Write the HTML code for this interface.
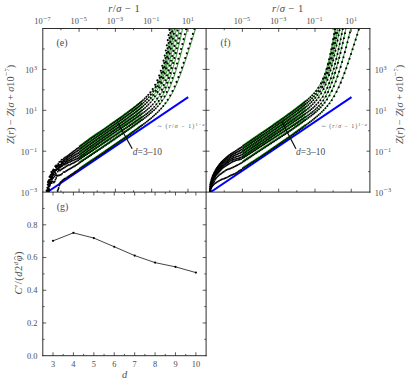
<!DOCTYPE html>
<html><head><meta charset="utf-8"><title>figure</title>
<style>html,body{margin:0;padding:0;background:#fff;}svg{display:block;}</style>
</head><body>
<svg width="407" height="384" viewBox="0 0 407 384">
<rect width="407" height="384" fill="#fff"/>
<clipPath id="clipe"><rect x="42.8" y="28.5" width="163.3" height="163.6"/></clipPath>
<g clip-path="url(#clipe)">
<line x1="47.1" y1="192.3" x2="188.2" y2="97.1" stroke="#0000ff" stroke-width="1.9"/>
<polyline fill="none" stroke="#008000" stroke-width="1.7" points="79.09,168.62 79.45,168.38 79.81,168.13 80.18,167.89 80.54,167.64 80.9,167.4 81.27,167.15 81.63,166.91 81.99,166.67 82.35,166.42 82.72,166.18 83.08,165.93 83.44,165.69 83.81,165.44 84.17,165.2 84.53,164.96 84.9,164.71 85.26,164.47 85.62,164.22 85.98,163.98 86.35,163.73 86.71,163.49 87.07,163.24 87.44,163 87.8,162.75 88.16,162.51 88.52,162.26 88.89,162.02 89.25,161.77 89.61,161.53 89.98,161.28 90.34,161.04 90.7,160.79 91.06,160.55 91.43,160.3 91.79,160.06 92.15,159.81 92.52,159.57 92.88,159.32 93.24,159.08 93.6,158.83 93.97,158.59 94.33,158.34 94.69,158.09 95.06,157.85 95.42,157.6 95.78,157.36 96.14,157.11 96.51,156.87 96.87,156.62 97.23,156.37 97.6,156.13 97.96,155.88 98.32,155.64 98.68,155.39 99.05,155.14 99.41,154.9 99.77,154.65 100.14,154.4 100.5,154.16 100.86,153.91 101.23,153.66 101.59,153.42 101.95,153.17 102.31,152.92 102.68,152.68 103.04,152.43 103.4,152.18 103.77,151.94 104.13,151.69 104.49,151.44 104.85,151.19 105.22,150.95 105.58,150.7 105.94,150.45 106.31,150.2 106.67,149.96 107.03,149.71 107.39,149.46 107.76,149.21 108.12,148.96 108.48,148.72 108.85,148.47 109.21,148.22 109.57,147.97 109.93,147.72 110.3,147.47 110.66,147.22 111.02,146.98 111.39,146.73 111.75,146.48 112.11,146.23 112.47,145.98 112.84,145.73 113.2,145.48 113.56,145.23 113.93,144.98 114.29,144.73 114.65,144.48 115.01,144.23 115.38,143.98 115.74,143.73 116.1,143.48 116.47,143.23 116.83,142.98 117.19,142.72 117.56,142.47 117.92,142.22 118.28,141.97 118.64,141.72 119.01,141.47 119.37,141.21 119.73,140.96 120.1,140.71 120.46,140.46 120.82,140.2 121.18,139.95 121.55,139.7 121.91,139.44 122.27,139.19 122.64,138.94 123,138.68 123.36,138.43 123.72,138.18 124.09,137.92 124.45,137.67 124.81,137.41 125.18,137.16 125.54,136.9 125.9,136.65 126.26,136.39 126.63,136.13 126.99,135.88 127.35,135.62 127.72,135.36 128.08,135.11 128.44,134.85 128.8,134.59 129.17,134.33 129.53,134.08 129.89,133.82 130.26,133.56 130.62,133.3 130.98,133.04 131.34,132.78 131.71,132.52 132.07,132.26 132.43,132 132.8,131.74 133.16,131.48 133.52,131.22 133.89,130.96 134.25,130.69 134.61,130.43 134.97,130.17 135.34,129.9 135.7,129.64 136.06,129.38 136.43,129.11 136.79,128.85 137.15,128.58 137.51,128.32 137.88,128.05 138.24,127.78 138.6,127.52 138.97,127.25 139.33,126.98 139.69,126.71 140.05,126.44 140.42,126.17 140.78,125.9 141.14,125.63 141.51,125.36 141.87,125.09 142.23,124.81 142.59,124.54"/>
<polyline fill="none" stroke="#008000" stroke-width="0.85" points="142.59,124.54 142.96,124.27 143.32,123.99 143.68,123.72 144.05,123.44 144.41,123.16 144.77,122.88 145.13,122.61 145.5,122.33 145.86,122.05 146.22,121.76 146.59,121.48 146.95,121.2 147.31,120.92 147.67,120.63 148.04,120.34 148.4,120.06 148.76,119.77 149.13,119.48 149.49,119.19 149.85,118.9 150.22,118.6 150.58,118.31 150.94,118.01 151.3,117.71 151.67,117.41 152.03,117.11 152.39,116.81 152.76,116.5 153.12,116.2 153.48,115.89 153.84,115.58 154.21,115.26 154.57,114.95 154.93,114.63 155.3,114.31 155.66,113.99 156.02,113.66 156.38,113.34 156.75,113.01 157.11,112.67 157.47,112.33 157.84,111.99 158.2,111.65 158.56,111.3 158.92,110.95 159.29,110.59 159.65,110.23 160.01,109.87 160.38,109.5 160.74,109.13 161.1,108.75 161.46,108.36 161.83,107.97 162.19,107.58 162.55,107.17 162.92,106.77 163.28,106.35 163.64,105.93 164,105.5 164.37,105.07 164.73,104.62 165.09,104.17 165.46,103.71 165.82,103.24 166.18,102.76 166.55,102.27 166.91,101.78 167.27,101.27 167.63,100.75 168,100.22 168.36,99.69 168.72,99.14 169.09,98.57 169.45,98 169.81,97.42 170.17,96.82 170.54,96.21 170.9,95.59 171.26,94.95 171.63,94.3 171.99,93.64 172.35,92.97 172.71,92.28 173.08,91.58 173.44,90.86 173.8,90.13 174.17,89.39 174.53,88.63 174.89,87.86 175.25,87.08 175.62,86.28 175.98,85.47 176.34,84.65 176.71,83.82 177.07,82.97 177.43,82.11 177.79,81.23 178.16,80.35 178.52,79.45 178.88,78.54 179.25,77.62 179.61,76.68 179.97,75.74 180.33,74.79 180.7,73.82 181.06,72.85 181.42,71.87 181.79,70.87 182.15,69.87 182.51,68.86 182.88,67.84 183.24,66.81 183.6,65.78 183.96,64.73 184.33,63.68 184.69,62.63 185.05,61.56 185.42,60.49 185.78,59.41 186.14,58.33 186.5,57.24 186.87,56.14 187.23,55.04 187.59,53.93 187.96,52.82 188.32,51.7 188.68,50.58 189.04,49.46 189.41,48.33 189.77,47.19 190.13,46.05 190.5,44.91 190.86,43.77 191.22,42.62 191.58,41.47 191.95,40.31 192.31,39.15 192.67,37.99 193.04,36.83 193.4,35.66 193.76,34.49 194.12,33.32 194.49,32.14 194.85,30.96 195.21,29.79 195.58,28.6 195.94,27.42 196.3,26.24 196.66,25.05 197.03,23.86 197.39,22.67 197.75,21.48"/>
<polyline fill="none" stroke="#008000" stroke-width="1.7" points="79.09,162.52 79.45,162.27 79.81,162.03 80.18,161.79 80.54,161.54 80.9,161.3 81.27,161.06 81.63,160.81 81.99,160.57 82.35,160.32 82.72,160.08 83.08,159.84 83.44,159.59 83.81,159.35 84.17,159.11 84.53,158.86 84.9,158.62 85.26,158.37 85.62,158.13 85.98,157.89 86.35,157.64 86.71,157.4 87.07,157.16 87.44,156.91 87.8,156.67 88.16,156.42 88.52,156.18 88.89,155.94 89.25,155.69 89.61,155.45 89.98,155.2 90.34,154.96 90.7,154.72 91.06,154.47 91.43,154.23 91.79,153.98 92.15,153.74 92.52,153.5 92.88,153.25 93.24,153.01 93.6,152.76 93.97,152.52 94.33,152.27 94.69,152.03 95.06,151.79 95.42,151.54 95.78,151.3 96.14,151.05 96.51,150.81 96.87,150.56 97.23,150.32 97.6,150.07 97.96,149.83 98.32,149.59 98.68,149.34 99.05,149.1 99.41,148.85 99.77,148.61 100.14,148.36 100.5,148.12 100.86,147.87 101.23,147.63 101.59,147.38 101.95,147.14 102.31,146.89 102.68,146.65 103.04,146.4 103.4,146.16 103.77,145.91 104.13,145.67 104.49,145.42 104.85,145.18 105.22,144.93 105.58,144.69 105.94,144.44 106.31,144.2 106.67,143.95 107.03,143.7 107.39,143.46 107.76,143.21 108.12,142.97 108.48,142.72 108.85,142.48 109.21,142.23 109.57,141.98 109.93,141.74 110.3,141.49 110.66,141.25 111.02,141 111.39,140.75 111.75,140.51 112.11,140.26 112.47,140.02 112.84,139.77 113.2,139.52 113.56,139.28 113.93,139.03 114.29,138.78 114.65,138.54 115.01,138.29 115.38,138.04 115.74,137.8 116.1,137.55 116.47,137.3 116.83,137.05 117.19,136.81 117.56,136.56 117.92,136.31 118.28,136.06 118.64,135.82 119.01,135.57 119.37,135.32 119.73,135.07 120.1,134.83 120.46,134.58 120.82,134.33 121.18,134.08 121.55,133.83 121.91,133.58 122.27,133.34 122.64,133.09 123,132.84 123.36,132.59 123.72,132.34 124.09,132.09 124.45,131.84 124.81,131.59 125.18,131.34 125.54,131.09 125.9,130.84 126.26,130.59 126.63,130.34 126.99,130.09 127.35,129.84 127.72,129.59 128.08,129.34 128.44,129.09 128.8,128.84 129.17,128.59 129.53,128.33 129.89,128.08 130.26,127.83 130.62,127.58 130.98,127.33 131.34,127.07 131.71,126.82 132.07,126.57 132.43,126.31 132.8,126.06 133.16,125.81 133.52,125.55 133.89,125.3 134.25,125.04 134.61,124.79 134.97,124.53 135.34,124.28 135.7,124.02 136.06,123.77 136.43,123.51 136.79,123.25 137.15,123 137.51,122.74 137.88,122.48 138.24,122.22 138.6,121.96 138.97,121.7 139.33,121.44 139.69,121.18 140.05,120.92 140.42,120.66 140.78,120.4 141.14,120.14 141.51,119.87 141.87,119.61 142.23,119.34 142.59,119.08"/>
<polyline fill="none" stroke="#008000" stroke-width="0.85" points="142.59,119.08 142.96,118.81 143.32,118.54 143.68,118.28 144.05,118.01 144.41,117.74 144.77,117.47 145.13,117.2 145.5,116.92 145.86,116.65 146.22,116.37 146.59,116.1 146.95,115.82 147.31,115.54 147.67,115.26 148.04,114.98 148.4,114.69 148.76,114.41 149.13,114.12 149.49,113.83 149.85,113.54 150.22,113.25 150.58,112.95 150.94,112.66 151.3,112.35 151.67,112.05 152.03,111.75 152.39,111.44 152.76,111.13 153.12,110.81 153.48,110.49 153.84,110.17 154.21,109.84 154.57,109.51 154.93,109.18 155.3,108.84 155.66,108.49 156.02,108.15 156.38,107.79 156.75,107.43 157.11,107.07 157.47,106.69 157.84,106.31 158.2,105.93 158.56,105.53 158.92,105.13 159.29,104.73 159.65,104.31 160.01,103.88 160.38,103.45 160.74,103 161.1,102.55 161.46,102.08 161.83,101.6 162.19,101.11 162.55,100.61 162.92,100.1 163.28,99.58 163.64,99.04 164,98.48 164.37,97.92 164.73,97.33 165.09,96.74 165.46,96.13 165.82,95.5 166.18,94.85 166.55,94.19 166.91,93.51 167.27,92.82 167.63,92.1 168,91.37 168.36,90.62 168.72,89.85 169.09,89.07 169.45,88.26 169.81,87.44 170.17,86.59 170.54,85.73 170.9,84.85 171.26,83.95 171.63,83.04 171.99,82.1 172.35,81.15 172.71,80.17 173.08,79.18 173.44,78.17 173.8,77.15 174.17,76.1 174.53,75.04 174.89,73.97 175.25,72.87 175.62,71.76 175.98,70.63 176.34,69.49 176.71,68.33 177.07,67.16 177.43,65.97 177.79,64.76 178.16,63.55 178.52,62.31 178.88,61.07 179.25,59.81 179.61,58.54 179.97,57.25 180.33,55.96 180.7,54.65 181.06,53.33 181.42,52 181.79,50.66 182.15,49.3 182.51,47.94 182.88,46.57 183.24,45.18 183.6,43.79 183.96,42.39 184.33,40.98 184.69,39.56 185.05,38.13 185.42,36.7 185.78,35.25 186.14,33.8 186.5,32.34 186.87,30.88 187.23,29.4 187.59,27.92 187.96,26.44 188.32,24.95 188.68,23.45 189.04,21.95"/>
<polyline fill="none" stroke="#008000" stroke-width="1.7" points="79.09,158.97 79.45,158.73 79.81,158.49 80.18,158.24 80.54,158 80.9,157.76 81.27,157.51 81.63,157.27 81.99,157.03 82.35,156.78 82.72,156.54 83.08,156.3 83.44,156.06 83.81,155.81 84.17,155.57 84.53,155.33 84.9,155.08 85.26,154.84 85.62,154.6 85.98,154.36 86.35,154.11 86.71,153.87 87.07,153.63 87.44,153.38 87.8,153.14 88.16,152.9 88.52,152.65 88.89,152.41 89.25,152.17 89.61,151.93 89.98,151.68 90.34,151.44 90.7,151.2 91.06,150.95 91.43,150.71 91.79,150.47 92.15,150.22 92.52,149.98 92.88,149.74 93.24,149.5 93.6,149.25 93.97,149.01 94.33,148.77 94.69,148.52 95.06,148.28 95.42,148.04 95.78,147.8 96.14,147.55 96.51,147.31 96.87,147.07 97.23,146.82 97.6,146.58 97.96,146.34 98.32,146.09 98.68,145.85 99.05,145.61 99.41,145.37 99.77,145.12 100.14,144.88 100.5,144.64 100.86,144.39 101.23,144.15 101.59,143.91 101.95,143.67 102.31,143.42 102.68,143.18 103.04,142.94 103.4,142.69 103.77,142.45 104.13,142.21 104.49,141.96 104.85,141.72 105.22,141.48 105.58,141.24 105.94,140.99 106.31,140.75 106.67,140.51 107.03,140.26 107.39,140.02 107.76,139.78 108.12,139.53 108.48,139.29 108.85,139.05 109.21,138.81 109.57,138.56 109.93,138.32 110.3,138.08 110.66,137.83 111.02,137.59 111.39,137.35 111.75,137.1 112.11,136.86 112.47,136.62 112.84,136.38 113.2,136.13 113.56,135.89 113.93,135.65 114.29,135.4 114.65,135.16 115.01,134.92 115.38,134.67 115.74,134.43 116.1,134.19 116.47,133.95 116.83,133.7 117.19,133.46 117.56,133.22 117.92,132.97 118.28,132.73 118.64,132.49 119.01,132.24 119.37,132 119.73,131.76 120.1,131.51 120.46,131.27 120.82,131.03 121.18,130.78 121.55,130.54 121.91,130.3 122.27,130.05 122.64,129.81 123,129.57 123.36,129.32 123.72,129.08 124.09,128.84 124.45,128.59 124.81,128.35 125.18,128.11 125.54,127.86 125.9,127.62 126.26,127.38 126.63,127.13 126.99,126.89 127.35,126.64 127.72,126.4 128.08,126.16 128.44,125.91 128.8,125.67 129.17,125.42 129.53,125.18 129.89,124.94 130.26,124.69 130.62,124.45 130.98,124.2 131.34,123.96 131.71,123.71 132.07,123.47 132.43,123.22 132.8,122.98 133.16,122.73 133.52,122.49 133.89,122.24 134.25,121.99 134.61,121.75 134.97,121.5 135.34,121.25 135.7,121.01 136.06,120.76 136.43,120.51 136.79,120.26 137.15,120.02 137.51,119.77 137.88,119.52 138.24,119.27 138.6,119.02 138.97,118.77 139.33,118.52 139.69,118.27 140.05,118.01 140.42,117.76 140.78,117.51 141.14,117.26 141.51,117 141.87,116.75 142.23,116.49 142.59,116.23"/>
<polyline fill="none" stroke="#008000" stroke-width="0.85" points="142.59,116.23 142.96,115.97 143.32,115.72 143.68,115.45 144.05,115.19 144.41,114.93 144.77,114.67 145.13,114.4 145.5,114.14 145.86,113.87 146.22,113.6 146.59,113.32 146.95,113.05 147.31,112.77 147.67,112.5 148.04,112.22 148.4,111.93 148.76,111.65 149.13,111.36 149.49,111.07 149.85,110.77 150.22,110.47 150.58,110.17 150.94,109.86 151.3,109.55 151.67,109.24 152.03,108.92 152.39,108.59 152.76,108.26 153.12,107.93 153.48,107.58 153.84,107.24 154.21,106.88 154.57,106.52 154.93,106.15 155.3,105.77 155.66,105.38 156.02,104.99 156.38,104.58 156.75,104.17 157.11,103.74 157.47,103.31 157.84,102.86 158.2,102.4 158.56,101.92 158.92,101.44 159.29,100.94 159.65,100.43 160.01,99.9 160.38,99.35 160.74,98.8 161.1,98.22 161.46,97.63 161.83,97.02 162.19,96.39 162.55,95.74 162.92,95.08 163.28,94.39 163.64,93.69 164,92.96 164.37,92.22 164.73,91.45 165.09,90.67 165.46,89.86 165.82,89.03 166.18,88.18 166.55,87.31 166.91,86.41 167.27,85.5 167.63,84.56 168,83.6 168.36,82.62 168.72,81.62 169.09,80.6 169.45,79.55 169.81,78.48 170.17,77.39 170.54,76.28 170.9,75.15 171.26,74 171.63,72.82 171.99,71.63 172.35,70.41 172.71,69.17 173.08,67.92 173.44,66.64 173.8,65.34 174.17,64.02 174.53,62.69 174.89,61.33 175.25,59.95 175.62,58.56 175.98,57.14 176.34,55.71 176.71,54.26 177.07,52.79 177.43,51.3 177.79,49.8 178.16,48.28 178.52,46.74 178.88,45.19 179.25,43.61 179.61,42.03 179.97,40.42 180.33,38.81 180.7,37.17 181.06,35.53 181.42,33.87 181.79,32.19 182.15,30.5 182.51,28.8 182.88,27.09 183.24,25.36 183.6,23.62 183.96,21.87"/>
<polyline fill="none" stroke="#008000" stroke-width="1.7" points="79.09,156.97 79.45,156.76 79.81,156.53 80.18,156.29 80.54,156.04 80.9,155.79 81.27,155.53 81.63,155.28 81.99,155.02 82.35,154.76 82.72,154.49 83.08,154.22 83.44,153.96 83.81,153.69 84.17,153.42 84.53,153.14 84.9,152.87 85.26,152.6 85.62,152.32 85.98,152.05 86.35,151.78 86.71,151.5 87.07,151.23 87.44,150.96 87.8,150.69 88.16,150.42 88.52,150.15 88.89,149.89 89.25,149.62 89.61,149.36 89.98,149.1 90.34,148.85 90.7,148.59 91.06,148.33 91.43,148.08 91.79,147.82 92.15,147.56 92.52,147.31 92.88,147.05 93.24,146.79 93.6,146.54 93.97,146.28 94.33,146.03 94.69,145.77 95.06,145.52 95.42,145.26 95.78,145 96.14,144.75 96.51,144.49 96.87,144.24 97.23,143.99 97.6,143.73 97.96,143.48 98.32,143.22 98.68,142.97 99.05,142.72 99.41,142.46 99.77,142.21 100.14,141.96 100.5,141.71 100.86,141.46 101.23,141.2 101.59,140.95 101.95,140.7 102.31,140.45 102.68,140.2 103.04,139.95 103.4,139.71 103.77,139.46 104.13,139.21 104.49,138.96 104.85,138.71 105.22,138.47 105.58,138.22 105.94,137.98 106.31,137.73 106.67,137.49 107.03,137.24 107.39,137 107.76,136.76 108.12,136.51 108.48,136.27 108.85,136.02 109.21,135.78 109.57,135.53 109.93,135.29 110.3,135.05 110.66,134.8 111.02,134.56 111.39,134.31 111.75,134.07 112.11,133.83 112.47,133.58 112.84,133.34 113.2,133.09 113.56,132.85 113.93,132.6 114.29,132.36 114.65,132.11 115.01,131.87 115.38,131.62 115.74,131.38 116.1,131.14 116.47,130.89 116.83,130.65 117.19,130.4 117.56,130.16 117.92,129.91 118.28,129.67 118.64,129.42 119.01,129.18 119.37,128.93 119.73,128.69 120.1,128.44 120.46,128.2 120.82,127.95 121.18,127.7 121.55,127.46 121.91,127.21 122.27,126.97 122.64,126.72 123,126.48 123.36,126.23 123.72,125.98 124.09,125.74 124.45,125.49 124.81,125.25 125.18,125 125.54,124.75 125.9,124.51 126.26,124.26 126.63,124.01 126.99,123.77 127.35,123.52 127.72,123.27 128.08,123.03 128.44,122.78 128.8,122.53 129.17,122.28 129.53,122.04 129.89,121.79 130.26,121.54 130.62,121.29 130.98,121.04 131.34,120.79 131.71,120.55 132.07,120.3 132.43,120.05 132.8,119.8 133.16,119.55 133.52,119.3 133.89,119.05 134.25,118.8 134.61,118.55 134.97,118.29 135.34,118.04 135.7,117.79 136.06,117.54 136.43,117.28 136.79,117.03 137.15,116.78 137.51,116.52 137.88,116.27 138.24,116.01 138.6,115.75 138.97,115.5 139.33,115.24 139.69,114.98 140.05,114.72 140.42,114.46 140.78,114.2 141.14,113.94 141.51,113.68 141.87,113.41 142.23,113.15 142.59,112.88"/>
<polyline fill="none" stroke="#008000" stroke-width="0.85" points="142.59,112.88 142.96,112.62 143.32,112.35 143.68,112.08 144.05,111.81 144.41,111.53 144.77,111.26 145.13,110.98 145.5,110.7 145.86,110.42 146.22,110.14 146.59,109.85 146.95,109.57 147.31,109.28 147.67,108.98 148.04,108.69 148.4,108.39 148.76,108.08 149.13,107.78 149.49,107.47 149.85,107.15 150.22,106.84 150.58,106.51 150.94,106.19 151.3,105.85 151.67,105.51 152.03,105.17 152.39,104.82 152.76,104.46 153.12,104.1 153.48,103.73 153.84,103.35 154.21,102.96 154.57,102.57 154.93,102.16 155.3,101.75 155.66,101.32 156.02,100.88 156.38,100.44 156.75,99.98 157.11,99.51 157.47,99.02 157.84,98.52 158.2,98.01 158.56,97.48 158.92,96.94 159.29,96.38 159.65,95.8 160.01,95.2 160.38,94.59 160.74,93.96 161.1,93.3 161.46,92.63 161.83,91.94 162.19,91.22 162.55,90.49 162.92,89.73 163.28,88.95 163.64,88.14 164,87.31 164.37,86.46 164.73,85.58 165.09,84.68 165.46,83.75 165.82,82.8 166.18,81.82 166.55,80.81 166.91,79.78 167.27,78.72 167.63,77.64 168,76.53 168.36,75.39 168.72,74.23 169.09,73.04 169.45,71.82 169.81,70.57 170.17,69.3 170.54,68 170.9,66.68 171.26,65.33 171.63,63.95 171.99,62.55 172.35,61.12 172.71,59.66 173.08,58.18 173.44,56.67 173.8,55.14 174.17,53.58 174.53,52 174.89,50.39 175.25,48.76 175.62,47.1 175.98,45.42 176.34,43.72 176.71,41.99 177.07,40.24 177.43,38.47 177.79,36.68 178.16,34.86 178.52,33.03 178.88,31.17 179.25,29.29 179.61,27.39 179.97,25.48 180.33,23.54 180.7,21.59"/>
<polyline fill="none" stroke="#008000" stroke-width="1.7" points="79.09,154.42 79.45,154.19 79.81,153.95 80.18,153.7 80.54,153.45 80.9,153.19 81.27,152.93 81.63,152.67 81.99,152.41 82.35,152.15 82.72,151.88 83.08,151.62 83.44,151.35 83.81,151.08 84.17,150.81 84.53,150.54 84.9,150.26 85.26,149.99 85.62,149.72 85.98,149.45 86.35,149.17 86.71,148.9 87.07,148.63 87.44,148.36 87.8,148.09 88.16,147.82 88.52,147.56 88.89,147.29 89.25,147.03 89.61,146.76 89.98,146.5 90.34,146.25 90.7,146 91.06,145.74 91.43,145.49 91.79,145.23 92.15,144.98 92.52,144.73 92.88,144.47 93.24,144.22 93.6,143.96 93.97,143.71 94.33,143.46 94.69,143.2 95.06,142.95 95.42,142.69 95.78,142.44 96.14,142.19 96.51,141.93 96.87,141.68 97.23,141.43 97.6,141.18 97.96,140.92 98.32,140.67 98.68,140.42 99.05,140.17 99.41,139.92 99.77,139.66 100.14,139.41 100.5,139.16 100.86,138.91 101.23,138.66 101.59,138.41 101.95,138.16 102.31,137.91 102.68,137.66 103.04,137.41 103.4,137.16 103.77,136.91 104.13,136.66 104.49,136.41 104.85,136.17 105.22,135.92 105.58,135.67 105.94,135.42 106.31,135.18 106.67,134.93 107.03,134.69 107.39,134.44 107.76,134.19 108.12,133.95 108.48,133.7 108.85,133.46 109.21,133.21 109.57,132.96 109.93,132.72 110.3,132.47 110.66,132.22 111.02,131.98 111.39,131.73 111.75,131.48 112.11,131.24 112.47,130.99 112.84,130.74 113.2,130.5 113.56,130.25 113.93,130 114.29,129.76 114.65,129.51 115.01,129.26 115.38,129.01 115.74,128.76 116.1,128.52 116.47,128.27 116.83,128.02 117.19,127.77 117.56,127.53 117.92,127.28 118.28,127.03 118.64,126.78 119.01,126.53 119.37,126.28 119.73,126.03 120.1,125.78 120.46,125.54 120.82,125.29 121.18,125.04 121.55,124.79 121.91,124.54 122.27,124.29 122.64,124.04 123,123.79 123.36,123.54 123.72,123.29 124.09,123.04 124.45,122.78 124.81,122.53 125.18,122.28 125.54,122.03 125.9,121.78 126.26,121.53 126.63,121.27 126.99,121.02 127.35,120.77 127.72,120.52 128.08,120.26 128.44,120.01 128.8,119.75 129.17,119.5 129.53,119.25 129.89,118.99 130.26,118.74 130.62,118.48 130.98,118.22 131.34,117.97 131.71,117.71 132.07,117.45 132.43,117.2 132.8,116.94 133.16,116.68 133.52,116.42 133.89,116.16 134.25,115.9 134.61,115.64 134.97,115.38 135.34,115.12 135.7,114.85 136.06,114.59 136.43,114.32 136.79,114.06 137.15,113.79 137.51,113.53 137.88,113.26 138.24,112.99 138.6,112.72 138.97,112.45 139.33,112.18 139.69,111.9 140.05,111.63 140.42,111.35 140.78,111.07 141.14,110.79 141.51,110.51 141.87,110.23 142.23,109.95 142.59,109.66"/>
<polyline fill="none" stroke="#008000" stroke-width="0.85" points="142.59,109.66 142.96,109.37 143.32,109.08 143.68,108.79 144.05,108.49 144.41,108.19 144.77,107.89 145.13,107.59 145.5,107.28 145.86,106.97 146.22,106.66 146.59,106.34 146.95,106.02 147.31,105.7 147.67,105.37 148.04,105.04 148.4,104.7 148.76,104.36 149.13,104.01 149.49,103.65 149.85,103.29 150.22,102.93 150.58,102.55 150.94,102.17 151.3,101.78 151.67,101.39 152.03,100.99 152.39,100.57 152.76,100.15 153.12,99.72 153.48,99.28 153.84,98.83 154.21,98.36 154.57,97.89 154.93,97.4 155.3,96.9 155.66,96.39 156.02,95.86 156.38,95.32 156.75,94.76 157.11,94.19 157.47,93.6 157.84,93 158.2,92.37 158.56,91.73 158.92,91.07 159.29,90.39 159.65,89.69 160.01,88.97 160.38,88.23 160.74,87.47 161.1,86.68 161.46,85.87 161.83,85.04 162.19,84.18 162.55,83.3 162.92,82.39 163.28,81.46 163.64,80.51 164,79.52 164.37,78.51 164.73,77.48 165.09,76.41 165.46,75.32 165.82,74.2 166.18,73.06 166.55,71.88 166.91,70.67 167.27,69.44 167.63,68.18 168,66.88 168.36,65.56 168.72,64.21 169.09,62.82 169.45,61.41 169.81,59.97 170.17,58.49 170.54,56.99 170.9,55.45 171.26,53.88 171.63,52.28 171.99,50.66 172.35,49 172.71,47.31 173.08,45.59 173.44,43.84 173.8,42.06 174.17,40.25 174.53,38.41 174.89,36.54 175.25,34.64 175.62,32.71 175.98,30.76 176.34,28.78 176.71,26.77 177.07,24.73 177.43,22.67 177.79,20.58"/>
<polyline fill="none" stroke="#008000" stroke-width="1.7" points="79.09,151.76 79.45,151.51 79.81,151.26 80.18,151.01 80.54,150.75 80.9,150.49 81.27,150.23 81.63,149.96 81.99,149.7 82.35,149.43 82.72,149.17 83.08,148.9 83.44,148.63 83.81,148.36 84.17,148.09 84.53,147.82 84.9,147.55 85.26,147.28 85.62,147.01 85.98,146.74 86.35,146.47 86.71,146.2 87.07,145.93 87.44,145.66 87.8,145.39 88.16,145.12 88.52,144.85 88.89,144.59 89.25,144.32 89.61,144.06 89.98,143.8 90.34,143.54 90.7,143.29 91.06,143.04 91.43,142.79 91.79,142.54 92.15,142.29 92.52,142.03 92.88,141.78 93.24,141.53 93.6,141.28 93.97,141.03 94.33,140.77 94.69,140.52 95.06,140.27 95.42,140.02 95.78,139.77 96.14,139.52 96.51,139.26 96.87,139.01 97.23,138.76 97.6,138.51 97.96,138.26 98.32,138.01 98.68,137.76 99.05,137.51 99.41,137.25 99.77,137 100.14,136.75 100.5,136.5 100.86,136.25 101.23,136 101.59,135.75 101.95,135.5 102.31,135.25 102.68,135 103.04,134.75 103.4,134.5 103.77,134.25 104.13,134 104.49,133.75 104.85,133.5 105.22,133.25 105.58,133.01 105.94,132.76 106.31,132.51 106.67,132.26 107.03,132.01 107.39,131.77 107.76,131.52 108.12,131.27 108.48,131.02 108.85,130.77 109.21,130.52 109.57,130.27 109.93,130.03 110.3,129.78 110.66,129.53 111.02,129.28 111.39,129.03 111.75,128.78 112.11,128.53 112.47,128.28 112.84,128.03 113.2,127.78 113.56,127.53 113.93,127.28 114.29,127.03 114.65,126.78 115.01,126.53 115.38,126.28 115.74,126.03 116.1,125.78 116.47,125.52 116.83,125.27 117.19,125.02 117.56,124.77 117.92,124.52 118.28,124.27 118.64,124.01 119.01,123.76 119.37,123.51 119.73,123.26 120.1,123 120.46,122.75 120.82,122.5 121.18,122.24 121.55,121.99 121.91,121.73 122.27,121.48 122.64,121.23 123,120.97 123.36,120.72 123.72,120.46 124.09,120.2 124.45,119.95 124.81,119.69 125.18,119.44 125.54,119.18 125.9,118.92 126.26,118.66 126.63,118.41 126.99,118.15 127.35,117.89 127.72,117.63 128.08,117.37 128.44,117.11 128.8,116.85 129.17,116.59 129.53,116.33 129.89,116.07 130.26,115.81 130.62,115.54 130.98,115.28 131.34,115.02 131.71,114.75 132.07,114.49 132.43,114.22 132.8,113.96 133.16,113.69 133.52,113.43 133.89,113.16 134.25,112.89 134.61,112.62 134.97,112.35 135.34,112.08 135.7,111.81 136.06,111.53 136.43,111.26 136.79,110.99 137.15,110.71 137.51,110.43 137.88,110.16 138.24,109.88 138.6,109.6 138.97,109.32 139.33,109.03 139.69,108.75 140.05,108.46 140.42,108.18 140.78,107.89 141.14,107.59 141.51,107.3 141.87,107.01 142.23,106.71 142.59,106.41"/>
<polyline fill="none" stroke="#008000" stroke-width="0.85" points="142.59,106.41 142.96,106.11 143.32,105.81 143.68,105.5 144.05,105.19 144.41,104.88 144.77,104.56 145.13,104.24 145.5,103.92 145.86,103.6 146.22,103.27 146.59,102.94 146.95,102.6 147.31,102.26 147.67,101.91 148.04,101.56 148.4,101.2 148.76,100.84 149.13,100.47 149.49,100.1 149.85,99.72 150.22,99.33 150.58,98.94 150.94,98.54 151.3,98.13 151.67,97.71 152.03,97.28 152.39,96.84 152.76,96.4 153.12,95.94 153.48,95.47 153.84,94.99 154.21,94.5 154.57,93.99 154.93,93.47 155.3,92.94 155.66,92.39 156.02,91.83 156.38,91.25 156.75,90.66 157.11,90.05 157.47,89.42 157.84,88.77 158.2,88.1 158.56,87.41 158.92,86.69 159.29,85.96 159.65,85.21 160.01,84.43 160.38,83.62 160.74,82.8 161.1,81.94 161.46,81.06 161.83,80.16 162.19,79.22 162.55,78.26 162.92,77.27 163.28,76.25 163.64,75.2 164,74.11 164.37,73 164.73,71.86 165.09,70.68 165.46,69.47 165.82,68.23 166.18,66.95 166.55,65.64 166.91,64.29 167.27,62.91 167.63,61.5 168,60.05 168.36,58.56 168.72,57.04 169.09,55.48 169.45,53.89 169.81,52.26 170.17,50.59 170.54,48.89 170.9,47.15 171.26,45.37 171.63,43.56 171.99,41.71 172.35,39.83 172.71,37.91 173.08,35.95 173.44,33.96 173.8,31.93 174.17,29.87 174.53,27.77 174.89,25.64 175.25,23.48 175.62,21.28"/>
<polyline fill="none" stroke="#008000" stroke-width="1.7" points="79.09,149.1 79.45,148.84 79.81,148.58 80.18,148.32 80.54,148.06 80.9,147.79 81.27,147.53 81.63,147.26 81.99,146.99 82.35,146.72 82.72,146.46 83.08,146.19 83.44,145.92 83.81,145.65 84.17,145.38 84.53,145.11 84.9,144.84 85.26,144.57 85.62,144.3 85.98,144.03 86.35,143.76 86.71,143.5 87.07,143.23 87.44,142.96 87.8,142.69 88.16,142.42 88.52,142.16 88.89,141.89 89.25,141.62 89.61,141.36 89.98,141.1 90.34,140.85 90.7,140.6 91.06,140.35 91.43,140.1 91.79,139.85 92.15,139.6 92.52,139.35 92.88,139.1 93.24,138.85 93.6,138.6 93.97,138.35 94.33,138.1 94.69,137.85 95.06,137.6 95.42,137.35 95.78,137.1 96.14,136.85 96.51,136.6 96.87,136.35 97.23,136.1 97.6,135.85 97.96,135.6 98.32,135.35 98.68,135.1 99.05,134.85 99.41,134.6 99.77,134.35 100.14,134.1 100.5,133.85 100.86,133.6 101.23,133.35 101.59,133.11 101.95,132.86 102.31,132.61 102.68,132.36 103.04,132.11 103.4,131.86 103.77,131.61 104.13,131.36 104.49,131.11 104.85,130.86 105.22,130.61 105.58,130.36 105.94,130.11 106.31,129.86 106.67,129.61 107.03,129.36 107.39,129.11 107.76,128.86 108.12,128.61 108.48,128.36 108.85,128.11 109.21,127.86 109.57,127.6 109.93,127.35 110.3,127.1 110.66,126.85 111.02,126.6 111.39,126.35 111.75,126.1 112.11,125.85 112.47,125.59 112.84,125.34 113.2,125.09 113.56,124.84 113.93,124.58 114.29,124.33 114.65,124.08 115.01,123.82 115.38,123.57 115.74,123.32 116.1,123.06 116.47,122.81 116.83,122.56 117.19,122.3 117.56,122.05 117.92,121.79 118.28,121.54 118.64,121.28 119.01,121.03 119.37,120.77 119.73,120.51 120.1,120.26 120.46,120 120.82,119.74 121.18,119.49 121.55,119.23 121.91,118.97 122.27,118.71 122.64,118.46 123,118.2 123.36,117.94 123.72,117.68 124.09,117.42 124.45,117.16 124.81,116.9 125.18,116.64 125.54,116.38 125.9,116.12 126.26,115.85 126.63,115.59 126.99,115.33 127.35,115.07 127.72,114.8 128.08,114.54 128.44,114.28 128.8,114.01 129.17,113.75 129.53,113.48 129.89,113.21 130.26,112.95 130.62,112.68 130.98,112.41 131.34,112.14 131.71,111.87 132.07,111.6 132.43,111.33 132.8,111.06 133.16,110.79 133.52,110.52 133.89,110.24 134.25,109.97 134.61,109.7 134.97,109.42 135.34,109.14 135.7,108.87 136.06,108.59 136.43,108.31 136.79,108.03 137.15,107.75 137.51,107.46 137.88,107.18 138.24,106.89 138.6,106.61 138.97,106.32 139.33,106.03 139.69,105.74 140.05,105.45 140.42,105.15 140.78,104.86 141.14,104.56 141.51,104.26 141.87,103.96 142.23,103.66 142.59,103.35"/>
<polyline fill="none" stroke="#008000" stroke-width="0.85" points="142.59,103.35 142.96,103.04 143.32,102.73 143.68,102.42 144.05,102.11 144.41,101.79 144.77,101.47 145.13,101.14 145.5,100.81 145.86,100.48 146.22,100.15 146.59,99.81 146.95,99.46 147.31,99.12 147.67,98.77 148.04,98.41 148.4,98.05 148.76,97.68 149.13,97.3 149.49,96.93 149.85,96.54 150.22,96.15 150.58,95.75 150.94,95.34 151.3,94.92 151.67,94.5 152.03,94.06 152.39,93.62 152.76,93.17 153.12,92.7 153.48,92.23 153.84,91.74 154.21,91.24 154.57,90.73 154.93,90.2 155.3,89.66 155.66,89.1 156.02,88.52 156.38,87.93 156.75,87.32 157.11,86.69 157.47,86.04 157.84,85.37 158.2,84.68 158.56,83.97 158.92,83.23 159.29,82.46 159.65,81.68 160.01,80.86 160.38,80.02 160.74,79.14 161.1,78.24 161.46,77.31 161.83,76.35 162.19,75.35 162.55,74.32 162.92,73.26 163.28,72.16 163.64,71.02 164,69.85 164.37,68.64 164.73,67.4 165.09,66.11 165.46,64.79 165.82,63.42 166.18,62.02 166.55,60.58 166.91,59.09 167.27,57.57 167.63,56 168,54.39 168.36,52.74 168.72,51.05 169.09,49.31 169.45,47.53 169.81,45.71 170.17,43.85 170.54,41.95 170.9,40 171.26,38.01 171.63,35.98 171.99,33.91 172.35,31.79 172.71,29.64 173.08,27.44 173.44,25.2 173.8,22.92 174.17,20.61"/>
<polyline fill="none" stroke="#008000" stroke-width="1.7" points="79.09,146.55 79.45,146.28 79.81,146.01 80.18,145.74 80.54,145.47 80.9,145.2 81.27,144.93 81.63,144.66 81.99,144.39 82.35,144.13 82.72,143.86 83.08,143.59 83.44,143.32 83.81,143.05 84.17,142.78 84.53,142.51 84.9,142.25 85.26,141.98 85.62,141.71 85.98,141.44 86.35,141.18 86.71,140.91 87.07,140.64 87.44,140.37 87.8,140.11 88.16,139.84 88.52,139.57 88.89,139.31 89.25,139.04 89.61,138.78 89.98,138.51 90.34,138.26 90.7,138.02 91.06,137.77 91.43,137.52 91.79,137.28 92.15,137.03 92.52,136.78 92.88,136.54 93.24,136.29 93.6,136.04 93.97,135.8 94.33,135.55 94.69,135.3 95.06,135.05 95.42,134.81 95.78,134.56 96.14,134.31 96.51,134.06 96.87,133.82 97.23,133.57 97.6,133.32 97.96,133.07 98.32,132.82 98.68,132.58 99.05,132.33 99.41,132.08 99.77,131.83 100.14,131.58 100.5,131.33 100.86,131.08 101.23,130.84 101.59,130.59 101.95,130.34 102.31,130.09 102.68,129.84 103.04,129.59 103.4,129.34 103.77,129.09 104.13,128.84 104.49,128.59 104.85,128.34 105.22,128.09 105.58,127.84 105.94,127.59 106.31,127.34 106.67,127.09 107.03,126.84 107.39,126.58 107.76,126.33 108.12,126.08 108.48,125.83 108.85,125.58 109.21,125.33 109.57,125.07 109.93,124.82 110.3,124.57 110.66,124.32 111.02,124.06 111.39,123.81 111.75,123.56 112.11,123.3 112.47,123.05 112.84,122.8 113.2,122.54 113.56,122.29 113.93,122.03 114.29,121.78 114.65,121.53 115.01,121.27 115.38,121.02 115.74,120.76 116.1,120.5 116.47,120.25 116.83,119.99 117.19,119.74 117.56,119.48 117.92,119.22 118.28,118.97 118.64,118.71 119.01,118.45 119.37,118.19 119.73,117.93 120.1,117.68 120.46,117.42 120.82,117.16 121.18,116.9 121.55,116.64 121.91,116.38 122.27,116.12 122.64,115.86 123,115.6 123.36,115.34 123.72,115.07 124.09,114.81 124.45,114.55 124.81,114.29 125.18,114.02 125.54,113.76 125.9,113.5 126.26,113.23 126.63,112.97 126.99,112.7 127.35,112.44 127.72,112.17 128.08,111.9 128.44,111.64 128.8,111.37 129.17,111.1 129.53,110.83 129.89,110.56 130.26,110.29 130.62,110.02 130.98,109.75 131.34,109.48 131.71,109.21 132.07,108.93 132.43,108.66 132.8,108.38 133.16,108.11 133.52,107.83 133.89,107.56 134.25,107.28 134.61,107 134.97,106.72 135.34,106.44 135.7,106.16 136.06,105.88 136.43,105.6 136.79,105.31 137.15,105.03 137.51,104.74 137.88,104.45 138.24,104.16 138.6,103.87 138.97,103.58 139.33,103.29 139.69,102.99 140.05,102.7 140.42,102.4 140.78,102.1 141.14,101.8 141.51,101.5 141.87,101.19 142.23,100.89 142.59,100.58"/>
<polyline fill="none" stroke="#008000" stroke-width="0.85" points="142.59,100.58 142.96,100.26 143.32,99.95 143.68,99.63 144.05,99.32 144.41,98.99 144.77,98.67 145.13,98.34 145.5,98.01 145.86,97.68 146.22,97.34 146.59,96.99 146.95,96.65 147.31,96.3 147.67,95.94 148.04,95.58 148.4,95.22 148.76,94.85 149.13,94.47 149.49,94.09 149.85,93.7 150.22,93.3 150.58,92.9 150.94,92.49 151.3,92.07 151.67,91.64 152.03,91.2 152.39,90.75 152.76,90.29 153.12,89.82 153.48,89.34 153.84,88.85 154.21,88.34 154.57,87.82 154.93,87.28 155.3,86.73 155.66,86.16 156.02,85.57 156.38,84.97 156.75,84.34 157.11,83.69 157.47,83.02 157.84,82.33 158.2,81.62 158.56,80.87 158.92,80.1 159.29,79.31 159.65,78.48 160.01,77.62 160.38,76.73 160.74,75.81 161.1,74.85 161.46,73.86 161.83,72.83 162.19,71.77 162.55,70.66 162.92,69.51 163.28,68.33 163.64,67.1 164,65.83 164.37,64.51 164.73,63.16 165.09,61.75 165.46,60.3 165.82,58.81 166.18,57.27 166.55,55.68 166.91,54.05 167.27,52.36 167.63,50.63 168,48.86 168.36,47.03 168.72,45.16 169.09,43.24 169.45,41.27 169.81,39.25 170.17,37.19 170.54,35.08 170.9,32.92 171.26,30.71 171.63,28.45 171.99,26.15 172.35,23.8 172.71,21.41"/>
<g fill="#000"><circle cx="56.44" cy="195.74" r="0.95"/><circle cx="57.03" cy="193.13" r="0.95"/><circle cx="57.61" cy="190.97" r="0.95"/><circle cx="58.11" cy="189.54" r="0.95"/><circle cx="58.69" cy="188.02" r="0.95"/><circle cx="59.28" cy="185.43" r="0.95"/><circle cx="59.78" cy="184.34" r="0.95"/><circle cx="60.29" cy="182.7" r="0.95"/><circle cx="61.09" cy="181.65" r="0.95"/><circle cx="62.32" cy="180.51" r="0.95"/><circle cx="63.56" cy="179.45" r="0.95"/><circle cx="64.79" cy="178.82" r="0.95"/><circle cx="66.02" cy="178.1" r="0.95"/><circle cx="67.26" cy="177.28" r="0.95"/><circle cx="68.49" cy="176.45" r="0.95"/><circle cx="69.73" cy="175.62" r="0.95"/><circle cx="70.96" cy="174.79" r="0.95"/><circle cx="72.19" cy="173.96" r="0.95"/><circle cx="73.43" cy="173.13" r="0.95"/><circle cx="74.66" cy="172.3" r="0.95"/><circle cx="75.9" cy="171.47" r="0.95"/><circle cx="77.13" cy="170.64" r="0.95"/><circle cx="78.36" cy="169.81" r="0.95"/><circle cx="79.89" cy="168.79" r="0.88"/><circle cx="81.41" cy="167.76" r="0.88"/><circle cx="82.94" cy="166.73" r="0.88"/><circle cx="84.46" cy="165.7" r="0.88"/><circle cx="85.98" cy="164.68" r="0.88"/><circle cx="87.51" cy="163.65" r="0.88"/><circle cx="89.03" cy="162.62" r="0.88"/><circle cx="90.56" cy="161.59" r="0.88"/><circle cx="92.08" cy="160.56" r="0.88"/><circle cx="93.6" cy="159.52" r="0.88"/><circle cx="95.13" cy="158.49" r="0.88"/><circle cx="96.65" cy="157.46" r="0.88"/><circle cx="98.18" cy="156.42" r="0.88"/><circle cx="99.7" cy="155.38" r="0.88"/><circle cx="101.23" cy="154.35" r="0.88"/><circle cx="102.75" cy="153.31" r="0.88"/><circle cx="104.27" cy="152.27" r="0.88"/><circle cx="105.8" cy="151.22" r="0.88"/><circle cx="107.32" cy="150.18" r="0.88"/><circle cx="108.85" cy="149.13" r="0.88"/><circle cx="110.37" cy="148.08" r="0.88"/><circle cx="111.89" cy="147.03" r="0.88"/><circle cx="113.42" cy="145.98" r="0.88"/><circle cx="114.94" cy="144.93" r="0.88"/><circle cx="116.47" cy="143.87" r="0.88"/><circle cx="117.99" cy="142.81" r="0.88"/><circle cx="119.51" cy="141.74" r="0.88"/><circle cx="121.04" cy="140.68" r="0.88"/><circle cx="122.56" cy="139.6" r="0.88"/><circle cx="124.09" cy="138.53" r="0.88"/><circle cx="125.61" cy="137.45" r="0.88"/><circle cx="127.14" cy="136.37" r="0.88"/><circle cx="128.66" cy="135.28" r="0.88"/><circle cx="130.18" cy="134.18" r="0.88"/><circle cx="131.71" cy="133.08" r="0.88"/><circle cx="133.23" cy="131.97" r="0.88"/><circle cx="134.76" cy="130.86" r="0.88"/><circle cx="136.28" cy="129.74" r="0.88"/><circle cx="137.8" cy="128.61" r="0.88"/><circle cx="139.33" cy="127.47" r="0.88"/><circle cx="140.85" cy="126.32" r="0.88"/><circle cx="142.38" cy="125.15" r="0.88"/><circle cx="143.9" cy="123.98" r="0.88"/><circle cx="145.42" cy="122.78" r="0.88"/><circle cx="146.88" cy="121.63" r="0.88"/><circle cx="148.33" cy="120.46" r="0.88"/><circle cx="149.78" cy="119.26" r="0.88"/><circle cx="151.23" cy="118.04" r="0.88"/><circle cx="152.76" cy="116.73" r="0.89"/><circle cx="154.28" cy="115.37" r="0.89"/><circle cx="155.88" cy="113.9" r="0.9"/><circle cx="157.55" cy="112.29" r="0.91"/><circle cx="159.29" cy="110.51" r="0.92"/><circle cx="161.17" cy="108.46" r="0.93"/><circle cx="163.21" cy="106.04" r="0.95"/><circle cx="165.38" cy="103.18" r="0.98"/><circle cx="167.71" cy="99.73" r="1.01"/><circle cx="170.17" cy="95.55" r="1.05"/><circle cx="172.5" cy="91.07" r="1.06"/><circle cx="174.6" cy="86.54" r="1.06"/><circle cx="176.56" cy="81.93" r="1.06"/><circle cx="178.45" cy="77.17" r="1.06"/><circle cx="180.19" cy="72.52" r="1.06"/><circle cx="181.93" cy="67.65" r="1.06"/><circle cx="183.6" cy="62.82" r="1.06"/><circle cx="185.2" cy="58.07" r="1.06"/><circle cx="186.79" cy="53.21" r="1.06"/><circle cx="188.32" cy="48.48" r="1.06"/><circle cx="189.84" cy="43.68" r="1.06"/><circle cx="191.37" cy="38.82" r="1.06"/><circle cx="192.89" cy="33.92" r="1.06"/><circle cx="194.41" cy="28.97" r="1.06"/><circle cx="195.87" cy="24.22" r="1.06"/><circle cx="197.32" cy="19.45" r="1.06"/><circle cx="46.5" cy="190.5" r="0.95"/><circle cx="47.08" cy="190.46" r="0.95"/><circle cx="47.74" cy="187.96" r="0.95"/><circle cx="48.46" cy="186.55" r="0.95"/><circle cx="49.4" cy="186.6" r="0.95"/><circle cx="50.49" cy="182.87" r="0.95"/><circle cx="51.65" cy="183.16" r="0.95"/><circle cx="52.74" cy="181.48" r="0.95"/><circle cx="53.83" cy="182.45" r="0.95"/><circle cx="54.7" cy="181.4" r="0.95"/><circle cx="55.43" cy="179.62" r="0.95"/><circle cx="56.15" cy="177.98" r="0.95"/><circle cx="57.03" cy="175.88" r="0.95"/><circle cx="58.26" cy="175.47" r="0.95"/><circle cx="59.57" cy="175.3" r="0.95"/><circle cx="60.87" cy="174.8" r="0.95"/><circle cx="62.18" cy="173.63" r="0.95"/><circle cx="63.48" cy="172.12" r="0.95"/><circle cx="64.79" cy="171.93" r="0.95"/><circle cx="66.1" cy="170.96" r="0.95"/><circle cx="67.4" cy="170.19" r="0.95"/><circle cx="68.71" cy="169.42" r="0.95"/><circle cx="70.02" cy="168.7" r="0.95"/><circle cx="71.32" cy="168" r="0.95"/><circle cx="72.63" cy="167.28" r="0.95"/><circle cx="73.94" cy="166.5" r="0.95"/><circle cx="75.24" cy="165.69" r="0.95"/><circle cx="76.48" cy="164.92" r="0.95"/><circle cx="77.71" cy="164.13" r="0.95"/><circle cx="78.94" cy="163.32" r="0.95"/><circle cx="80.47" cy="162.3" r="0.88"/><circle cx="81.99" cy="161.28" r="0.88"/><circle cx="83.52" cy="160.25" r="0.88"/><circle cx="85.04" cy="159.23" r="0.88"/><circle cx="86.56" cy="158.2" r="0.88"/><circle cx="88.09" cy="157.18" r="0.88"/><circle cx="89.61" cy="156.15" r="0.88"/><circle cx="91.14" cy="155.13" r="0.88"/><circle cx="92.66" cy="154.1" r="0.88"/><circle cx="94.19" cy="153.07" r="0.88"/><circle cx="95.71" cy="152.05" r="0.88"/><circle cx="97.23" cy="151.02" r="0.88"/><circle cx="98.76" cy="149.99" r="0.88"/><circle cx="100.28" cy="148.96" r="0.88"/><circle cx="101.81" cy="147.93" r="0.88"/><circle cx="103.33" cy="146.9" r="0.88"/><circle cx="104.85" cy="145.87" r="0.88"/><circle cx="106.38" cy="144.84" r="0.88"/><circle cx="107.9" cy="143.8" r="0.88"/><circle cx="109.43" cy="142.77" r="0.88"/><circle cx="110.95" cy="141.73" r="0.88"/><circle cx="112.47" cy="140.7" r="0.88"/><circle cx="114" cy="139.66" r="0.88"/><circle cx="115.6" cy="138.57" r="0.88"/><circle cx="117.19" cy="137.48" r="0.88"/><circle cx="118.79" cy="136.39" r="0.88"/><circle cx="120.39" cy="135.29" r="0.88"/><circle cx="121.98" cy="134.19" r="0.88"/><circle cx="123.51" cy="133.14" r="0.88"/><circle cx="125.03" cy="132.09" r="0.88"/><circle cx="126.55" cy="131.04" r="0.88"/><circle cx="128.08" cy="129.98" r="0.88"/><circle cx="129.6" cy="128.91" r="0.88"/><circle cx="131.13" cy="127.85" r="0.88"/><circle cx="132.65" cy="126.78" r="0.88"/><circle cx="134.18" cy="125.7" r="0.88"/><circle cx="135.7" cy="124.62" r="0.88"/><circle cx="137.22" cy="123.52" r="0.88"/><circle cx="138.75" cy="122.42" r="0.88"/><circle cx="140.27" cy="121.31" r="0.88"/><circle cx="141.8" cy="120.19" r="0.88"/><circle cx="143.32" cy="119.05" r="0.88"/><circle cx="144.84" cy="117.89" r="0.88"/><circle cx="146.37" cy="116.71" r="0.88"/><circle cx="147.82" cy="115.55" r="0.88"/><circle cx="149.27" cy="114.36" r="0.88"/><circle cx="150.8" cy="113.07" r="0.88"/><circle cx="152.32" cy="111.72" r="0.89"/><circle cx="153.99" cy="110.16" r="0.9"/><circle cx="155.73" cy="108.41" r="0.91"/><circle cx="157.62" cy="106.35" r="0.93"/><circle cx="159.72" cy="103.77" r="0.96"/><circle cx="161.97" cy="100.61" r="1"/><circle cx="164.44" cy="96.54" r="1.05"/><circle cx="166.76" cy="92.03" r="1.06"/><circle cx="168.8" cy="87.49" r="1.06"/><circle cx="170.68" cy="82.75" r="1.06"/><circle cx="172.42" cy="77.95" r="1.06"/><circle cx="174.02" cy="73.21" r="1.06"/><circle cx="175.54" cy="68.39" r="1.06"/><circle cx="177" cy="63.56" r="1.06"/><circle cx="178.38" cy="58.77" r="1.06"/><circle cx="179.75" cy="53.81" r="1.06"/><circle cx="181.06" cy="48.95" r="1.06"/><circle cx="182.37" cy="43.97" r="1.06"/><circle cx="183.6" cy="39.16" r="1.06"/><circle cx="184.83" cy="34.25" r="1.06"/><circle cx="186.07" cy="29.25" r="1.06"/><circle cx="187.3" cy="24.19" r="1.06"/><circle cx="188.46" cy="19.36" r="1.06"/><circle cx="47.08" cy="200.82" r="0.95"/><circle cx="47.44" cy="196.74" r="0.95"/><circle cx="47.81" cy="194.53" r="0.95"/><circle cx="48.17" cy="193.03" r="0.95"/><circle cx="48.53" cy="191.37" r="0.95"/><circle cx="48.9" cy="188.69" r="0.95"/><circle cx="49.33" cy="186.06" r="0.95"/><circle cx="49.84" cy="184.83" r="0.95"/><circle cx="50.42" cy="183.34" r="0.95"/><circle cx="50.93" cy="182.2" r="0.95"/><circle cx="51.65" cy="179.78" r="0.95"/><circle cx="52.53" cy="178.21" r="0.95"/><circle cx="53.47" cy="174.81" r="0.95"/><circle cx="54.49" cy="176.58" r="0.95"/><circle cx="55.57" cy="175.08" r="0.95"/><circle cx="56.66" cy="175.26" r="0.95"/><circle cx="57.75" cy="171.6" r="0.95"/><circle cx="58.84" cy="170.2" r="0.95"/><circle cx="60" cy="170.57" r="0.95"/><circle cx="61.23" cy="169.51" r="0.95"/><circle cx="62.47" cy="168.73" r="0.95"/><circle cx="63.7" cy="167.94" r="0.95"/><circle cx="64.94" cy="167.28" r="0.95"/><circle cx="66.24" cy="166.2" r="0.95"/><circle cx="67.55" cy="165.55" r="0.95"/><circle cx="68.93" cy="165.01" r="0.95"/><circle cx="70.31" cy="164.46" r="0.95"/><circle cx="71.61" cy="163.82" r="0.95"/><circle cx="72.92" cy="163.16" r="0.95"/><circle cx="74.23" cy="162.5" r="0.95"/><circle cx="75.53" cy="161.81" r="0.95"/><circle cx="76.84" cy="161.08" r="0.95"/><circle cx="78.15" cy="160.3" r="0.95"/><circle cx="79.67" cy="159.3" r="0.88"/><circle cx="81.19" cy="158.28" r="0.88"/><circle cx="82.72" cy="157.26" r="0.88"/><circle cx="84.24" cy="156.24" r="0.88"/><circle cx="85.77" cy="155.22" r="0.88"/><circle cx="87.29" cy="154.2" r="0.88"/><circle cx="88.81" cy="153.18" r="0.88"/><circle cx="90.34" cy="152.16" r="0.88"/><circle cx="91.86" cy="151.14" r="0.88"/><circle cx="93.39" cy="150.11" r="0.88"/><circle cx="94.91" cy="149.09" r="0.88"/><circle cx="96.43" cy="148.07" r="0.88"/><circle cx="97.96" cy="147.05" r="0.88"/><circle cx="99.48" cy="146.03" r="0.88"/><circle cx="101.01" cy="145.01" r="0.88"/><circle cx="102.53" cy="143.99" r="0.88"/><circle cx="104.06" cy="142.97" r="0.88"/><circle cx="105.58" cy="141.95" r="0.88"/><circle cx="107.1" cy="140.93" r="0.88"/><circle cx="108.63" cy="139.91" r="0.88"/><circle cx="110.15" cy="138.89" r="0.88"/><circle cx="111.68" cy="137.87" r="0.88"/><circle cx="113.2" cy="136.85" r="0.88"/><circle cx="114.72" cy="135.83" r="0.88"/><circle cx="116.32" cy="134.76" r="0.88"/><circle cx="117.92" cy="133.69" r="0.88"/><circle cx="119.51" cy="132.62" r="0.88"/><circle cx="121.11" cy="131.55" r="0.88"/><circle cx="122.71" cy="130.48" r="0.88"/><circle cx="124.3" cy="129.4" r="0.88"/><circle cx="125.9" cy="128.33" r="0.88"/><circle cx="127.5" cy="127.26" r="0.88"/><circle cx="129.09" cy="126.18" r="0.88"/><circle cx="130.69" cy="125.1" r="0.88"/><circle cx="132.29" cy="124.02" r="0.88"/><circle cx="133.89" cy="122.93" r="0.88"/><circle cx="135.48" cy="121.84" r="0.88"/><circle cx="137.01" cy="120.79" r="0.88"/><circle cx="138.53" cy="119.74" r="0.88"/><circle cx="140.05" cy="118.67" r="0.88"/><circle cx="141.58" cy="117.58" r="0.88"/><circle cx="143.1" cy="116.47" r="0.88"/><circle cx="144.63" cy="115.34" r="0.88"/><circle cx="146.15" cy="114.17" r="0.88"/><circle cx="147.6" cy="113.02" r="0.88"/><circle cx="149.05" cy="111.81" r="0.88"/><circle cx="150.65" cy="110.4" r="0.89"/><circle cx="152.32" cy="108.81" r="0.91"/><circle cx="154.21" cy="106.82" r="0.93"/><circle cx="156.31" cy="104.3" r="0.96"/><circle cx="158.63" cy="101.02" r="1"/><circle cx="161.17" cy="96.69" r="1.06"/><circle cx="163.42" cy="92.09" r="1.06"/><circle cx="165.38" cy="87.45" r="1.06"/><circle cx="167.13" cy="82.81" r="1.06"/><circle cx="168.8" cy="77.9" r="1.06"/><circle cx="170.32" cy="73.04" r="1.06"/><circle cx="171.77" cy="68.07" r="1.06"/><circle cx="173.15" cy="63.06" r="1.06"/><circle cx="174.46" cy="58.06" r="1.06"/><circle cx="175.69" cy="53.11" r="1.06"/><circle cx="176.85" cy="48.28" r="1.06"/><circle cx="178.01" cy="43.27" r="1.06"/><circle cx="179.1" cy="38.43" r="1.06"/><circle cx="180.19" cy="33.46" r="1.06"/><circle cx="181.28" cy="28.37" r="1.06"/><circle cx="182.29" cy="23.52" r="1.06"/><circle cx="183.31" cy="18.57" r="1.06"/><circle cx="47.44" cy="199.53" r="0.95"/><circle cx="47.74" cy="195.54" r="0.95"/><circle cx="48.03" cy="194.49" r="0.95"/><circle cx="48.39" cy="192.23" r="0.95"/><circle cx="48.75" cy="190.01" r="0.95"/><circle cx="49.19" cy="190" r="0.95"/><circle cx="49.62" cy="184.69" r="0.95"/><circle cx="50.13" cy="182.99" r="0.95"/><circle cx="50.71" cy="181.37" r="0.95"/><circle cx="51.36" cy="182.03" r="0.95"/><circle cx="51.87" cy="179.07" r="0.95"/><circle cx="52.45" cy="176.04" r="0.95"/><circle cx="53.18" cy="177.76" r="0.95"/><circle cx="53.98" cy="174.71" r="0.95"/><circle cx="54.85" cy="172.14" r="0.95"/><circle cx="55.79" cy="173.55" r="0.95"/><circle cx="56.81" cy="169.1" r="0.95"/><circle cx="57.82" cy="169.27" r="0.95"/><circle cx="58.91" cy="168.97" r="0.95"/><circle cx="60" cy="167.6" r="0.95"/><circle cx="61.16" cy="166.44" r="0.95"/><circle cx="62.32" cy="165.89" r="0.95"/><circle cx="63.56" cy="164.72" r="0.95"/><circle cx="64.86" cy="164.47" r="0.95"/><circle cx="66.17" cy="163.65" r="0.95"/><circle cx="67.48" cy="163" r="0.95"/><circle cx="68.86" cy="162.35" r="0.95"/><circle cx="70.23" cy="161.72" r="0.95"/><circle cx="71.61" cy="161.06" r="0.95"/><circle cx="72.99" cy="160.42" r="0.95"/><circle cx="74.37" cy="159.84" r="0.95"/><circle cx="75.75" cy="159.29" r="0.95"/><circle cx="77.13" cy="158.69" r="0.95"/><circle cx="78.44" cy="158.05" r="0.95"/><circle cx="80.03" cy="157.1" r="0.88"/><circle cx="81.56" cy="156.04" r="0.88"/><circle cx="83.08" cy="154.94" r="0.88"/><circle cx="84.53" cy="153.86" r="0.88"/><circle cx="85.98" cy="152.76" r="0.88"/><circle cx="87.44" cy="151.67" r="0.88"/><circle cx="88.89" cy="150.6" r="0.88"/><circle cx="90.41" cy="149.51" r="0.88"/><circle cx="91.94" cy="148.43" r="0.88"/><circle cx="93.46" cy="147.35" r="0.88"/><circle cx="94.98" cy="146.28" r="0.88"/><circle cx="96.51" cy="145.2" r="0.88"/><circle cx="98.03" cy="144.13" r="0.88"/><circle cx="99.56" cy="143.07" r="0.88"/><circle cx="101.08" cy="142.01" r="0.88"/><circle cx="102.6" cy="140.96" r="0.88"/><circle cx="104.13" cy="139.91" r="0.88"/><circle cx="105.65" cy="138.88" r="0.88"/><circle cx="107.18" cy="137.85" r="0.88"/><circle cx="108.7" cy="136.82" r="0.88"/><circle cx="110.22" cy="135.8" r="0.88"/><circle cx="111.75" cy="134.77" r="0.88"/><circle cx="113.27" cy="133.74" r="0.88"/><circle cx="114.8" cy="132.71" r="0.88"/><circle cx="116.39" cy="131.63" r="0.88"/><circle cx="117.99" cy="130.56" r="0.88"/><circle cx="119.59" cy="129.47" r="0.88"/><circle cx="121.18" cy="128.39" r="0.88"/><circle cx="122.78" cy="127.31" r="0.88"/><circle cx="124.38" cy="126.22" r="0.88"/><circle cx="125.97" cy="125.14" r="0.88"/><circle cx="127.57" cy="124.04" r="0.88"/><circle cx="129.17" cy="122.95" r="0.88"/><circle cx="130.76" cy="121.85" r="0.88"/><circle cx="132.29" cy="120.8" r="0.88"/><circle cx="133.81" cy="119.74" r="0.88"/><circle cx="135.34" cy="118.67" r="0.88"/><circle cx="136.86" cy="117.59" r="0.88"/><circle cx="138.38" cy="116.5" r="0.88"/><circle cx="139.91" cy="115.4" r="0.88"/><circle cx="141.43" cy="114.27" r="0.88"/><circle cx="142.96" cy="113.12" r="0.88"/><circle cx="144.48" cy="111.93" r="0.88"/><circle cx="145.93" cy="110.76" r="0.88"/><circle cx="147.46" cy="109.47" r="0.88"/><circle cx="149.05" cy="108.05" r="0.89"/><circle cx="150.8" cy="106.38" r="0.91"/><circle cx="152.68" cy="104.38" r="0.93"/><circle cx="154.79" cy="101.85" r="0.96"/><circle cx="157.11" cy="98.56" r="1"/><circle cx="159.65" cy="94.2" r="1.06"/><circle cx="161.83" cy="89.68" r="1.06"/><circle cx="163.71" cy="85.09" r="1.06"/><circle cx="165.46" cy="80.26" r="1.06"/><circle cx="167.05" cy="75.32" r="1.06"/><circle cx="168.5" cy="70.39" r="1.06"/><circle cx="169.81" cy="65.59" r="1.06"/><circle cx="171.04" cy="60.76" r="1.06"/><circle cx="172.21" cy="55.94" r="1.06"/><circle cx="173.37" cy="50.86" r="1.06"/><circle cx="174.46" cy="45.88" r="1.06"/><circle cx="175.54" cy="40.68" r="1.06"/><circle cx="176.56" cy="35.66" r="1.06"/><circle cx="177.58" cy="30.47" r="1.06"/><circle cx="178.52" cy="25.51" r="1.06"/><circle cx="179.46" cy="20.42" r="1.06"/><circle cx="47.08" cy="201.41" r="0.95"/><circle cx="47.37" cy="198.66" r="0.95"/><circle cx="47.66" cy="192.76" r="0.95"/><circle cx="47.95" cy="191.98" r="0.95"/><circle cx="48.32" cy="190" r="0.95"/><circle cx="48.75" cy="190.28" r="0.95"/><circle cx="49.19" cy="185.56" r="0.95"/><circle cx="49.69" cy="184.8" r="0.95"/><circle cx="50.28" cy="182.09" r="0.95"/><circle cx="50.93" cy="179.24" r="0.95"/><circle cx="51.51" cy="178.12" r="0.95"/><circle cx="52.09" cy="176.67" r="0.95"/><circle cx="52.74" cy="174.34" r="0.95"/><circle cx="53.54" cy="173.45" r="0.95"/><circle cx="54.41" cy="171.96" r="0.95"/><circle cx="55.28" cy="170.45" r="0.95"/><circle cx="56.23" cy="170.15" r="0.95"/><circle cx="57.24" cy="169.05" r="0.95"/><circle cx="58.33" cy="167.71" r="0.95"/><circle cx="59.42" cy="166.64" r="0.95"/><circle cx="60.51" cy="166.11" r="0.95"/><circle cx="61.67" cy="164.93" r="0.95"/><circle cx="62.83" cy="163.72" r="0.95"/><circle cx="64.07" cy="163.59" r="0.95"/><circle cx="65.3" cy="162.47" r="0.95"/><circle cx="66.61" cy="161.77" r="0.95"/><circle cx="67.91" cy="161.05" r="0.95"/><circle cx="69.22" cy="160.34" r="0.95"/><circle cx="70.52" cy="159.64" r="0.95"/><circle cx="71.83" cy="158.93" r="0.95"/><circle cx="73.14" cy="158.23" r="0.95"/><circle cx="74.44" cy="157.58" r="0.95"/><circle cx="75.75" cy="156.94" r="0.95"/><circle cx="77.06" cy="156.28" r="0.95"/><circle cx="78.36" cy="155.56" r="0.95"/><circle cx="79.89" cy="154.61" r="0.88"/><circle cx="81.41" cy="153.54" r="0.88"/><circle cx="82.94" cy="152.43" r="0.88"/><circle cx="84.39" cy="151.35" r="0.88"/><circle cx="85.84" cy="150.26" r="0.88"/><circle cx="87.29" cy="149.17" r="0.88"/><circle cx="88.74" cy="148.1" r="0.88"/><circle cx="90.27" cy="147" r="0.88"/><circle cx="91.79" cy="145.93" r="0.88"/><circle cx="93.31" cy="144.86" r="0.88"/><circle cx="94.84" cy="143.8" r="0.88"/><circle cx="96.36" cy="142.73" r="0.88"/><circle cx="97.89" cy="141.67" r="0.88"/><circle cx="99.41" cy="140.61" r="0.88"/><circle cx="100.93" cy="139.55" r="0.88"/><circle cx="102.46" cy="138.5" r="0.88"/><circle cx="103.98" cy="137.45" r="0.88"/><circle cx="105.51" cy="136.4" r="0.88"/><circle cx="107.03" cy="135.36" r="0.88"/><circle cx="108.56" cy="134.33" r="0.88"/><circle cx="110.08" cy="133.29" r="0.88"/><circle cx="111.6" cy="132.25" r="0.88"/><circle cx="113.13" cy="131.21" r="0.88"/><circle cx="114.65" cy="130.17" r="0.88"/><circle cx="116.25" cy="129.07" r="0.88"/><circle cx="117.85" cy="127.98" r="0.88"/><circle cx="119.37" cy="126.93" r="0.88"/><circle cx="120.89" cy="125.87" r="0.88"/><circle cx="122.42" cy="124.82" r="0.88"/><circle cx="123.94" cy="123.76" r="0.88"/><circle cx="125.47" cy="122.69" r="0.88"/><circle cx="126.99" cy="121.62" r="0.88"/><circle cx="128.51" cy="120.55" r="0.88"/><circle cx="130.04" cy="119.46" r="0.88"/><circle cx="131.56" cy="118.37" r="0.88"/><circle cx="133.09" cy="117.27" r="0.88"/><circle cx="134.61" cy="116.16" r="0.88"/><circle cx="136.14" cy="115.02" r="0.88"/><circle cx="137.66" cy="113.87" r="0.88"/><circle cx="139.18" cy="112.7" r="0.88"/><circle cx="140.63" cy="111.55" r="0.88"/><circle cx="142.09" cy="110.37" r="0.88"/><circle cx="143.54" cy="109.15" r="0.88"/><circle cx="145.06" cy="107.8" r="0.89"/><circle cx="146.73" cy="106.24" r="0.9"/><circle cx="148.47" cy="104.49" r="0.92"/><circle cx="150.43" cy="102.32" r="0.94"/><circle cx="152.54" cy="99.69" r="0.97"/><circle cx="154.86" cy="96.31" r="1.01"/><circle cx="157.33" cy="92.01" r="1.06"/><circle cx="159.51" cy="87.48" r="1.06"/><circle cx="161.39" cy="82.89" r="1.06"/><circle cx="163.13" cy="78.06" r="1.06"/><circle cx="164.66" cy="73.34" r="1.06"/><circle cx="166.11" cy="68.38" r="1.06"/><circle cx="167.42" cy="63.51" r="1.06"/><circle cx="168.65" cy="58.56" r="1.06"/><circle cx="169.81" cy="53.59" r="1.06"/><circle cx="170.9" cy="48.64" r="1.06"/><circle cx="171.92" cy="43.77" r="1.06"/><circle cx="172.93" cy="38.67" r="1.06"/><circle cx="173.88" cy="33.74" r="1.06"/><circle cx="174.82" cy="28.61" r="1.06"/><circle cx="175.69" cy="23.71" r="1.06"/><circle cx="176.56" cy="18.66" r="1.06"/><circle cx="46.79" cy="199.81" r="0.95"/><circle cx="47.01" cy="197.77" r="0.95"/><circle cx="47.3" cy="195.77" r="0.95"/><circle cx="47.59" cy="191.94" r="0.95"/><circle cx="47.88" cy="189.97" r="0.95"/><circle cx="48.24" cy="188.47" r="0.95"/><circle cx="48.68" cy="182.94" r="0.95"/><circle cx="49.19" cy="183.04" r="0.95"/><circle cx="49.77" cy="181.93" r="0.95"/><circle cx="50.42" cy="179.38" r="0.95"/><circle cx="51" cy="177.83" r="0.95"/><circle cx="51.51" cy="176.29" r="0.95"/><circle cx="52.09" cy="177.9" r="0.95"/><circle cx="52.82" cy="173.97" r="0.95"/><circle cx="53.61" cy="171.02" r="0.95"/><circle cx="54.49" cy="172.22" r="0.95"/><circle cx="55.43" cy="169.73" r="0.95"/><circle cx="56.37" cy="167.44" r="0.95"/><circle cx="57.39" cy="166.46" r="0.95"/><circle cx="58.48" cy="164.88" r="0.95"/><circle cx="59.57" cy="166.77" r="0.95"/><circle cx="60.65" cy="164.61" r="0.95"/><circle cx="61.82" cy="163.57" r="0.95"/><circle cx="62.98" cy="162.22" r="0.95"/><circle cx="64.21" cy="161.3" r="0.95"/><circle cx="65.44" cy="161.08" r="0.95"/><circle cx="66.68" cy="159.96" r="0.95"/><circle cx="67.91" cy="159.19" r="0.95"/><circle cx="69.22" cy="158.39" r="0.95"/><circle cx="70.52" cy="157.59" r="0.95"/><circle cx="71.83" cy="156.79" r="0.95"/><circle cx="73.14" cy="156" r="0.95"/><circle cx="74.44" cy="155.24" r="0.95"/><circle cx="75.75" cy="154.5" r="0.95"/><circle cx="77.06" cy="153.73" r="0.95"/><circle cx="78.36" cy="152.93" r="0.95"/><circle cx="79.89" cy="151.91" r="0.88"/><circle cx="81.41" cy="150.82" r="0.88"/><circle cx="82.94" cy="149.7" r="0.88"/><circle cx="84.39" cy="148.62" r="0.88"/><circle cx="85.84" cy="147.54" r="0.88"/><circle cx="87.29" cy="146.45" r="0.88"/><circle cx="88.74" cy="145.38" r="0.88"/><circle cx="90.27" cy="144.28" r="0.88"/><circle cx="91.79" cy="143.22" r="0.88"/><circle cx="93.31" cy="142.16" r="0.88"/><circle cx="94.84" cy="141.1" r="0.88"/><circle cx="96.36" cy="140.04" r="0.88"/><circle cx="97.89" cy="138.98" r="0.88"/><circle cx="99.41" cy="137.92" r="0.88"/><circle cx="100.93" cy="136.87" r="0.88"/><circle cx="102.46" cy="135.81" r="0.88"/><circle cx="103.98" cy="134.76" r="0.88"/><circle cx="105.51" cy="133.71" r="0.88"/><circle cx="107.03" cy="132.66" r="0.88"/><circle cx="108.56" cy="131.61" r="0.88"/><circle cx="110.08" cy="130.56" r="0.88"/><circle cx="111.6" cy="129.51" r="0.88"/><circle cx="113.13" cy="128.45" r="0.88"/><circle cx="114.65" cy="127.39" r="0.88"/><circle cx="116.18" cy="126.33" r="0.88"/><circle cx="117.7" cy="125.27" r="0.88"/><circle cx="119.22" cy="124.2" r="0.88"/><circle cx="120.75" cy="123.12" r="0.88"/><circle cx="122.27" cy="122.04" r="0.88"/><circle cx="123.8" cy="120.96" r="0.88"/><circle cx="125.32" cy="119.87" r="0.88"/><circle cx="126.85" cy="118.77" r="0.88"/><circle cx="128.37" cy="117.66" r="0.88"/><circle cx="129.89" cy="116.55" r="0.88"/><circle cx="131.42" cy="115.42" r="0.88"/><circle cx="132.94" cy="114.28" r="0.88"/><circle cx="134.47" cy="113.13" r="0.88"/><circle cx="135.99" cy="111.95" r="0.88"/><circle cx="137.51" cy="110.75" r="0.88"/><circle cx="138.97" cy="109.59" r="0.88"/><circle cx="140.42" cy="108.39" r="0.88"/><circle cx="141.94" cy="107.09" r="0.88"/><circle cx="143.47" cy="105.74" r="0.89"/><circle cx="145.13" cy="104.18" r="0.9"/><circle cx="146.88" cy="102.45" r="0.91"/><circle cx="148.76" cy="100.41" r="0.93"/><circle cx="150.8" cy="97.97" r="0.96"/><circle cx="153.05" cy="94.88" r="0.99"/><circle cx="155.59" cy="90.72" r="1.05"/><circle cx="157.84" cy="86.28" r="1.06"/><circle cx="159.8" cy="81.69" r="1.06"/><circle cx="161.54" cy="76.97" r="1.06"/><circle cx="163.13" cy="72.04" r="1.06"/><circle cx="164.59" cy="67.03" r="1.06"/><circle cx="165.89" cy="62.07" r="1.06"/><circle cx="167.13" cy="56.96" r="1.06"/><circle cx="168.21" cy="52.11" r="1.06"/><circle cx="169.3" cy="46.94" r="1.06"/><circle cx="170.32" cy="41.82" r="1.06"/><circle cx="171.26" cy="36.81" r="1.06"/><circle cx="172.21" cy="31.56" r="1.06"/><circle cx="173.08" cy="26.51" r="1.06"/><circle cx="173.95" cy="21.27" r="1.06"/><circle cx="46.57" cy="199.76" r="0.95"/><circle cx="46.79" cy="197.68" r="0.95"/><circle cx="47.01" cy="194.36" r="0.95"/><circle cx="47.23" cy="194.09" r="0.95"/><circle cx="47.52" cy="193.02" r="0.95"/><circle cx="47.81" cy="190.34" r="0.95"/><circle cx="48.1" cy="184.87" r="0.95"/><circle cx="48.53" cy="180.76" r="0.95"/><circle cx="49.04" cy="181.72" r="0.95"/><circle cx="49.69" cy="179.89" r="0.95"/><circle cx="50.2" cy="177.35" r="0.95"/><circle cx="50.71" cy="176.47" r="0.95"/><circle cx="51.29" cy="174.37" r="0.95"/><circle cx="51.87" cy="173.32" r="0.95"/><circle cx="52.53" cy="170.93" r="0.95"/><circle cx="53.32" cy="169.35" r="0.95"/><circle cx="54.19" cy="171.08" r="0.95"/><circle cx="55.07" cy="170.25" r="0.95"/><circle cx="56.01" cy="167.24" r="0.95"/><circle cx="57.03" cy="166.16" r="0.95"/><circle cx="58.04" cy="165.68" r="0.95"/><circle cx="59.13" cy="165.27" r="0.95"/><circle cx="60.22" cy="164.65" r="0.95"/><circle cx="61.38" cy="162.01" r="0.95"/><circle cx="62.54" cy="162.04" r="0.95"/><circle cx="63.7" cy="160.57" r="0.95"/><circle cx="64.94" cy="159.44" r="0.95"/><circle cx="66.17" cy="158.56" r="0.95"/><circle cx="67.4" cy="157.69" r="0.95"/><circle cx="68.64" cy="156.84" r="0.95"/><circle cx="69.87" cy="155.99" r="0.95"/><circle cx="71.11" cy="155.15" r="0.95"/><circle cx="72.34" cy="154.31" r="0.95"/><circle cx="73.57" cy="153.49" r="0.95"/><circle cx="74.81" cy="152.67" r="0.95"/><circle cx="76.04" cy="151.86" r="0.95"/><circle cx="77.27" cy="151.04" r="0.95"/><circle cx="78.51" cy="150.2" r="0.95"/><circle cx="80.03" cy="149.12" r="0.88"/><circle cx="81.56" cy="148" r="0.88"/><circle cx="83.01" cy="146.93" r="0.88"/><circle cx="84.46" cy="145.85" r="0.88"/><circle cx="85.91" cy="144.77" r="0.88"/><circle cx="87.36" cy="143.69" r="0.88"/><circle cx="88.81" cy="142.62" r="0.88"/><circle cx="90.34" cy="141.52" r="0.88"/><circle cx="91.86" cy="140.47" r="0.88"/><circle cx="93.39" cy="139.42" r="0.88"/><circle cx="94.91" cy="138.36" r="0.88"/><circle cx="96.43" cy="137.31" r="0.88"/><circle cx="97.96" cy="136.26" r="0.88"/><circle cx="99.48" cy="135.2" r="0.88"/><circle cx="101.01" cy="134.15" r="0.88"/><circle cx="102.53" cy="133.09" r="0.88"/><circle cx="104.06" cy="132.04" r="0.88"/><circle cx="105.58" cy="130.98" r="0.88"/><circle cx="107.1" cy="129.92" r="0.88"/><circle cx="108.63" cy="128.86" r="0.88"/><circle cx="110.15" cy="127.8" r="0.88"/><circle cx="111.68" cy="126.74" r="0.88"/><circle cx="113.2" cy="125.67" r="0.88"/><circle cx="114.72" cy="124.6" r="0.88"/><circle cx="116.25" cy="123.52" r="0.88"/><circle cx="117.77" cy="122.44" r="0.88"/><circle cx="119.3" cy="121.35" r="0.88"/><circle cx="120.82" cy="120.26" r="0.88"/><circle cx="122.35" cy="119.16" r="0.88"/><circle cx="123.87" cy="118.06" r="0.88"/><circle cx="125.39" cy="116.95" r="0.88"/><circle cx="126.92" cy="115.83" r="0.88"/><circle cx="128.44" cy="114.7" r="0.88"/><circle cx="129.97" cy="113.55" r="0.88"/><circle cx="131.49" cy="112.4" r="0.88"/><circle cx="133.01" cy="111.23" r="0.88"/><circle cx="134.54" cy="110.05" r="0.88"/><circle cx="135.99" cy="108.9" r="0.88"/><circle cx="137.44" cy="107.73" r="0.88"/><circle cx="138.89" cy="106.53" r="0.88"/><circle cx="140.34" cy="105.31" r="0.88"/><circle cx="141.87" cy="103.98" r="0.89"/><circle cx="143.47" cy="102.53" r="0.89"/><circle cx="145.13" cy="100.93" r="0.9"/><circle cx="146.88" cy="99.16" r="0.92"/><circle cx="148.76" cy="97.09" r="0.93"/><circle cx="150.87" cy="94.5" r="0.96"/><circle cx="153.19" cy="91.21" r="1"/><circle cx="155.73" cy="86.87" r="1.06"/><circle cx="157.91" cy="82.33" r="1.06"/><circle cx="159.8" cy="77.63" r="1.06"/><circle cx="161.46" cy="72.76" r="1.06"/><circle cx="162.92" cy="67.92" r="1.06"/><circle cx="164.22" cy="63.05" r="1.06"/><circle cx="165.46" cy="57.98" r="1.06"/><circle cx="166.55" cy="53.12" r="1.06"/><circle cx="167.56" cy="48.24" r="1.06"/><circle cx="168.58" cy="43.03" r="1.06"/><circle cx="169.52" cy="37.89" r="1.06"/><circle cx="170.39" cy="32.91" r="1.06"/><circle cx="171.26" cy="27.68" r="1.06"/><circle cx="172.06" cy="22.69" r="1.06"/><circle cx="46.5" cy="197.87" r="0.95"/><circle cx="46.72" cy="195.26" r="0.95"/><circle cx="46.94" cy="191.59" r="0.95"/><circle cx="47.15" cy="192.18" r="0.95"/><circle cx="47.37" cy="187.67" r="0.95"/><circle cx="47.66" cy="184.53" r="0.95"/><circle cx="47.95" cy="182.16" r="0.95"/><circle cx="48.39" cy="181.62" r="0.95"/><circle cx="48.97" cy="180.15" r="0.95"/><circle cx="49.48" cy="176.71" r="0.95"/><circle cx="50.06" cy="176.28" r="0.95"/><circle cx="50.64" cy="174.88" r="0.95"/><circle cx="51.29" cy="171.94" r="0.95"/><circle cx="51.94" cy="172.46" r="0.95"/><circle cx="52.67" cy="173.37" r="0.95"/><circle cx="53.47" cy="169.92" r="0.95"/><circle cx="54.34" cy="170.31" r="0.95"/><circle cx="55.21" cy="166.14" r="0.95"/><circle cx="56.15" cy="165.54" r="0.95"/><circle cx="57.17" cy="165.45" r="0.95"/><circle cx="58.26" cy="163.67" r="0.95"/><circle cx="59.35" cy="161.89" r="0.95"/><circle cx="60.44" cy="161.56" r="0.95"/><circle cx="61.6" cy="159.82" r="0.95"/><circle cx="62.76" cy="159.67" r="0.95"/><circle cx="63.92" cy="158.39" r="0.95"/><circle cx="65.08" cy="157.55" r="0.95"/><circle cx="66.24" cy="156.85" r="0.95"/><circle cx="67.4" cy="155.99" r="0.95"/><circle cx="68.57" cy="155.1" r="0.95"/><circle cx="69.73" cy="154.21" r="0.95"/><circle cx="70.89" cy="153.34" r="0.95"/><circle cx="72.05" cy="152.47" r="0.95"/><circle cx="73.28" cy="151.55" r="0.95"/><circle cx="74.52" cy="150.63" r="0.95"/><circle cx="75.75" cy="149.72" r="0.95"/><circle cx="76.98" cy="148.8" r="0.95"/><circle cx="78.22" cy="147.89" r="0.95"/><circle cx="79.67" cy="146.81" r="0.88"/><circle cx="81.12" cy="145.72" r="0.88"/><circle cx="82.57" cy="144.64" r="0.88"/><circle cx="84.02" cy="143.57" r="0.88"/><circle cx="85.48" cy="142.49" r="0.88"/><circle cx="86.93" cy="141.42" r="0.88"/><circle cx="88.38" cy="140.35" r="0.88"/><circle cx="89.83" cy="139.28" r="0.88"/><circle cx="91.35" cy="138.23" r="0.88"/><circle cx="92.88" cy="137.19" r="0.88"/><circle cx="94.4" cy="136.15" r="0.88"/><circle cx="95.93" cy="135.1" r="0.88"/><circle cx="97.45" cy="134.06" r="0.88"/><circle cx="98.98" cy="133.01" r="0.88"/><circle cx="100.5" cy="131.96" r="0.88"/><circle cx="102.02" cy="130.91" r="0.88"/><circle cx="103.55" cy="129.85" r="0.88"/><circle cx="105.07" cy="128.79" r="0.88"/><circle cx="106.6" cy="127.73" r="0.88"/><circle cx="108.12" cy="126.67" r="0.88"/><circle cx="109.64" cy="125.6" r="0.88"/><circle cx="111.17" cy="124.53" r="0.88"/><circle cx="112.69" cy="123.45" r="0.88"/><circle cx="114.22" cy="122.37" r="0.88"/><circle cx="115.74" cy="121.29" r="0.88"/><circle cx="117.26" cy="120.2" r="0.88"/><circle cx="118.79" cy="119.1" r="0.88"/><circle cx="120.31" cy="118" r="0.88"/><circle cx="121.84" cy="116.89" r="0.88"/><circle cx="123.36" cy="115.77" r="0.88"/><circle cx="124.89" cy="114.65" r="0.88"/><circle cx="126.41" cy="113.52" r="0.88"/><circle cx="127.93" cy="112.38" r="0.88"/><circle cx="129.46" cy="111.22" r="0.88"/><circle cx="130.98" cy="110.06" r="0.88"/><circle cx="132.51" cy="108.88" r="0.88"/><circle cx="134.03" cy="107.68" r="0.88"/><circle cx="135.48" cy="106.52" r="0.88"/><circle cx="136.93" cy="105.34" r="0.88"/><circle cx="138.38" cy="104.13" r="0.88"/><circle cx="139.84" cy="102.9" r="0.88"/><circle cx="141.36" cy="101.56" r="0.89"/><circle cx="142.96" cy="100.11" r="0.89"/><circle cx="144.63" cy="98.52" r="0.9"/><circle cx="146.37" cy="96.76" r="0.92"/><circle cx="148.26" cy="94.71" r="0.93"/><circle cx="150.29" cy="92.25" r="0.96"/><circle cx="152.61" cy="89.02" r="1"/><circle cx="155.15" cy="84.75" r="1.06"/><circle cx="157.33" cy="80.23" r="1.06"/><circle cx="159.21" cy="75.47" r="1.06"/><circle cx="160.81" cy="70.71" r="1.06"/><circle cx="162.26" cy="65.71" r="1.06"/><circle cx="163.57" cy="60.63" r="1.06"/><circle cx="164.73" cy="55.62" r="1.06"/><circle cx="165.82" cy="50.49" r="1.06"/><circle cx="166.84" cy="45.32" r="1.06"/><circle cx="167.78" cy="40.18" r="1.06"/><circle cx="168.65" cy="35.15" r="1.06"/><circle cx="169.52" cy="29.85" r="1.06"/><circle cx="170.32" cy="24.76" r="1.06"/><circle cx="171.12" cy="19.44" r="1.06"/></g>
</g>
<clipPath id="clipf"><rect x="206.1" y="28.5" width="163.8" height="163.6"/></clipPath>
<g clip-path="url(#clipf)">
<line x1="210.4" y1="192.3" x2="351.5" y2="97.1" stroke="#0000ff" stroke-width="1.9"/>
<polyline fill="none" stroke="#008000" stroke-width="1.7" points="242.39,168.21 242.75,167.98 243.11,167.74 243.48,167.51 243.84,167.27 244.2,167.04 244.57,166.8 244.93,166.56 245.29,166.33 245.65,166.09 246.02,165.86 246.38,165.62 246.74,165.39 247.11,165.15 247.47,164.92 247.83,164.68 248.2,164.44 248.56,164.21 248.92,163.97 249.28,163.74 249.65,163.5 250.01,163.26 250.37,163.03 250.74,162.79 251.1,162.55 251.46,162.32 251.82,162.08 252.19,161.84 252.55,161.61 252.91,161.37 253.28,161.13 253.64,160.9 254,160.66 254.36,160.42 254.73,160.19 255.09,159.95 255.45,159.71 255.82,159.47 256.18,159.23 256.54,159 256.9,158.76 257.27,158.52 257.63,158.28 257.99,158.04 258.36,157.81 258.72,157.57 259.08,157.33 259.44,157.09 259.81,156.85 260.17,156.61 260.53,156.37 260.9,156.13 261.26,155.88 261.62,155.64 261.98,155.39 262.35,155.14 262.71,154.9 263.07,154.65 263.44,154.4 263.8,154.16 264.16,153.91 264.53,153.66 264.89,153.42 265.25,153.17 265.61,152.92 265.98,152.68 266.34,152.43 266.7,152.18 267.07,151.94 267.43,151.69 267.79,151.44 268.15,151.19 268.52,150.95 268.88,150.7 269.24,150.45 269.61,150.2 269.97,149.96 270.33,149.71 270.69,149.46 271.06,149.21 271.42,148.96 271.78,148.72 272.15,148.47 272.51,148.22 272.87,147.97 273.23,147.72 273.6,147.47 273.96,147.22 274.32,146.98 274.69,146.73 275.05,146.48 275.41,146.23 275.77,145.98 276.14,145.73 276.5,145.48 276.86,145.23 277.23,144.98 277.59,144.73 277.95,144.48 278.31,144.23 278.68,143.98 279.04,143.73 279.4,143.48 279.77,143.23 280.13,142.98 280.49,142.72 280.86,142.47 281.22,142.22 281.58,141.97 281.94,141.72 282.31,141.47 282.67,141.21 283.03,140.96 283.4,140.71 283.76,140.46 284.12,140.2 284.48,139.95 284.85,139.7 285.21,139.44 285.57,139.19 285.94,138.94 286.3,138.68 286.66,138.43 287.02,138.18 287.39,137.92 287.75,137.67 288.11,137.41 288.48,137.16 288.84,136.9 289.2,136.65 289.56,136.39 289.93,136.13 290.29,135.88 290.65,135.62 291.02,135.36 291.38,135.11 291.74,134.85 292.1,134.59 292.47,134.33 292.83,134.08 293.19,133.82 293.56,133.56 293.92,133.3 294.28,133.04 294.64,132.78 295.01,132.52 295.37,132.26 295.73,132 296.1,131.74 296.46,131.48 296.82,131.22 297.19,130.96 297.55,130.69 297.91,130.43 298.27,130.17 298.64,129.9 299,129.64 299.36,129.38 299.73,129.11 300.09,128.85 300.45,128.58 300.81,128.32 301.18,128.05 301.54,127.78 301.9,127.52 302.27,127.25 302.63,126.98 302.99,126.71 303.35,126.44 303.72,126.17 304.08,125.9 304.44,125.63 304.81,125.36 305.17,125.09 305.53,124.81 305.89,124.54"/>
<polyline fill="none" stroke="#008000" stroke-width="0.85" points="305.89,124.54 306.26,124.27 306.62,123.99 306.98,123.72 307.35,123.44 307.71,123.16 308.07,122.88 308.43,122.61 308.8,122.33 309.16,122.05 309.52,121.76 309.89,121.48 310.25,121.2 310.61,120.92 310.97,120.63 311.34,120.34 311.7,120.06 312.06,119.77 312.43,119.48 312.79,119.19 313.15,118.9 313.52,118.6 313.88,118.31 314.24,118.01 314.6,117.71 314.97,117.41 315.33,117.11 315.69,116.81 316.06,116.5 316.42,116.2 316.78,115.89 317.14,115.58 317.51,115.26 317.87,114.95 318.23,114.63 318.6,114.31 318.96,113.99 319.32,113.66 319.68,113.34 320.05,113.01 320.41,112.67 320.77,112.33 321.14,111.99 321.5,111.65 321.86,111.3 322.22,110.95 322.59,110.59 322.95,110.23 323.31,109.87 323.68,109.5 324.04,109.13 324.4,108.75 324.76,108.36 325.13,107.97 325.49,107.58 325.85,107.17 326.22,106.77 326.58,106.35 326.94,105.93 327.3,105.5 327.67,105.07 328.03,104.62 328.39,104.17 328.76,103.71 329.12,103.24 329.48,102.76 329.85,102.27 330.21,101.78 330.57,101.27 330.93,100.75 331.3,100.22 331.66,99.69 332.02,99.14 332.39,98.57 332.75,98 333.11,97.42 333.47,96.82 333.84,96.21 334.2,95.59 334.56,94.95 334.93,94.3 335.29,93.64 335.65,92.97 336.01,92.28 336.38,91.58 336.74,90.86 337.1,90.13 337.47,89.39 337.83,88.63 338.19,87.86 338.55,87.08 338.92,86.28 339.28,85.47 339.64,84.65 340.01,83.82 340.37,82.97 340.73,82.11 341.09,81.23 341.46,80.35 341.82,79.45 342.18,78.54 342.55,77.62 342.91,76.68 343.27,75.74 343.63,74.79 344,73.82 344.36,72.85 344.72,71.87 345.09,70.87 345.45,69.87 345.81,68.86 346.18,67.84 346.54,66.81 346.9,65.78 347.26,64.73 347.63,63.68 347.99,62.63 348.35,61.56 348.72,60.49 349.08,59.41 349.44,58.33 349.8,57.24 350.17,56.14 350.53,55.04 350.89,53.93 351.26,52.82 351.62,51.7 351.98,50.58 352.34,49.46 352.71,48.33 353.07,47.19 353.43,46.05 353.8,44.91 354.16,43.77 354.52,42.62 354.88,41.47 355.25,40.31 355.61,39.15 355.97,37.99 356.34,36.83 356.7,35.66 357.06,34.49 357.42,33.32 357.79,32.14 358.15,30.96 358.51,29.79 358.88,28.6 359.24,27.42 359.6,26.24 359.96,25.05 360.33,23.86 360.69,22.67 361.05,21.48"/>
<polyline fill="none" stroke="#008000" stroke-width="1.7" points="242.39,161.6 242.75,161.36 243.11,161.13 243.48,160.89 243.84,160.66 244.2,160.43 244.57,160.19 244.93,159.95 245.29,159.72 245.65,159.48 246.02,159.24 246.38,159.01 246.74,158.77 247.11,158.53 247.47,158.3 247.83,158.06 248.2,157.82 248.56,157.58 248.92,157.34 249.28,157.1 249.65,156.86 250.01,156.62 250.37,156.38 250.74,156.14 251.1,155.9 251.46,155.66 251.82,155.42 252.19,155.18 252.55,154.94 252.91,154.7 253.28,154.46 253.64,154.22 254,153.98 254.36,153.74 254.73,153.5 255.09,153.26 255.45,153.02 255.82,152.77 256.18,152.53 256.54,152.29 256.9,152.05 257.27,151.81 257.63,151.57 257.99,151.33 258.36,151.09 258.72,150.84 259.08,150.6 259.44,150.36 259.81,150.12 260.17,149.88 260.53,149.64 260.9,149.4 261.26,149.16 261.62,148.92 261.98,148.68 262.35,148.44 262.71,148.2 263.07,147.96 263.44,147.72 263.8,147.48 264.16,147.24 264.53,147 264.89,146.77 265.25,146.53 265.61,146.29 265.98,146.05 266.34,145.81 266.7,145.58 267.07,145.34 267.43,145.1 267.79,144.87 268.15,144.63 268.52,144.39 268.88,144.16 269.24,143.92 269.61,143.68 269.97,143.45 270.33,143.21 270.69,142.98 271.06,142.74 271.42,142.5 271.78,142.27 272.15,142.03 272.51,141.8 272.87,141.56 273.23,141.33 273.6,141.09 273.96,140.85 274.32,140.62 274.69,140.38 275.05,140.15 275.41,139.91 275.77,139.67 276.14,139.44 276.5,139.2 276.86,138.96 277.23,138.73 277.59,138.49 277.95,138.25 278.31,138.02 278.68,137.78 279.04,137.54 279.4,137.31 279.77,137.07 280.13,136.83 280.49,136.6 280.86,136.36 281.22,136.12 281.58,135.88 281.94,135.65 282.31,135.41 282.67,135.17 283.03,134.93 283.4,134.7 283.76,134.46 284.12,134.22 284.48,133.98 284.85,133.75 285.21,133.51 285.57,133.27 285.94,133.03 286.3,132.79 286.66,132.56 287.02,132.32 287.39,132.08 287.75,131.84 288.11,131.59 288.48,131.34 288.84,131.09 289.2,130.84 289.56,130.59 289.93,130.34 290.29,130.09 290.65,129.84 291.02,129.59 291.38,129.34 291.74,129.09 292.1,128.84 292.47,128.59 292.83,128.33 293.19,128.08 293.56,127.83 293.92,127.58 294.28,127.33 294.64,127.07 295.01,126.82 295.37,126.57 295.73,126.31 296.1,126.06 296.46,125.81 296.82,125.55 297.19,125.3 297.55,125.04 297.91,124.79 298.27,124.53 298.64,124.28 299,124.02 299.36,123.77 299.73,123.51 300.09,123.25 300.45,123 300.81,122.74 301.18,122.48 301.54,122.22 301.9,121.96 302.27,121.7 302.63,121.44 302.99,121.18 303.35,120.92 303.72,120.66 304.08,120.4 304.44,120.14 304.81,119.87 305.17,119.61 305.53,119.34 305.89,119.08"/>
<polyline fill="none" stroke="#008000" stroke-width="0.85" points="305.89,119.08 306.26,118.81 306.62,118.54 306.98,118.28 307.35,118.01 307.71,117.74 308.07,117.47 308.43,117.2 308.8,116.92 309.16,116.65 309.52,116.37 309.89,116.1 310.25,115.82 310.61,115.54 310.97,115.26 311.34,114.98 311.7,114.69 312.06,114.41 312.43,114.12 312.79,113.83 313.15,113.54 313.52,113.25 313.88,112.95 314.24,112.66 314.6,112.35 314.97,112.05 315.33,111.75 315.69,111.44 316.06,111.13 316.42,110.81 316.78,110.49 317.14,110.17 317.51,109.84 317.87,109.51 318.23,109.18 318.6,108.84 318.96,108.49 319.32,108.15 319.68,107.79 320.05,107.43 320.41,107.07 320.77,106.69 321.14,106.31 321.5,105.93 321.86,105.53 322.22,105.13 322.59,104.73 322.95,104.31 323.31,103.88 323.68,103.45 324.04,103 324.4,102.55 324.76,102.08 325.13,101.6 325.49,101.11 325.85,100.61 326.22,100.1 326.58,99.58 326.94,99.04 327.3,98.48 327.67,97.92 328.03,97.33 328.39,96.74 328.76,96.13 329.12,95.5 329.48,94.85 329.85,94.19 330.21,93.51 330.57,92.82 330.93,92.1 331.3,91.37 331.66,90.62 332.02,89.85 332.39,89.07 332.75,88.26 333.11,87.44 333.47,86.59 333.84,85.73 334.2,84.85 334.56,83.95 334.93,83.04 335.29,82.1 335.65,81.15 336.01,80.17 336.38,79.18 336.74,78.17 337.1,77.15 337.47,76.1 337.83,75.04 338.19,73.97 338.55,72.87 338.92,71.76 339.28,70.63 339.64,69.49 340.01,68.33 340.37,67.16 340.73,65.97 341.09,64.76 341.46,63.55 341.82,62.31 342.18,61.07 342.55,59.81 342.91,58.54 343.27,57.25 343.63,55.96 344,54.65 344.36,53.33 344.72,52 345.09,50.66 345.45,49.3 345.81,47.94 346.18,46.57 346.54,45.18 346.9,43.79 347.26,42.39 347.63,40.98 347.99,39.56 348.35,38.13 348.72,36.7 349.08,35.25 349.44,33.8 349.8,32.34 350.17,30.88 350.53,29.4 350.89,27.92 351.26,26.44 351.62,24.95 351.98,23.45 352.34,21.95"/>
<polyline fill="none" stroke="#008000" stroke-width="1.7" points="242.39,157.74 242.75,157.52 243.11,157.3 243.48,157.08 243.84,156.85 244.2,156.63 244.57,156.4 244.93,156.18 245.29,155.95 245.65,155.72 246.02,155.49 246.38,155.27 246.74,155.04 247.11,154.81 247.47,154.58 247.83,154.35 248.2,154.12 248.56,153.89 248.92,153.65 249.28,153.42 249.65,153.19 250.01,152.96 250.37,152.72 250.74,152.49 251.1,152.26 251.46,152.02 251.82,151.79 252.19,151.55 252.55,151.32 252.91,151.08 253.28,150.85 253.64,150.61 254,150.37 254.36,150.14 254.73,149.9 255.09,149.67 255.45,149.43 255.82,149.19 256.18,148.96 256.54,148.72 256.9,148.48 257.27,148.24 257.63,148.01 257.99,147.77 258.36,147.53 258.72,147.3 259.08,147.06 259.44,146.82 259.81,146.59 260.17,146.35 260.53,146.11 260.9,145.88 261.26,145.64 261.62,145.4 261.98,145.17 262.35,144.93 262.71,144.7 263.07,144.46 263.44,144.23 263.8,143.99 264.16,143.76 264.53,143.52 264.89,143.29 265.25,143.06 265.61,142.82 265.98,142.59 266.34,142.36 266.7,142.12 267.07,141.89 267.43,141.65 267.79,141.42 268.15,141.19 268.52,140.95 268.88,140.72 269.24,140.49 269.61,140.25 269.97,140.02 270.33,139.78 270.69,139.55 271.06,139.32 271.42,139.08 271.78,138.85 272.15,138.61 272.51,138.38 272.87,138.15 273.23,137.91 273.6,137.68 273.96,137.45 274.32,137.21 274.69,136.98 275.05,136.75 275.41,136.51 275.77,136.28 276.14,136.04 276.5,135.81 276.86,135.58 277.23,135.35 277.59,135.11 277.95,134.88 278.31,134.65 278.68,134.41 279.04,134.18 279.4,133.95 279.77,133.71 280.13,133.48 280.49,133.25 280.86,133.01 281.22,132.78 281.58,132.55 281.94,132.32 282.31,132.08 282.67,131.85 283.03,131.62 283.4,131.39 283.76,131.15 284.12,130.92 284.48,130.69 284.85,130.45 285.21,130.22 285.57,129.99 285.94,129.76 286.3,129.52 286.66,129.29 287.02,129.06 287.39,128.83 287.75,128.59 288.11,128.35 288.48,128.11 288.84,127.86 289.2,127.62 289.56,127.38 289.93,127.13 290.29,126.89 290.65,126.64 291.02,126.4 291.38,126.16 291.74,125.91 292.1,125.67 292.47,125.42 292.83,125.18 293.19,124.94 293.56,124.69 293.92,124.45 294.28,124.2 294.64,123.96 295.01,123.71 295.37,123.47 295.73,123.22 296.1,122.98 296.46,122.73 296.82,122.49 297.19,122.24 297.55,121.99 297.91,121.75 298.27,121.5 298.64,121.25 299,121.01 299.36,120.76 299.73,120.51 300.09,120.26 300.45,120.02 300.81,119.77 301.18,119.52 301.54,119.27 301.9,119.02 302.27,118.77 302.63,118.52 302.99,118.27 303.35,118.01 303.72,117.76 304.08,117.51 304.44,117.26 304.81,117 305.17,116.75 305.53,116.49 305.89,116.23"/>
<polyline fill="none" stroke="#008000" stroke-width="0.85" points="305.89,116.23 306.26,115.97 306.62,115.72 306.98,115.45 307.35,115.19 307.71,114.93 308.07,114.67 308.43,114.4 308.8,114.14 309.16,113.87 309.52,113.6 309.89,113.32 310.25,113.05 310.61,112.77 310.97,112.5 311.34,112.22 311.7,111.93 312.06,111.65 312.43,111.36 312.79,111.07 313.15,110.77 313.52,110.47 313.88,110.17 314.24,109.86 314.6,109.55 314.97,109.24 315.33,108.92 315.69,108.59 316.06,108.26 316.42,107.93 316.78,107.58 317.14,107.24 317.51,106.88 317.87,106.52 318.23,106.15 318.6,105.77 318.96,105.38 319.32,104.99 319.68,104.58 320.05,104.17 320.41,103.74 320.77,103.31 321.14,102.86 321.5,102.4 321.86,101.92 322.22,101.44 322.59,100.94 322.95,100.43 323.31,99.9 323.68,99.35 324.04,98.8 324.4,98.22 324.76,97.63 325.13,97.02 325.49,96.39 325.85,95.74 326.22,95.08 326.58,94.39 326.94,93.69 327.3,92.96 327.67,92.22 328.03,91.45 328.39,90.67 328.76,89.86 329.12,89.03 329.48,88.18 329.85,87.31 330.21,86.41 330.57,85.5 330.93,84.56 331.3,83.6 331.66,82.62 332.02,81.62 332.39,80.6 332.75,79.55 333.11,78.48 333.47,77.39 333.84,76.28 334.2,75.15 334.56,74 334.93,72.82 335.29,71.63 335.65,70.41 336.01,69.17 336.38,67.92 336.74,66.64 337.1,65.34 337.47,64.02 337.83,62.69 338.19,61.33 338.55,59.95 338.92,58.56 339.28,57.14 339.64,55.71 340.01,54.26 340.37,52.79 340.73,51.3 341.09,49.8 341.46,48.28 341.82,46.74 342.18,45.19 342.55,43.61 342.91,42.03 343.27,40.42 343.63,38.81 344,37.17 344.36,35.53 344.72,33.87 345.09,32.19 345.45,30.5 345.81,28.8 346.18,27.09 346.54,25.36 346.9,23.62 347.26,21.87"/>
<polyline fill="none" stroke="#008000" stroke-width="1.7" points="242.39,155.99 242.75,155.75 243.11,155.51 243.48,155.26 243.84,155.02 244.2,154.78 244.57,154.53 244.93,154.29 245.29,154.05 245.65,153.8 246.02,153.56 246.38,153.32 246.74,153.07 247.11,152.83 247.47,152.59 247.83,152.34 248.2,152.1 248.56,151.86 248.92,151.61 249.28,151.37 249.65,151.13 250.01,150.88 250.37,150.64 250.74,150.4 251.1,150.15 251.46,149.91 251.82,149.67 252.19,149.42 252.55,149.18 252.91,148.94 253.28,148.69 253.64,148.45 254,148.21 254.36,147.96 254.73,147.72 255.09,147.48 255.45,147.23 255.82,146.99 256.18,146.75 256.54,146.5 256.9,146.26 257.27,146.02 257.63,145.77 257.99,145.53 258.36,145.29 258.72,145.04 259.08,144.8 259.44,144.56 259.81,144.31 260.17,144.07 260.53,143.83 260.9,143.58 261.26,143.34 261.62,143.09 261.98,142.85 262.35,142.61 262.71,142.36 263.07,142.12 263.44,141.88 263.8,141.63 264.16,141.39 264.53,141.15 264.89,140.9 265.25,140.66 265.61,140.41 265.98,140.17 266.34,139.93 266.7,139.68 267.07,139.44 267.43,139.19 267.79,138.95 268.15,138.71 268.52,138.46 268.88,138.22 269.24,137.98 269.61,137.73 269.97,137.49 270.33,137.24 270.69,137 271.06,136.76 271.42,136.51 271.78,136.27 272.15,136.02 272.51,135.78 272.87,135.53 273.23,135.29 273.6,135.05 273.96,134.8 274.32,134.56 274.69,134.31 275.05,134.07 275.41,133.83 275.77,133.58 276.14,133.34 276.5,133.09 276.86,132.85 277.23,132.6 277.59,132.36 277.95,132.11 278.31,131.87 278.68,131.62 279.04,131.38 279.4,131.14 279.77,130.89 280.13,130.65 280.49,130.4 280.86,130.16 281.22,129.91 281.58,129.67 281.94,129.42 282.31,129.18 282.67,128.93 283.03,128.69 283.4,128.44 283.76,128.2 284.12,127.95 284.48,127.7 284.85,127.46 285.21,127.21 285.57,126.97 285.94,126.72 286.3,126.48 286.66,126.23 287.02,125.98 287.39,125.74 287.75,125.49 288.11,125.25 288.48,125 288.84,124.75 289.2,124.51 289.56,124.26 289.93,124.01 290.29,123.77 290.65,123.52 291.02,123.27 291.38,123.03 291.74,122.78 292.1,122.53 292.47,122.28 292.83,122.04 293.19,121.79 293.56,121.54 293.92,121.29 294.28,121.04 294.64,120.79 295.01,120.55 295.37,120.3 295.73,120.05 296.1,119.8 296.46,119.55 296.82,119.3 297.19,119.05 297.55,118.8 297.91,118.55 298.27,118.29 298.64,118.04 299,117.79 299.36,117.54 299.73,117.28 300.09,117.03 300.45,116.78 300.81,116.52 301.18,116.27 301.54,116.01 301.9,115.75 302.27,115.5 302.63,115.24 302.99,114.98 303.35,114.72 303.72,114.46 304.08,114.2 304.44,113.94 304.81,113.68 305.17,113.41 305.53,113.15 305.89,112.88"/>
<polyline fill="none" stroke="#008000" stroke-width="0.85" points="305.89,112.88 306.26,112.62 306.62,112.35 306.98,112.08 307.35,111.81 307.71,111.53 308.07,111.26 308.43,110.98 308.8,110.7 309.16,110.42 309.52,110.14 309.89,109.85 310.25,109.57 310.61,109.28 310.97,108.98 311.34,108.69 311.7,108.39 312.06,108.08 312.43,107.78 312.79,107.47 313.15,107.15 313.52,106.84 313.88,106.51 314.24,106.19 314.6,105.85 314.97,105.51 315.33,105.17 315.69,104.82 316.06,104.46 316.42,104.1 316.78,103.73 317.14,103.35 317.51,102.96 317.87,102.57 318.23,102.16 318.6,101.75 318.96,101.32 319.32,100.88 319.68,100.44 320.05,99.98 320.41,99.51 320.77,99.02 321.14,98.52 321.5,98.01 321.86,97.48 322.22,96.94 322.59,96.38 322.95,95.8 323.31,95.2 323.68,94.59 324.04,93.96 324.4,93.3 324.76,92.63 325.13,91.94 325.49,91.22 325.85,90.49 326.22,89.73 326.58,88.95 326.94,88.14 327.3,87.31 327.67,86.46 328.03,85.58 328.39,84.68 328.76,83.75 329.12,82.8 329.48,81.82 329.85,80.81 330.21,79.78 330.57,78.72 330.93,77.64 331.3,76.53 331.66,75.39 332.02,74.23 332.39,73.04 332.75,71.82 333.11,70.57 333.47,69.3 333.84,68 334.2,66.68 334.56,65.33 334.93,63.95 335.29,62.55 335.65,61.12 336.01,59.66 336.38,58.18 336.74,56.67 337.1,55.14 337.47,53.58 337.83,52 338.19,50.39 338.55,48.76 338.92,47.1 339.28,45.42 339.64,43.72 340.01,41.99 340.37,40.24 340.73,38.47 341.09,36.68 341.46,34.86 341.82,33.03 342.18,31.17 342.55,29.29 342.91,27.39 343.27,25.48 343.63,23.54 344,21.59"/>
<polyline fill="none" stroke="#008000" stroke-width="1.7" points="242.39,153.51 242.75,153.27 243.11,153.03 243.48,152.78 243.84,152.54 244.2,152.3 244.57,152.05 244.93,151.81 245.29,151.56 245.65,151.32 246.02,151.08 246.38,150.83 246.74,150.59 247.11,150.35 247.47,150.1 247.83,149.86 248.2,149.61 248.56,149.37 248.92,149.13 249.28,148.88 249.65,148.64 250.01,148.39 250.37,148.15 250.74,147.91 251.1,147.66 251.46,147.42 251.82,147.17 252.19,146.93 252.55,146.69 252.91,146.44 253.28,146.2 253.64,145.95 254,145.71 254.36,145.46 254.73,145.22 255.09,144.98 255.45,144.73 255.82,144.49 256.18,144.24 256.54,144 256.9,143.75 257.27,143.51 257.63,143.27 257.99,143.02 258.36,142.78 258.72,142.53 259.08,142.29 259.44,142.04 259.81,141.8 260.17,141.55 260.53,141.31 260.9,141.06 261.26,140.82 261.62,140.57 261.98,140.33 262.35,140.08 262.71,139.84 263.07,139.59 263.44,139.35 263.8,139.1 264.16,138.86 264.53,138.61 264.89,138.37 265.25,138.12 265.61,137.88 265.98,137.63 266.34,137.39 266.7,137.14 267.07,136.9 267.43,136.65 267.79,136.41 268.15,136.16 268.52,135.92 268.88,135.67 269.24,135.42 269.61,135.18 269.97,134.93 270.33,134.69 270.69,134.44 271.06,134.19 271.42,133.95 271.78,133.7 272.15,133.46 272.51,133.21 272.87,132.96 273.23,132.72 273.6,132.47 273.96,132.22 274.32,131.98 274.69,131.73 275.05,131.48 275.41,131.24 275.77,130.99 276.14,130.74 276.5,130.5 276.86,130.25 277.23,130 277.59,129.76 277.95,129.51 278.31,129.26 278.68,129.01 279.04,128.76 279.4,128.52 279.77,128.27 280.13,128.02 280.49,127.77 280.86,127.53 281.22,127.28 281.58,127.03 281.94,126.78 282.31,126.53 282.67,126.28 283.03,126.03 283.4,125.78 283.76,125.54 284.12,125.29 284.48,125.04 284.85,124.79 285.21,124.54 285.57,124.29 285.94,124.04 286.3,123.79 286.66,123.54 287.02,123.29 287.39,123.04 287.75,122.78 288.11,122.53 288.48,122.28 288.84,122.03 289.2,121.78 289.56,121.53 289.93,121.27 290.29,121.02 290.65,120.77 291.02,120.52 291.38,120.26 291.74,120.01 292.1,119.75 292.47,119.5 292.83,119.25 293.19,118.99 293.56,118.74 293.92,118.48 294.28,118.22 294.64,117.97 295.01,117.71 295.37,117.45 295.73,117.2 296.1,116.94 296.46,116.68 296.82,116.42 297.19,116.16 297.55,115.9 297.91,115.64 298.27,115.38 298.64,115.12 299,114.85 299.36,114.59 299.73,114.32 300.09,114.06 300.45,113.79 300.81,113.53 301.18,113.26 301.54,112.99 301.9,112.72 302.27,112.45 302.63,112.18 302.99,111.9 303.35,111.63 303.72,111.35 304.08,111.07 304.44,110.79 304.81,110.51 305.17,110.23 305.53,109.95 305.89,109.66"/>
<polyline fill="none" stroke="#008000" stroke-width="0.85" points="305.89,109.66 306.26,109.37 306.62,109.08 306.98,108.79 307.35,108.49 307.71,108.19 308.07,107.89 308.43,107.59 308.8,107.28 309.16,106.97 309.52,106.66 309.89,106.34 310.25,106.02 310.61,105.7 310.97,105.37 311.34,105.04 311.7,104.7 312.06,104.36 312.43,104.01 312.79,103.65 313.15,103.29 313.52,102.93 313.88,102.55 314.24,102.17 314.6,101.78 314.97,101.39 315.33,100.99 315.69,100.57 316.06,100.15 316.42,99.72 316.78,99.28 317.14,98.83 317.51,98.36 317.87,97.89 318.23,97.4 318.6,96.9 318.96,96.39 319.32,95.86 319.68,95.32 320.05,94.76 320.41,94.19 320.77,93.6 321.14,93 321.5,92.37 321.86,91.73 322.22,91.07 322.59,90.39 322.95,89.69 323.31,88.97 323.68,88.23 324.04,87.47 324.4,86.68 324.76,85.87 325.13,85.04 325.49,84.18 325.85,83.3 326.22,82.39 326.58,81.46 326.94,80.51 327.3,79.52 327.67,78.51 328.03,77.48 328.39,76.41 328.76,75.32 329.12,74.2 329.48,73.06 329.85,71.88 330.21,70.67 330.57,69.44 330.93,68.18 331.3,66.88 331.66,65.56 332.02,64.21 332.39,62.82 332.75,61.41 333.11,59.97 333.47,58.49 333.84,56.99 334.2,55.45 334.56,53.88 334.93,52.28 335.29,50.66 335.65,49 336.01,47.31 336.38,45.59 336.74,43.84 337.1,42.06 337.47,40.25 337.83,38.41 338.19,36.54 338.55,34.64 338.92,32.71 339.28,30.76 339.64,28.78 340.01,26.77 340.37,24.73 340.73,22.67 341.09,20.58"/>
<polyline fill="none" stroke="#008000" stroke-width="1.7" points="242.39,150.93 242.75,150.69 243.11,150.44 243.48,150.2 243.84,149.95 244.2,149.71 244.57,149.46 244.93,149.22 245.29,148.98 245.65,148.73 246.02,148.49 246.38,148.24 246.74,148 247.11,147.75 247.47,147.51 247.83,147.26 248.2,147.02 248.56,146.78 248.92,146.53 249.28,146.29 249.65,146.04 250.01,145.8 250.37,145.55 250.74,145.31 251.1,145.06 251.46,144.82 251.82,144.57 252.19,144.33 252.55,144.08 252.91,143.84 253.28,143.59 253.64,143.35 254,143.1 254.36,142.86 254.73,142.61 255.09,142.37 255.45,142.12 255.82,141.88 256.18,141.63 256.54,141.38 256.9,141.14 257.27,140.89 257.63,140.65 257.99,140.4 258.36,140.16 258.72,139.91 259.08,139.67 259.44,139.42 259.81,139.17 260.17,138.93 260.53,138.68 260.9,138.44 261.26,138.19 261.62,137.94 261.98,137.7 262.35,137.45 262.71,137.2 263.07,136.96 263.44,136.71 263.8,136.46 264.16,136.22 264.53,135.97 264.89,135.72 265.25,135.48 265.61,135.23 265.98,134.98 266.34,134.74 266.7,134.49 267.07,134.24 267.43,133.99 267.79,133.75 268.15,133.5 268.52,133.25 268.88,133 269.24,132.76 269.61,132.51 269.97,132.26 270.33,132.01 270.69,131.77 271.06,131.52 271.42,131.27 271.78,131.02 272.15,130.77 272.51,130.52 272.87,130.27 273.23,130.03 273.6,129.78 273.96,129.53 274.32,129.28 274.69,129.03 275.05,128.78 275.41,128.53 275.77,128.28 276.14,128.03 276.5,127.78 276.86,127.53 277.23,127.28 277.59,127.03 277.95,126.78 278.31,126.53 278.68,126.28 279.04,126.03 279.4,125.78 279.77,125.52 280.13,125.27 280.49,125.02 280.86,124.77 281.22,124.52 281.58,124.27 281.94,124.01 282.31,123.76 282.67,123.51 283.03,123.26 283.4,123 283.76,122.75 284.12,122.5 284.48,122.24 284.85,121.99 285.21,121.73 285.57,121.48 285.94,121.23 286.3,120.97 286.66,120.72 287.02,120.46 287.39,120.2 287.75,119.95 288.11,119.69 288.48,119.44 288.84,119.18 289.2,118.92 289.56,118.66 289.93,118.41 290.29,118.15 290.65,117.89 291.02,117.63 291.38,117.37 291.74,117.11 292.1,116.85 292.47,116.59 292.83,116.33 293.19,116.07 293.56,115.81 293.92,115.54 294.28,115.28 294.64,115.02 295.01,114.75 295.37,114.49 295.73,114.22 296.1,113.96 296.46,113.69 296.82,113.43 297.19,113.16 297.55,112.89 297.91,112.62 298.27,112.35 298.64,112.08 299,111.81 299.36,111.53 299.73,111.26 300.09,110.99 300.45,110.71 300.81,110.43 301.18,110.16 301.54,109.88 301.9,109.6 302.27,109.32 302.63,109.03 302.99,108.75 303.35,108.46 303.72,108.18 304.08,107.89 304.44,107.59 304.81,107.3 305.17,107.01 305.53,106.71 305.89,106.41"/>
<polyline fill="none" stroke="#008000" stroke-width="0.85" points="305.89,106.41 306.26,106.11 306.62,105.81 306.98,105.5 307.35,105.19 307.71,104.88 308.07,104.56 308.43,104.24 308.8,103.92 309.16,103.6 309.52,103.27 309.89,102.94 310.25,102.6 310.61,102.26 310.97,101.91 311.34,101.56 311.7,101.2 312.06,100.84 312.43,100.47 312.79,100.1 313.15,99.72 313.52,99.33 313.88,98.94 314.24,98.54 314.6,98.13 314.97,97.71 315.33,97.28 315.69,96.84 316.06,96.4 316.42,95.94 316.78,95.47 317.14,94.99 317.51,94.5 317.87,93.99 318.23,93.47 318.6,92.94 318.96,92.39 319.32,91.83 319.68,91.25 320.05,90.66 320.41,90.05 320.77,89.42 321.14,88.77 321.5,88.1 321.86,87.41 322.22,86.69 322.59,85.96 322.95,85.21 323.31,84.43 323.68,83.62 324.04,82.8 324.4,81.94 324.76,81.06 325.13,80.16 325.49,79.22 325.85,78.26 326.22,77.27 326.58,76.25 326.94,75.2 327.3,74.11 327.67,73 328.03,71.86 328.39,70.68 328.76,69.47 329.12,68.23 329.48,66.95 329.85,65.64 330.21,64.29 330.57,62.91 330.93,61.5 331.3,60.05 331.66,58.56 332.02,57.04 332.39,55.48 332.75,53.89 333.11,52.26 333.47,50.59 333.84,48.89 334.2,47.15 334.56,45.37 334.93,43.56 335.29,41.71 335.65,39.83 336.01,37.91 336.38,35.95 336.74,33.96 337.1,31.93 337.47,29.87 337.83,27.77 338.19,25.64 338.55,23.48 338.92,21.28"/>
<polyline fill="none" stroke="#008000" stroke-width="1.7" points="242.39,148.35 242.75,148.1 243.11,147.86 243.48,147.62 243.84,147.37 244.2,147.13 244.57,146.88 244.93,146.64 245.29,146.39 245.65,146.15 246.02,145.9 246.38,145.66 246.74,145.41 247.11,145.17 247.47,144.92 247.83,144.68 248.2,144.43 248.56,144.19 248.92,143.94 249.28,143.69 249.65,143.45 250.01,143.2 250.37,142.96 250.74,142.71 251.1,142.47 251.46,142.22 251.82,141.98 252.19,141.73 252.55,141.48 252.91,141.24 253.28,140.99 253.64,140.75 254,140.5 254.36,140.26 254.73,140.01 255.09,139.76 255.45,139.52 255.82,139.27 256.18,139.02 256.54,138.78 256.9,138.53 257.27,138.29 257.63,138.04 257.99,137.79 258.36,137.55 258.72,137.3 259.08,137.05 259.44,136.8 259.81,136.56 260.17,136.31 260.53,136.06 260.9,135.82 261.26,135.57 261.62,135.32 261.98,135.07 262.35,134.83 262.71,134.58 263.07,134.33 263.44,134.08 263.8,133.84 264.16,133.59 264.53,133.34 264.89,133.09 265.25,132.84 265.61,132.6 265.98,132.35 266.34,132.1 266.7,131.85 267.07,131.6 267.43,131.35 267.79,131.1 268.15,130.85 268.52,130.6 268.88,130.36 269.24,130.11 269.61,129.86 269.97,129.61 270.33,129.36 270.69,129.11 271.06,128.86 271.42,128.61 271.78,128.36 272.15,128.11 272.51,127.86 272.87,127.6 273.23,127.35 273.6,127.1 273.96,126.85 274.32,126.6 274.69,126.35 275.05,126.1 275.41,125.85 275.77,125.59 276.14,125.34 276.5,125.09 276.86,124.84 277.23,124.58 277.59,124.33 277.95,124.08 278.31,123.82 278.68,123.57 279.04,123.32 279.4,123.06 279.77,122.81 280.13,122.56 280.49,122.3 280.86,122.05 281.22,121.79 281.58,121.54 281.94,121.28 282.31,121.03 282.67,120.77 283.03,120.51 283.4,120.26 283.76,120 284.12,119.74 284.48,119.49 284.85,119.23 285.21,118.97 285.57,118.71 285.94,118.46 286.3,118.2 286.66,117.94 287.02,117.68 287.39,117.42 287.75,117.16 288.11,116.9 288.48,116.64 288.84,116.38 289.2,116.12 289.56,115.85 289.93,115.59 290.29,115.33 290.65,115.07 291.02,114.8 291.38,114.54 291.74,114.28 292.1,114.01 292.47,113.75 292.83,113.48 293.19,113.21 293.56,112.95 293.92,112.68 294.28,112.41 294.64,112.14 295.01,111.87 295.37,111.6 295.73,111.33 296.1,111.06 296.46,110.79 296.82,110.52 297.19,110.24 297.55,109.97 297.91,109.7 298.27,109.42 298.64,109.14 299,108.87 299.36,108.59 299.73,108.31 300.09,108.03 300.45,107.75 300.81,107.46 301.18,107.18 301.54,106.89 301.9,106.61 302.27,106.32 302.63,106.03 302.99,105.74 303.35,105.45 303.72,105.15 304.08,104.86 304.44,104.56 304.81,104.26 305.17,103.96 305.53,103.66 305.89,103.35"/>
<polyline fill="none" stroke="#008000" stroke-width="0.85" points="305.89,103.35 306.26,103.04 306.62,102.73 306.98,102.42 307.35,102.11 307.71,101.79 308.07,101.47 308.43,101.14 308.8,100.81 309.16,100.48 309.52,100.15 309.89,99.81 310.25,99.46 310.61,99.12 310.97,98.77 311.34,98.41 311.7,98.05 312.06,97.68 312.43,97.3 312.79,96.93 313.15,96.54 313.52,96.15 313.88,95.75 314.24,95.34 314.6,94.92 314.97,94.5 315.33,94.06 315.69,93.62 316.06,93.17 316.42,92.7 316.78,92.23 317.14,91.74 317.51,91.24 317.87,90.73 318.23,90.2 318.6,89.66 318.96,89.1 319.32,88.52 319.68,87.93 320.05,87.32 320.41,86.69 320.77,86.04 321.14,85.37 321.5,84.68 321.86,83.97 322.22,83.23 322.59,82.46 322.95,81.68 323.31,80.86 323.68,80.02 324.04,79.14 324.4,78.24 324.76,77.31 325.13,76.35 325.49,75.35 325.85,74.32 326.22,73.26 326.58,72.16 326.94,71.02 327.3,69.85 327.67,68.64 328.03,67.4 328.39,66.11 328.76,64.79 329.12,63.42 329.48,62.02 329.85,60.58 330.21,59.09 330.57,57.57 330.93,56 331.3,54.39 331.66,52.74 332.02,51.05 332.39,49.31 332.75,47.53 333.11,45.71 333.47,43.85 333.84,41.95 334.2,40 334.56,38.01 334.93,35.98 335.29,33.91 335.65,31.79 336.01,29.64 336.38,27.44 336.74,25.2 337.1,22.92 337.47,20.61"/>
<polyline fill="none" stroke="#008000" stroke-width="1.7" points="242.39,145.88 242.75,145.63 243.11,145.39 243.48,145.14 243.84,144.9 244.2,144.65 244.57,144.41 244.93,144.16 245.29,143.92 245.65,143.67 246.02,143.43 246.38,143.18 246.74,142.94 247.11,142.69 247.47,142.45 247.83,142.2 248.2,141.95 248.56,141.71 248.92,141.46 249.28,141.22 249.65,140.97 250.01,140.73 250.37,140.48 250.74,140.23 251.1,139.99 251.46,139.74 251.82,139.5 252.19,139.25 252.55,139 252.91,138.76 253.28,138.51 253.64,138.26 254,138.02 254.36,137.77 254.73,137.52 255.09,137.28 255.45,137.03 255.82,136.78 256.18,136.54 256.54,136.29 256.9,136.04 257.27,135.8 257.63,135.55 257.99,135.3 258.36,135.05 258.72,134.81 259.08,134.56 259.44,134.31 259.81,134.06 260.17,133.82 260.53,133.57 260.9,133.32 261.26,133.07 261.62,132.82 261.98,132.58 262.35,132.33 262.71,132.08 263.07,131.83 263.44,131.58 263.8,131.33 264.16,131.08 264.53,130.84 264.89,130.59 265.25,130.34 265.61,130.09 265.98,129.84 266.34,129.59 266.7,129.34 267.07,129.09 267.43,128.84 267.79,128.59 268.15,128.34 268.52,128.09 268.88,127.84 269.24,127.59 269.61,127.34 269.97,127.09 270.33,126.84 270.69,126.58 271.06,126.33 271.42,126.08 271.78,125.83 272.15,125.58 272.51,125.33 272.87,125.07 273.23,124.82 273.6,124.57 273.96,124.32 274.32,124.06 274.69,123.81 275.05,123.56 275.41,123.3 275.77,123.05 276.14,122.8 276.5,122.54 276.86,122.29 277.23,122.03 277.59,121.78 277.95,121.53 278.31,121.27 278.68,121.02 279.04,120.76 279.4,120.5 279.77,120.25 280.13,119.99 280.49,119.74 280.86,119.48 281.22,119.22 281.58,118.97 281.94,118.71 282.31,118.45 282.67,118.19 283.03,117.93 283.4,117.68 283.76,117.42 284.12,117.16 284.48,116.9 284.85,116.64 285.21,116.38 285.57,116.12 285.94,115.86 286.3,115.6 286.66,115.34 287.02,115.07 287.39,114.81 287.75,114.55 288.11,114.29 288.48,114.02 288.84,113.76 289.2,113.5 289.56,113.23 289.93,112.97 290.29,112.7 290.65,112.44 291.02,112.17 291.38,111.9 291.74,111.64 292.1,111.37 292.47,111.1 292.83,110.83 293.19,110.56 293.56,110.29 293.92,110.02 294.28,109.75 294.64,109.48 295.01,109.21 295.37,108.93 295.73,108.66 296.1,108.38 296.46,108.11 296.82,107.83 297.19,107.56 297.55,107.28 297.91,107 298.27,106.72 298.64,106.44 299,106.16 299.36,105.88 299.73,105.6 300.09,105.31 300.45,105.03 300.81,104.74 301.18,104.45 301.54,104.16 301.9,103.87 302.27,103.58 302.63,103.29 302.99,102.99 303.35,102.7 303.72,102.4 304.08,102.1 304.44,101.8 304.81,101.5 305.17,101.19 305.53,100.89 305.89,100.58"/>
<polyline fill="none" stroke="#008000" stroke-width="0.85" points="305.89,100.58 306.26,100.26 306.62,99.95 306.98,99.63 307.35,99.32 307.71,98.99 308.07,98.67 308.43,98.34 308.8,98.01 309.16,97.68 309.52,97.34 309.89,96.99 310.25,96.65 310.61,96.3 310.97,95.94 311.34,95.58 311.7,95.22 312.06,94.85 312.43,94.47 312.79,94.09 313.15,93.7 313.52,93.3 313.88,92.9 314.24,92.49 314.6,92.07 314.97,91.64 315.33,91.2 315.69,90.75 316.06,90.29 316.42,89.82 316.78,89.34 317.14,88.85 317.51,88.34 317.87,87.82 318.23,87.28 318.6,86.73 318.96,86.16 319.32,85.57 319.68,84.97 320.05,84.34 320.41,83.69 320.77,83.02 321.14,82.33 321.5,81.62 321.86,80.87 322.22,80.1 322.59,79.31 322.95,78.48 323.31,77.62 323.68,76.73 324.04,75.81 324.4,74.85 324.76,73.86 325.13,72.83 325.49,71.77 325.85,70.66 326.22,69.51 326.58,68.33 326.94,67.1 327.3,65.83 327.67,64.51 328.03,63.16 328.39,61.75 328.76,60.3 329.12,58.81 329.48,57.27 329.85,55.68 330.21,54.05 330.57,52.36 330.93,50.63 331.3,48.86 331.66,47.03 332.02,45.16 332.39,43.24 332.75,41.27 333.11,39.25 333.47,37.19 333.84,35.08 334.2,32.92 334.56,30.71 334.93,28.45 335.29,26.15 335.65,23.8 336.01,21.41"/>
<g fill="#000"><circle cx="208.86" cy="199.63" r="0.95"/><circle cx="209.08" cy="197.15" r="0.95"/><circle cx="209.29" cy="194.76" r="0.95"/><circle cx="209.51" cy="192.67" r="0.95"/><circle cx="209.87" cy="190.42" r="0.95"/><circle cx="210.45" cy="189.02" r="0.95"/><circle cx="211.18" cy="187.73" r="0.95"/><circle cx="212.05" cy="186.56" r="0.95"/><circle cx="212.99" cy="185.42" r="0.95"/><circle cx="214.01" cy="184.28" r="0.95"/><circle cx="215.1" cy="183.27" r="0.95"/><circle cx="216.33" cy="182.45" r="0.95"/><circle cx="217.64" cy="181.64" r="0.95"/><circle cx="218.95" cy="180.88" r="0.95"/><circle cx="220.25" cy="180.15" r="0.95"/><circle cx="221.56" cy="179.49" r="0.95"/><circle cx="222.94" cy="178.98" r="0.95"/><circle cx="224.39" cy="178.51" r="0.95"/><circle cx="225.77" cy="177.98" r="0.95"/><circle cx="227.07" cy="177.35" r="0.95"/><circle cx="228.38" cy="176.65" r="0.95"/><circle cx="229.69" cy="175.95" r="0.95"/><circle cx="230.99" cy="175.29" r="0.95"/><circle cx="232.37" cy="174.76" r="0.95"/><circle cx="233.75" cy="174.3" r="0.95"/><circle cx="235.06" cy="173.65" r="0.95"/><circle cx="236.29" cy="172.88" r="0.95"/><circle cx="237.53" cy="172.09" r="0.95"/><circle cx="238.76" cy="171.29" r="0.95"/><circle cx="239.99" cy="170.49" r="0.95"/><circle cx="241.23" cy="169.68" r="0.95"/><circle cx="242.75" cy="168.69" r="0.88"/><circle cx="244.28" cy="167.7" r="0.88"/><circle cx="245.8" cy="166.72" r="0.88"/><circle cx="247.32" cy="165.73" r="0.88"/><circle cx="248.85" cy="164.74" r="0.88"/><circle cx="250.37" cy="163.74" r="0.88"/><circle cx="251.9" cy="162.75" r="0.88"/><circle cx="253.42" cy="161.75" r="0.88"/><circle cx="254.94" cy="160.76" r="0.88"/><circle cx="256.47" cy="159.76" r="0.88"/><circle cx="257.99" cy="158.76" r="0.88"/><circle cx="259.52" cy="157.76" r="0.88"/><circle cx="261.04" cy="156.75" r="0.88"/><circle cx="262.57" cy="155.71" r="0.88"/><circle cx="264.09" cy="154.68" r="0.88"/><circle cx="265.61" cy="153.64" r="0.88"/><circle cx="267.14" cy="152.6" r="0.88"/><circle cx="268.66" cy="151.56" r="0.88"/><circle cx="270.19" cy="150.52" r="0.88"/><circle cx="271.71" cy="149.48" r="0.88"/><circle cx="273.23" cy="148.44" r="0.88"/><circle cx="274.76" cy="147.39" r="0.88"/><circle cx="276.28" cy="146.34" r="0.88"/><circle cx="277.81" cy="145.29" r="0.88"/><circle cx="279.33" cy="144.24" r="0.88"/><circle cx="280.86" cy="143.19" r="0.88"/><circle cx="282.38" cy="142.13" r="0.88"/><circle cx="283.9" cy="141.07" r="0.88"/><circle cx="285.43" cy="140.01" r="0.88"/><circle cx="286.95" cy="138.94" r="0.88"/><circle cx="288.48" cy="137.87" r="0.88"/><circle cx="290" cy="136.8" r="0.88"/><circle cx="291.52" cy="135.72" r="0.88"/><circle cx="293.05" cy="134.64" r="0.88"/><circle cx="294.57" cy="133.55" r="0.88"/><circle cx="296.1" cy="132.46" r="0.88"/><circle cx="297.62" cy="131.36" r="0.88"/><circle cx="299.14" cy="130.25" r="0.88"/><circle cx="300.67" cy="129.14" r="0.88"/><circle cx="302.19" cy="128.02" r="0.88"/><circle cx="303.72" cy="126.89" r="0.88"/><circle cx="305.24" cy="125.75" r="0.88"/><circle cx="306.77" cy="124.6" r="0.88"/><circle cx="308.29" cy="123.43" r="0.88"/><circle cx="309.81" cy="122.25" r="0.88"/><circle cx="311.34" cy="121.06" r="0.88"/><circle cx="312.79" cy="119.9" r="0.88"/><circle cx="314.24" cy="118.73" r="0.88"/><circle cx="315.69" cy="117.52" r="0.88"/><circle cx="317.14" cy="116.29" r="0.88"/><circle cx="318.67" cy="114.96" r="0.89"/><circle cx="320.26" cy="113.52" r="0.89"/><circle cx="321.93" cy="111.95" r="0.9"/><circle cx="323.68" cy="110.22" r="0.91"/><circle cx="325.49" cy="108.29" r="0.92"/><circle cx="327.45" cy="106.04" r="0.94"/><circle cx="329.55" cy="103.38" r="0.97"/><circle cx="331.8" cy="100.18" r="1"/><circle cx="334.2" cy="96.3" r="1.04"/><circle cx="336.59" cy="91.86" r="1.06"/><circle cx="338.77" cy="87.32" r="1.06"/><circle cx="340.8" cy="82.65" r="1.06"/><circle cx="342.69" cy="77.96" r="1.06"/><circle cx="344.51" cy="73.17" r="1.06"/><circle cx="346.25" cy="68.35" r="1.06"/><circle cx="347.92" cy="63.55" r="1.06"/><circle cx="349.51" cy="58.82" r="1.06"/><circle cx="351.11" cy="53.98" r="1.06"/><circle cx="352.63" cy="49.27" r="1.06"/><circle cx="354.16" cy="44.48" r="1.06"/><circle cx="355.68" cy="39.64" r="1.06"/><circle cx="357.21" cy="34.74" r="1.06"/><circle cx="358.73" cy="29.79" r="1.06"/><circle cx="360.18" cy="25.05" r="1.06"/><circle cx="361.63" cy="20.28" r="1.06"/><circle cx="209.15" cy="199.79" r="0.95"/><circle cx="209.37" cy="197.01" r="0.95"/><circle cx="209.58" cy="194.6" r="0.95"/><circle cx="209.87" cy="192.34" r="0.95"/><circle cx="210.38" cy="190.16" r="0.95"/><circle cx="210.96" cy="188.12" r="0.95"/><circle cx="211.47" cy="186.65" r="0.95"/><circle cx="212.05" cy="185.25" r="0.95"/><circle cx="212.7" cy="183.89" r="0.95"/><circle cx="213.43" cy="182.49" r="0.95"/><circle cx="214.16" cy="181.15" r="0.95"/><circle cx="214.95" cy="179.8" r="0.95"/><circle cx="215.83" cy="178.53" r="0.95"/><circle cx="216.84" cy="177.36" r="0.95"/><circle cx="217.86" cy="176.33" r="0.95"/><circle cx="218.95" cy="175.3" r="0.95"/><circle cx="220.11" cy="174.32" r="0.95"/><circle cx="221.34" cy="173.43" r="0.95"/><circle cx="222.58" cy="172.56" r="0.95"/><circle cx="223.81" cy="171.7" r="0.95"/><circle cx="225.04" cy="170.86" r="0.95"/><circle cx="226.28" cy="170.05" r="0.95"/><circle cx="227.66" cy="169.42" r="0.95"/><circle cx="229.03" cy="168.97" r="0.95"/><circle cx="230.41" cy="168.51" r="0.95"/><circle cx="231.79" cy="167.91" r="0.95"/><circle cx="233.17" cy="167.26" r="0.95"/><circle cx="234.48" cy="166.62" r="0.95"/><circle cx="235.78" cy="165.95" r="0.95"/><circle cx="237.09" cy="165.28" r="0.95"/><circle cx="238.4" cy="164.6" r="0.95"/><circle cx="239.7" cy="163.9" r="0.95"/><circle cx="241.01" cy="163.16" r="0.95"/><circle cx="242.32" cy="162.36" r="0.95"/><circle cx="243.84" cy="161.38" r="0.88"/><circle cx="245.36" cy="160.39" r="0.88"/><circle cx="246.89" cy="159.39" r="0.88"/><circle cx="248.41" cy="158.39" r="0.88"/><circle cx="249.94" cy="157.39" r="0.88"/><circle cx="251.46" cy="156.38" r="0.88"/><circle cx="252.99" cy="155.37" r="0.88"/><circle cx="254.51" cy="154.36" r="0.88"/><circle cx="256.03" cy="153.34" r="0.88"/><circle cx="257.56" cy="152.33" r="0.88"/><circle cx="259.08" cy="151.32" r="0.88"/><circle cx="260.61" cy="150.31" r="0.88"/><circle cx="262.13" cy="149.3" r="0.88"/><circle cx="263.65" cy="148.29" r="0.88"/><circle cx="265.18" cy="147.29" r="0.88"/><circle cx="266.7" cy="146.29" r="0.88"/><circle cx="268.23" cy="145.3" r="0.88"/><circle cx="269.75" cy="144.31" r="0.88"/><circle cx="271.27" cy="143.31" r="0.88"/><circle cx="272.8" cy="142.32" r="0.88"/><circle cx="274.32" cy="141.33" r="0.88"/><circle cx="275.85" cy="140.34" r="0.88"/><circle cx="277.37" cy="139.35" r="0.88"/><circle cx="278.97" cy="138.31" r="0.88"/><circle cx="280.56" cy="137.26" r="0.88"/><circle cx="282.16" cy="136.22" r="0.88"/><circle cx="283.76" cy="135.18" r="0.88"/><circle cx="285.35" cy="134.13" r="0.88"/><circle cx="286.95" cy="133.08" r="0.88"/><circle cx="288.55" cy="132.01" r="0.88"/><circle cx="290.07" cy="130.96" r="0.88"/><circle cx="291.6" cy="129.9" r="0.88"/><circle cx="293.12" cy="128.85" r="0.88"/><circle cx="294.64" cy="127.79" r="0.88"/><circle cx="296.17" cy="126.73" r="0.88"/><circle cx="297.69" cy="125.66" r="0.88"/><circle cx="299.22" cy="124.58" r="0.88"/><circle cx="300.74" cy="123.51" r="0.88"/><circle cx="302.27" cy="122.42" r="0.88"/><circle cx="303.79" cy="121.32" r="0.88"/><circle cx="305.31" cy="120.22" r="0.88"/><circle cx="306.84" cy="119.1" r="0.88"/><circle cx="308.36" cy="117.97" r="0.88"/><circle cx="309.89" cy="116.81" r="0.88"/><circle cx="311.41" cy="115.64" r="0.88"/><circle cx="312.93" cy="114.43" r="0.88"/><circle cx="314.39" cy="113.25" r="0.88"/><circle cx="315.84" cy="112.03" r="0.88"/><circle cx="317.36" cy="110.69" r="0.89"/><circle cx="319.03" cy="109.14" r="0.9"/><circle cx="320.77" cy="107.41" r="0.91"/><circle cx="322.66" cy="105.36" r="0.93"/><circle cx="324.76" cy="102.8" r="0.96"/><circle cx="327.09" cy="99.53" r="1"/><circle cx="329.55" cy="95.44" r="1.05"/><circle cx="331.88" cy="90.88" r="1.06"/><circle cx="333.91" cy="86.27" r="1.06"/><circle cx="335.8" cy="81.48" r="1.06"/><circle cx="337.54" cy="76.61" r="1.06"/><circle cx="339.14" cy="71.8" r="1.06"/><circle cx="340.66" cy="66.92" r="1.06"/><circle cx="342.11" cy="62.03" r="1.06"/><circle cx="343.49" cy="57.19" r="1.06"/><circle cx="344.87" cy="52.18" r="1.06"/><circle cx="346.18" cy="47.28" r="1.06"/><circle cx="347.48" cy="42.26" r="1.06"/><circle cx="348.72" cy="37.41" r="1.06"/><circle cx="349.95" cy="32.47" r="1.06"/><circle cx="351.18" cy="27.45" r="1.06"/><circle cx="352.42" cy="22.36" r="1.06"/><circle cx="209.51" cy="200.1" r="0.95"/><circle cx="209.73" cy="197.65" r="0.95"/><circle cx="209.95" cy="195.37" r="0.95"/><circle cx="210.16" cy="193.06" r="0.95"/><circle cx="210.38" cy="190.72" r="0.95"/><circle cx="210.6" cy="188.48" r="0.95"/><circle cx="210.89" cy="185.94" r="0.95"/><circle cx="211.33" cy="183.7" r="0.95"/><circle cx="211.83" cy="182.27" r="0.95"/><circle cx="212.41" cy="180.94" r="0.95"/><circle cx="213.14" cy="179.6" r="0.95"/><circle cx="213.94" cy="178.36" r="0.95"/><circle cx="214.81" cy="177.07" r="0.95"/><circle cx="215.68" cy="175.87" r="0.95"/><circle cx="216.62" cy="174.66" r="0.95"/><circle cx="217.57" cy="173.54" r="0.95"/><circle cx="218.58" cy="172.4" r="0.95"/><circle cx="219.6" cy="171.27" r="0.95"/><circle cx="220.62" cy="170.14" r="0.95"/><circle cx="221.63" cy="169.07" r="0.95"/><circle cx="222.72" cy="168.05" r="0.95"/><circle cx="223.88" cy="167.17" r="0.95"/><circle cx="225.12" cy="166.35" r="0.95"/><circle cx="226.35" cy="165.54" r="0.95"/><circle cx="227.58" cy="164.73" r="0.95"/><circle cx="228.82" cy="163.93" r="0.95"/><circle cx="230.05" cy="163.14" r="0.95"/><circle cx="231.36" cy="162.39" r="0.95"/><circle cx="232.66" cy="161.75" r="0.95"/><circle cx="234.04" cy="161.15" r="0.95"/><circle cx="235.42" cy="160.58" r="0.95"/><circle cx="236.87" cy="160.15" r="0.95"/><circle cx="238.32" cy="159.84" r="0.95"/><circle cx="239.78" cy="159.53" r="0.95"/><circle cx="241.16" cy="159.08" r="0.95"/><circle cx="242.75" cy="158.24" r="0.88"/><circle cx="244.35" cy="157.25" r="0.88"/><circle cx="245.95" cy="156.26" r="0.88"/><circle cx="247.47" cy="155.29" r="0.88"/><circle cx="248.99" cy="154.32" r="0.88"/><circle cx="250.52" cy="153.35" r="0.88"/><circle cx="252.04" cy="152.36" r="0.88"/><circle cx="253.57" cy="151.37" r="0.88"/><circle cx="255.09" cy="150.38" r="0.88"/><circle cx="256.61" cy="149.39" r="0.88"/><circle cx="258.14" cy="148.39" r="0.88"/><circle cx="259.66" cy="147.4" r="0.88"/><circle cx="261.19" cy="146.4" r="0.88"/><circle cx="262.71" cy="145.41" r="0.88"/><circle cx="264.23" cy="144.43" r="0.88"/><circle cx="265.76" cy="143.45" r="0.88"/><circle cx="267.28" cy="142.46" r="0.88"/><circle cx="268.81" cy="141.48" r="0.88"/><circle cx="270.33" cy="140.5" r="0.88"/><circle cx="271.86" cy="139.52" r="0.88"/><circle cx="273.38" cy="138.54" r="0.88"/><circle cx="274.9" cy="137.55" r="0.88"/><circle cx="276.43" cy="136.57" r="0.88"/><circle cx="277.95" cy="135.59" r="0.88"/><circle cx="279.55" cy="134.57" r="0.88"/><circle cx="281.15" cy="133.54" r="0.88"/><circle cx="282.74" cy="132.52" r="0.88"/><circle cx="284.34" cy="131.5" r="0.88"/><circle cx="285.94" cy="130.47" r="0.88"/><circle cx="287.53" cy="129.45" r="0.88"/><circle cx="289.13" cy="128.38" r="0.88"/><circle cx="290.73" cy="127.31" r="0.88"/><circle cx="292.32" cy="126.24" r="0.88"/><circle cx="293.92" cy="125.16" r="0.88"/><circle cx="295.52" cy="124.08" r="0.88"/><circle cx="297.11" cy="123" r="0.88"/><circle cx="298.71" cy="121.92" r="0.88"/><circle cx="300.31" cy="120.83" r="0.88"/><circle cx="301.9" cy="119.73" r="0.88"/><circle cx="303.43" cy="118.68" r="0.88"/><circle cx="304.95" cy="117.61" r="0.88"/><circle cx="306.48" cy="116.53" r="0.88"/><circle cx="308" cy="115.44" r="0.88"/><circle cx="309.52" cy="114.31" r="0.88"/><circle cx="311.05" cy="113.16" r="0.88"/><circle cx="312.57" cy="111.96" r="0.88"/><circle cx="314.02" cy="110.76" r="0.88"/><circle cx="315.55" cy="109.44" r="0.89"/><circle cx="317.22" cy="107.88" r="0.9"/><circle cx="319.03" cy="106.02" r="0.92"/><circle cx="321.06" cy="103.66" r="0.95"/><circle cx="323.31" cy="100.61" r="0.99"/><circle cx="325.85" cy="96.46" r="1.05"/><circle cx="328.1" cy="92.01" r="1.06"/><circle cx="330.14" cy="87.31" r="1.06"/><circle cx="331.95" cy="82.54" r="1.06"/><circle cx="333.62" cy="77.67" r="1.06"/><circle cx="335.14" cy="72.82" r="1.06"/><circle cx="336.59" cy="67.87" r="1.06"/><circle cx="337.97" cy="62.86" r="1.06"/><circle cx="339.28" cy="57.86" r="1.06"/><circle cx="340.51" cy="52.91" r="1.06"/><circle cx="341.68" cy="48.07" r="1.06"/><circle cx="342.84" cy="43.06" r="1.06"/><circle cx="343.93" cy="38.22" r="1.06"/><circle cx="345.01" cy="33.24" r="1.06"/><circle cx="346.1" cy="28.15" r="1.06"/><circle cx="347.12" cy="23.29" r="1.06"/><circle cx="348.13" cy="18.34" r="1.06"/><circle cx="209.44" cy="199.65" r="0.95"/><circle cx="209.66" cy="197.22" r="0.95"/><circle cx="209.95" cy="194.52" r="0.95"/><circle cx="210.24" cy="192.19" r="0.95"/><circle cx="210.53" cy="190.04" r="0.95"/><circle cx="210.89" cy="187.67" r="0.95"/><circle cx="211.33" cy="185.39" r="0.95"/><circle cx="211.91" cy="183.32" r="0.95"/><circle cx="212.41" cy="181.84" r="0.95"/><circle cx="212.99" cy="180.39" r="0.95"/><circle cx="213.65" cy="178.97" r="0.95"/><circle cx="214.37" cy="177.56" r="0.95"/><circle cx="215.1" cy="176.22" r="0.95"/><circle cx="215.83" cy="174.96" r="0.95"/><circle cx="216.62" cy="173.66" r="0.95"/><circle cx="217.49" cy="172.38" r="0.95"/><circle cx="218.44" cy="171.15" r="0.95"/><circle cx="219.38" cy="170.05" r="0.95"/><circle cx="220.4" cy="168.91" r="0.95"/><circle cx="221.41" cy="167.84" r="0.95"/><circle cx="222.5" cy="166.79" r="0.95"/><circle cx="223.66" cy="165.79" r="0.95"/><circle cx="224.83" cy="164.88" r="0.95"/><circle cx="225.99" cy="163.99" r="0.95"/><circle cx="227.22" cy="163.07" r="0.95"/><circle cx="228.45" cy="162.18" r="0.95"/><circle cx="229.69" cy="161.33" r="0.95"/><circle cx="230.99" cy="160.59" r="0.95"/><circle cx="232.37" cy="160.04" r="0.95"/><circle cx="233.75" cy="159.59" r="0.95"/><circle cx="235.13" cy="159.12" r="0.95"/><circle cx="236.58" cy="158.67" r="0.95"/><circle cx="238.03" cy="158.34" r="0.95"/><circle cx="239.49" cy="157.99" r="0.95"/><circle cx="240.86" cy="157.52" r="0.95"/><circle cx="242.17" cy="156.85" r="0.95"/><circle cx="243.7" cy="155.83" r="0.88"/><circle cx="245.22" cy="154.81" r="0.88"/><circle cx="246.74" cy="153.79" r="0.88"/><circle cx="248.27" cy="152.77" r="0.88"/><circle cx="249.79" cy="151.75" r="0.88"/><circle cx="251.32" cy="150.72" r="0.88"/><circle cx="252.84" cy="149.7" r="0.88"/><circle cx="254.36" cy="148.68" r="0.88"/><circle cx="255.89" cy="147.66" r="0.88"/><circle cx="257.41" cy="146.64" r="0.88"/><circle cx="258.94" cy="145.61" r="0.88"/><circle cx="260.46" cy="144.59" r="0.88"/><circle cx="261.98" cy="143.57" r="0.88"/><circle cx="263.51" cy="142.54" r="0.88"/><circle cx="265.03" cy="141.52" r="0.88"/><circle cx="266.56" cy="140.5" r="0.88"/><circle cx="268.08" cy="139.47" r="0.88"/><circle cx="269.61" cy="138.45" r="0.88"/><circle cx="271.13" cy="137.42" r="0.88"/><circle cx="272.65" cy="136.4" r="0.88"/><circle cx="274.18" cy="135.37" r="0.88"/><circle cx="275.7" cy="134.35" r="0.88"/><circle cx="277.23" cy="133.32" r="0.88"/><circle cx="278.82" cy="132.24" r="0.88"/><circle cx="280.42" cy="131.17" r="0.88"/><circle cx="282.02" cy="130.09" r="0.88"/><circle cx="283.61" cy="129.01" r="0.88"/><circle cx="285.21" cy="127.93" r="0.88"/><circle cx="286.81" cy="126.85" r="0.88"/><circle cx="288.4" cy="125.77" r="0.88"/><circle cx="290" cy="124.68" r="0.88"/><circle cx="291.6" cy="123.59" r="0.88"/><circle cx="293.19" cy="122.5" r="0.88"/><circle cx="294.79" cy="121.41" r="0.88"/><circle cx="296.39" cy="120.31" r="0.88"/><circle cx="297.91" cy="119.26" r="0.88"/><circle cx="299.44" cy="118.2" r="0.88"/><circle cx="300.96" cy="117.14" r="0.88"/><circle cx="302.48" cy="116.06" r="0.88"/><circle cx="304.01" cy="114.97" r="0.88"/><circle cx="305.53" cy="113.86" r="0.88"/><circle cx="307.06" cy="112.74" r="0.88"/><circle cx="308.58" cy="111.59" r="0.88"/><circle cx="310.1" cy="110.4" r="0.88"/><circle cx="311.56" cy="109.22" r="0.88"/><circle cx="313.08" cy="107.93" r="0.88"/><circle cx="314.68" cy="106.5" r="0.89"/><circle cx="316.42" cy="104.81" r="0.91"/><circle cx="318.31" cy="102.79" r="0.93"/><circle cx="320.41" cy="100.22" r="0.96"/><circle cx="322.81" cy="96.75" r="1.01"/><circle cx="325.27" cy="92.37" r="1.06"/><circle cx="327.38" cy="87.86" r="1.06"/><circle cx="329.26" cy="83.13" r="1.06"/><circle cx="330.93" cy="78.36" r="1.06"/><circle cx="332.46" cy="73.51" r="1.06"/><circle cx="333.84" cy="68.72" r="1.06"/><circle cx="335.14" cy="63.83" r="1.06"/><circle cx="336.38" cy="58.9" r="1.06"/><circle cx="337.54" cy="53.98" r="1.06"/><circle cx="338.63" cy="49.14" r="1.06"/><circle cx="339.72" cy="44.09" r="1.06"/><circle cx="340.73" cy="39.19" r="1.06"/><circle cx="341.75" cy="34.11" r="1.06"/><circle cx="342.69" cy="29.25" r="1.06"/><circle cx="343.63" cy="24.26" r="1.06"/><circle cx="344.58" cy="19.14" r="1.06"/><circle cx="209.37" cy="200.19" r="0.95"/><circle cx="209.58" cy="197.54" r="0.95"/><circle cx="209.8" cy="195.05" r="0.95"/><circle cx="210.02" cy="192.62" r="0.95"/><circle cx="210.24" cy="190.32" r="0.95"/><circle cx="210.6" cy="187.78" r="0.95"/><circle cx="210.96" cy="185.69" r="0.95"/><circle cx="211.47" cy="183.47" r="0.95"/><circle cx="212.12" cy="181.41" r="0.95"/><circle cx="212.63" cy="180.03" r="0.95"/><circle cx="213.21" cy="178.66" r="0.95"/><circle cx="213.87" cy="177.29" r="0.95"/><circle cx="214.59" cy="175.89" r="0.95"/><circle cx="215.32" cy="174.57" r="0.95"/><circle cx="216.12" cy="173.19" r="0.95"/><circle cx="216.91" cy="171.92" r="0.95"/><circle cx="217.79" cy="170.66" r="0.95"/><circle cx="218.73" cy="169.47" r="0.95"/><circle cx="219.67" cy="168.36" r="0.95"/><circle cx="220.69" cy="167.22" r="0.95"/><circle cx="221.7" cy="166.16" r="0.95"/><circle cx="222.79" cy="165.11" r="0.95"/><circle cx="223.95" cy="164.11" r="0.95"/><circle cx="225.12" cy="163.17" r="0.95"/><circle cx="226.28" cy="162.25" r="0.95"/><circle cx="227.44" cy="161.35" r="0.95"/><circle cx="228.67" cy="160.44" r="0.95"/><circle cx="229.91" cy="159.59" r="0.95"/><circle cx="231.21" cy="158.85" r="0.95"/><circle cx="232.59" cy="158.23" r="0.95"/><circle cx="233.97" cy="157.68" r="0.95"/><circle cx="235.35" cy="157.1" r="0.95"/><circle cx="236.73" cy="156.59" r="0.95"/><circle cx="238.11" cy="156.14" r="0.95"/><circle cx="239.49" cy="155.67" r="0.95"/><circle cx="240.86" cy="155.1" r="0.95"/><circle cx="242.17" cy="154.37" r="0.95"/><circle cx="243.7" cy="153.35" r="0.88"/><circle cx="245.22" cy="152.33" r="0.88"/><circle cx="246.74" cy="151.31" r="0.88"/><circle cx="248.27" cy="150.28" r="0.88"/><circle cx="249.79" cy="149.26" r="0.88"/><circle cx="251.32" cy="148.23" r="0.88"/><circle cx="252.84" cy="147.21" r="0.88"/><circle cx="254.36" cy="146.18" r="0.88"/><circle cx="255.89" cy="145.15" r="0.88"/><circle cx="257.41" cy="144.13" r="0.88"/><circle cx="258.94" cy="143.1" r="0.88"/><circle cx="260.46" cy="142.07" r="0.88"/><circle cx="261.98" cy="141.05" r="0.88"/><circle cx="263.51" cy="140.02" r="0.88"/><circle cx="265.03" cy="138.99" r="0.88"/><circle cx="266.56" cy="137.96" r="0.88"/><circle cx="268.08" cy="136.93" r="0.88"/><circle cx="269.61" cy="135.89" r="0.88"/><circle cx="271.13" cy="134.86" r="0.88"/><circle cx="272.65" cy="133.83" r="0.88"/><circle cx="274.18" cy="132.79" r="0.88"/><circle cx="275.7" cy="131.76" r="0.88"/><circle cx="277.23" cy="130.72" r="0.88"/><circle cx="278.82" cy="129.63" r="0.88"/><circle cx="280.42" cy="128.54" r="0.88"/><circle cx="282.02" cy="127.45" r="0.88"/><circle cx="283.61" cy="126.35" r="0.88"/><circle cx="285.21" cy="125.25" r="0.88"/><circle cx="286.73" cy="124.2" r="0.88"/><circle cx="288.26" cy="123.15" r="0.88"/><circle cx="289.78" cy="122.09" r="0.88"/><circle cx="291.31" cy="121.03" r="0.88"/><circle cx="292.83" cy="119.96" r="0.88"/><circle cx="294.35" cy="118.89" r="0.88"/><circle cx="295.88" cy="117.81" r="0.88"/><circle cx="297.4" cy="116.72" r="0.88"/><circle cx="298.93" cy="115.62" r="0.88"/><circle cx="300.45" cy="114.51" r="0.88"/><circle cx="301.98" cy="113.38" r="0.88"/><circle cx="303.5" cy="112.23" r="0.88"/><circle cx="305.02" cy="111.06" r="0.88"/><circle cx="306.55" cy="109.85" r="0.88"/><circle cx="308" cy="108.67" r="0.88"/><circle cx="309.52" cy="107.38" r="0.88"/><circle cx="311.12" cy="105.95" r="0.89"/><circle cx="312.79" cy="104.37" r="0.9"/><circle cx="314.6" cy="102.5" r="0.92"/><circle cx="316.56" cy="100.26" r="0.94"/><circle cx="318.74" cy="97.42" r="0.98"/><circle cx="321.21" cy="93.59" r="1.03"/><circle cx="323.6" cy="89.09" r="1.06"/><circle cx="325.64" cy="84.55" r="1.06"/><circle cx="327.45" cy="79.84" r="1.06"/><circle cx="329.05" cy="75.15" r="1.06"/><circle cx="330.5" cy="70.41" r="1.06"/><circle cx="331.88" cy="65.47" r="1.06"/><circle cx="333.18" cy="60.39" r="1.06"/><circle cx="334.34" cy="55.54" r="1.06"/><circle cx="335.43" cy="50.71" r="1.06"/><circle cx="336.52" cy="45.61" r="1.06"/><circle cx="337.54" cy="40.6" r="1.06"/><circle cx="338.55" cy="35.36" r="1.06"/><circle cx="339.5" cy="30.29" r="1.06"/><circle cx="340.44" cy="25.03" r="1.06"/><circle cx="341.31" cy="20.03" r="1.06"/><circle cx="209.37" cy="199.74" r="0.95"/><circle cx="209.58" cy="196.98" r="0.95"/><circle cx="209.8" cy="194.22" r="0.95"/><circle cx="210.02" cy="191.21" r="0.95"/><circle cx="210.16" cy="188.98" r="0.95"/><circle cx="210.45" cy="186.83" r="0.95"/><circle cx="210.82" cy="184.73" r="0.95"/><circle cx="211.33" cy="182.55" r="0.95"/><circle cx="211.98" cy="180.49" r="0.95"/><circle cx="212.49" cy="179.07" r="0.95"/><circle cx="213.07" cy="177.65" r="0.95"/><circle cx="213.72" cy="176.23" r="0.95"/><circle cx="214.45" cy="174.81" r="0.95"/><circle cx="215.17" cy="173.46" r="0.95"/><circle cx="215.9" cy="172.17" r="0.95"/><circle cx="216.7" cy="170.86" r="0.95"/><circle cx="217.57" cy="169.55" r="0.95"/><circle cx="218.44" cy="168.38" r="0.95"/><circle cx="219.38" cy="167.24" r="0.95"/><circle cx="220.4" cy="166.07" r="0.95"/><circle cx="221.41" cy="164.96" r="0.95"/><circle cx="222.5" cy="163.87" r="0.95"/><circle cx="223.59" cy="162.87" r="0.95"/><circle cx="224.75" cy="161.89" r="0.95"/><circle cx="225.91" cy="160.92" r="0.95"/><circle cx="227.07" cy="159.98" r="0.95"/><circle cx="228.24" cy="159.08" r="0.95"/><circle cx="229.47" cy="158.19" r="0.95"/><circle cx="230.7" cy="157.4" r="0.95"/><circle cx="232.01" cy="156.68" r="0.95"/><circle cx="233.32" cy="156.04" r="0.95"/><circle cx="234.7" cy="155.38" r="0.95"/><circle cx="236" cy="154.75" r="0.95"/><circle cx="237.38" cy="154.15" r="0.95"/><circle cx="238.76" cy="153.56" r="0.95"/><circle cx="240.14" cy="152.93" r="0.95"/><circle cx="241.45" cy="152.24" r="0.95"/><circle cx="242.97" cy="151.25" r="0.88"/><circle cx="244.49" cy="150.23" r="0.88"/><circle cx="246.02" cy="149.2" r="0.88"/><circle cx="247.54" cy="148.18" r="0.88"/><circle cx="249.07" cy="147.15" r="0.88"/><circle cx="250.59" cy="146.12" r="0.88"/><circle cx="252.11" cy="145.09" r="0.88"/><circle cx="253.64" cy="144.06" r="0.88"/><circle cx="255.16" cy="143.03" r="0.88"/><circle cx="256.69" cy="142" r="0.88"/><circle cx="258.21" cy="140.97" r="0.88"/><circle cx="259.73" cy="139.94" r="0.88"/><circle cx="261.26" cy="138.9" r="0.88"/><circle cx="262.78" cy="137.87" r="0.88"/><circle cx="264.31" cy="136.83" r="0.88"/><circle cx="265.83" cy="135.8" r="0.88"/><circle cx="267.36" cy="134.76" r="0.88"/><circle cx="268.88" cy="133.72" r="0.88"/><circle cx="270.4" cy="132.68" r="0.88"/><circle cx="271.93" cy="131.64" r="0.88"/><circle cx="273.45" cy="130.59" r="0.88"/><circle cx="274.98" cy="129.55" r="0.88"/><circle cx="276.5" cy="128.5" r="0.88"/><circle cx="278.02" cy="127.45" r="0.88"/><circle cx="279.55" cy="126.39" r="0.88"/><circle cx="281.07" cy="125.33" r="0.88"/><circle cx="282.6" cy="124.27" r="0.88"/><circle cx="284.12" cy="123.21" r="0.88"/><circle cx="285.65" cy="122.14" r="0.88"/><circle cx="287.17" cy="121.07" r="0.88"/><circle cx="288.69" cy="120" r="0.88"/><circle cx="290.22" cy="118.92" r="0.88"/><circle cx="291.74" cy="117.83" r="0.88"/><circle cx="293.27" cy="116.73" r="0.88"/><circle cx="294.79" cy="115.63" r="0.88"/><circle cx="296.31" cy="114.51" r="0.88"/><circle cx="297.84" cy="113.39" r="0.88"/><circle cx="299.36" cy="112.25" r="0.88"/><circle cx="300.89" cy="111.09" r="0.88"/><circle cx="302.41" cy="109.92" r="0.88"/><circle cx="303.93" cy="108.72" r="0.88"/><circle cx="305.39" cy="107.54" r="0.88"/><circle cx="306.84" cy="106.34" r="0.88"/><circle cx="308.36" cy="105.02" r="0.89"/><circle cx="309.96" cy="103.59" r="0.89"/><circle cx="311.63" cy="101.99" r="0.9"/><circle cx="313.44" cy="100.13" r="0.92"/><circle cx="315.4" cy="97.91" r="0.94"/><circle cx="317.58" cy="95.11" r="0.97"/><circle cx="319.97" cy="91.49" r="1.02"/><circle cx="322.37" cy="87.12" r="1.06"/><circle cx="324.47" cy="82.48" r="1.06"/><circle cx="326.29" cy="77.78" r="1.06"/><circle cx="327.89" cy="73.03" r="1.06"/><circle cx="329.34" cy="68.18" r="1.06"/><circle cx="330.64" cy="63.35" r="1.06"/><circle cx="331.88" cy="58.37" r="1.06"/><circle cx="333.04" cy="53.3" r="1.06"/><circle cx="334.13" cy="48.22" r="1.06"/><circle cx="335.14" cy="43.17" r="1.06"/><circle cx="336.09" cy="38.24" r="1.06"/><circle cx="337.03" cy="33.06" r="1.06"/><circle cx="337.9" cy="28.07" r="1.06"/><circle cx="338.77" cy="22.88" r="1.06"/><circle cx="209.29" cy="200.2" r="0.95"/><circle cx="209.51" cy="197.41" r="0.95"/><circle cx="209.73" cy="194.41" r="0.95"/><circle cx="209.95" cy="191.26" r="0.95"/><circle cx="210.09" cy="188.26" r="0.95"/><circle cx="210.31" cy="185.87" r="0.95"/><circle cx="210.67" cy="183.69" r="0.95"/><circle cx="211.18" cy="181.55" r="0.95"/><circle cx="211.91" cy="179.34" r="0.95"/><circle cx="212.41" cy="177.92" r="0.95"/><circle cx="212.99" cy="176.48" r="0.95"/><circle cx="213.65" cy="175.03" r="0.95"/><circle cx="214.3" cy="173.72" r="0.95"/><circle cx="215.03" cy="172.35" r="0.95"/><circle cx="215.75" cy="171.04" r="0.95"/><circle cx="216.55" cy="169.69" r="0.95"/><circle cx="217.35" cy="168.45" r="0.95"/><circle cx="218.22" cy="167.23" r="0.95"/><circle cx="219.16" cy="166.05" r="0.95"/><circle cx="220.11" cy="164.93" r="0.95"/><circle cx="221.12" cy="163.78" r="0.95"/><circle cx="222.14" cy="162.72" r="0.95"/><circle cx="223.23" cy="161.66" r="0.95"/><circle cx="224.32" cy="160.69" r="0.95"/><circle cx="225.48" cy="159.68" r="0.95"/><circle cx="226.64" cy="158.69" r="0.95"/><circle cx="227.8" cy="157.74" r="0.95"/><circle cx="228.96" cy="156.86" r="0.95"/><circle cx="230.2" cy="156" r="0.95"/><circle cx="231.43" cy="155.23" r="0.95"/><circle cx="232.74" cy="154.48" r="0.95"/><circle cx="234.04" cy="153.75" r="0.95"/><circle cx="235.35" cy="153.02" r="0.95"/><circle cx="236.66" cy="152.32" r="0.95"/><circle cx="237.96" cy="151.63" r="0.95"/><circle cx="239.27" cy="150.93" r="0.95"/><circle cx="240.57" cy="150.2" r="0.95"/><circle cx="241.88" cy="149.4" r="0.95"/><circle cx="243.4" cy="148.38" r="0.88"/><circle cx="244.93" cy="147.35" r="0.88"/><circle cx="246.45" cy="146.32" r="0.88"/><circle cx="247.98" cy="145.29" r="0.88"/><circle cx="249.5" cy="144.26" r="0.88"/><circle cx="251.03" cy="143.23" r="0.88"/><circle cx="252.55" cy="142.2" r="0.88"/><circle cx="254.07" cy="141.17" r="0.88"/><circle cx="255.6" cy="140.13" r="0.88"/><circle cx="257.12" cy="139.1" r="0.88"/><circle cx="258.65" cy="138.06" r="0.88"/><circle cx="260.17" cy="137.03" r="0.88"/><circle cx="261.69" cy="135.99" r="0.88"/><circle cx="263.22" cy="134.95" r="0.88"/><circle cx="264.74" cy="133.91" r="0.88"/><circle cx="266.27" cy="132.86" r="0.88"/><circle cx="267.79" cy="131.82" r="0.88"/><circle cx="269.32" cy="130.77" r="0.88"/><circle cx="270.84" cy="129.72" r="0.88"/><circle cx="272.36" cy="128.67" r="0.88"/><circle cx="273.89" cy="127.62" r="0.88"/><circle cx="275.41" cy="126.56" r="0.88"/><circle cx="276.94" cy="125.5" r="0.88"/><circle cx="278.46" cy="124.44" r="0.88"/><circle cx="279.98" cy="123.37" r="0.88"/><circle cx="281.51" cy="122.3" r="0.88"/><circle cx="283.03" cy="121.23" r="0.88"/><circle cx="284.56" cy="120.15" r="0.88"/><circle cx="286.08" cy="119.07" r="0.88"/><circle cx="287.6" cy="117.98" r="0.88"/><circle cx="289.13" cy="116.88" r="0.88"/><circle cx="290.65" cy="115.78" r="0.88"/><circle cx="292.18" cy="114.67" r="0.88"/><circle cx="293.7" cy="113.56" r="0.88"/><circle cx="295.23" cy="112.43" r="0.88"/><circle cx="296.75" cy="111.29" r="0.88"/><circle cx="298.27" cy="110.14" r="0.88"/><circle cx="299.8" cy="108.97" r="0.88"/><circle cx="301.32" cy="107.78" r="0.88"/><circle cx="302.77" cy="106.63" r="0.88"/><circle cx="304.23" cy="105.46" r="0.88"/><circle cx="305.68" cy="104.25" r="0.88"/><circle cx="307.2" cy="102.95" r="0.88"/><circle cx="308.72" cy="101.6" r="0.89"/><circle cx="310.32" cy="100.11" r="0.9"/><circle cx="312.06" cy="98.39" r="0.91"/><circle cx="313.95" cy="96.38" r="0.93"/><circle cx="315.98" cy="93.97" r="0.95"/><circle cx="318.23" cy="90.91" r="0.99"/><circle cx="320.77" cy="86.76" r="1.05"/><circle cx="323.02" cy="82.23" r="1.06"/><circle cx="324.91" cy="77.64" r="1.06"/><circle cx="326.58" cy="72.87" r="1.06"/><circle cx="328.03" cy="68.11" r="1.06"/><circle cx="329.34" cy="63.3" r="1.06"/><circle cx="330.57" cy="58.28" r="1.06"/><circle cx="331.73" cy="53.12" r="1.06"/><circle cx="332.75" cy="48.25" r="1.06"/><circle cx="333.76" cy="43.05" r="1.06"/><circle cx="334.71" cy="37.92" r="1.06"/><circle cx="335.58" cy="32.93" r="1.06"/><circle cx="336.45" cy="27.71" r="1.06"/><circle cx="337.25" cy="22.72" r="1.06"/><circle cx="209.29" cy="199.86" r="0.95"/><circle cx="209.51" cy="197.01" r="0.95"/><circle cx="209.66" cy="194.9" r="0.95"/><circle cx="209.8" cy="192.65" r="0.95"/><circle cx="209.95" cy="190.24" r="0.95"/><circle cx="210.09" cy="186.64" r="0.95"/><circle cx="210.24" cy="184.53" r="0.95"/><circle cx="210.6" cy="182.33" r="0.95"/><circle cx="211.18" cy="180.12" r="0.95"/><circle cx="211.69" cy="178.72" r="0.95"/><circle cx="212.2" cy="177.27" r="0.95"/><circle cx="212.78" cy="175.77" r="0.95"/><circle cx="213.36" cy="174.42" r="0.95"/><circle cx="214.01" cy="173.04" r="0.95"/><circle cx="214.74" cy="171.63" r="0.95"/><circle cx="215.46" cy="170.29" r="0.95"/><circle cx="216.19" cy="169.01" r="0.95"/><circle cx="216.99" cy="167.7" r="0.95"/><circle cx="217.86" cy="166.4" r="0.95"/><circle cx="218.8" cy="165.15" r="0.95"/><circle cx="219.74" cy="163.99" r="0.95"/><circle cx="220.76" cy="162.81" r="0.95"/><circle cx="221.78" cy="161.7" r="0.95"/><circle cx="222.79" cy="160.66" r="0.95"/><circle cx="223.88" cy="159.63" r="0.95"/><circle cx="224.97" cy="158.64" r="0.95"/><circle cx="226.06" cy="157.67" r="0.95"/><circle cx="227.22" cy="156.66" r="0.95"/><circle cx="228.38" cy="155.72" r="0.95"/><circle cx="229.54" cy="154.85" r="0.95"/><circle cx="230.78" cy="154.01" r="0.95"/><circle cx="232.01" cy="153.21" r="0.95"/><circle cx="233.24" cy="152.42" r="0.95"/><circle cx="234.48" cy="151.64" r="0.95"/><circle cx="235.71" cy="150.87" r="0.95"/><circle cx="236.95" cy="150.1" r="0.95"/><circle cx="238.18" cy="149.32" r="0.95"/><circle cx="239.41" cy="148.54" r="0.95"/><circle cx="240.65" cy="147.75" r="0.95"/><circle cx="241.88" cy="146.93" r="0.95"/><circle cx="243.4" cy="145.91" r="0.88"/><circle cx="244.93" cy="144.88" r="0.88"/><circle cx="246.45" cy="143.85" r="0.88"/><circle cx="247.98" cy="142.82" r="0.88"/><circle cx="249.5" cy="141.79" r="0.88"/><circle cx="251.03" cy="140.75" r="0.88"/><circle cx="252.55" cy="139.72" r="0.88"/><circle cx="254.07" cy="138.68" r="0.88"/><circle cx="255.6" cy="137.65" r="0.88"/><circle cx="257.12" cy="136.61" r="0.88"/><circle cx="258.65" cy="135.57" r="0.88"/><circle cx="260.17" cy="134.53" r="0.88"/><circle cx="261.69" cy="133.49" r="0.88"/><circle cx="263.22" cy="132.45" r="0.88"/><circle cx="264.74" cy="131.4" r="0.88"/><circle cx="266.27" cy="130.35" r="0.88"/><circle cx="267.79" cy="129.3" r="0.88"/><circle cx="269.32" cy="128.25" r="0.88"/><circle cx="270.84" cy="127.2" r="0.88"/><circle cx="272.36" cy="126.14" r="0.88"/><circle cx="273.89" cy="125.08" r="0.88"/><circle cx="275.41" cy="124.02" r="0.88"/><circle cx="276.94" cy="122.95" r="0.88"/><circle cx="278.46" cy="121.88" r="0.88"/><circle cx="279.98" cy="120.81" r="0.88"/><circle cx="281.51" cy="119.73" r="0.88"/><circle cx="283.03" cy="118.65" r="0.88"/><circle cx="284.56" cy="117.56" r="0.88"/><circle cx="286.08" cy="116.47" r="0.88"/><circle cx="287.6" cy="115.37" r="0.88"/><circle cx="289.13" cy="114.26" r="0.88"/><circle cx="290.65" cy="113.15" r="0.88"/><circle cx="292.18" cy="112.03" r="0.88"/><circle cx="293.7" cy="110.9" r="0.88"/><circle cx="295.23" cy="109.76" r="0.88"/><circle cx="296.75" cy="108.6" r="0.88"/><circle cx="298.27" cy="107.44" r="0.88"/><circle cx="299.8" cy="106.25" r="0.88"/><circle cx="301.32" cy="105.05" r="0.88"/><circle cx="302.77" cy="103.89" r="0.88"/><circle cx="304.23" cy="102.7" r="0.88"/><circle cx="305.68" cy="101.48" r="0.88"/><circle cx="307.2" cy="100.16" r="0.89"/><circle cx="308.8" cy="98.73" r="0.89"/><circle cx="310.47" cy="97.15" r="0.9"/><circle cx="312.21" cy="95.41" r="0.91"/><circle cx="314.1" cy="93.37" r="0.93"/><circle cx="316.13" cy="90.92" r="0.96"/><circle cx="318.45" cy="87.67" r="1"/><circle cx="320.99" cy="83.33" r="1.06"/><circle cx="323.17" cy="78.68" r="1.06"/><circle cx="324.98" cy="73.96" r="1.06"/><circle cx="326.58" cy="69.04" r="1.06"/><circle cx="327.96" cy="64.15" r="1.06"/><circle cx="329.19" cy="59.22" r="1.06"/><circle cx="330.35" cy="54.09" r="1.06"/><circle cx="331.37" cy="49.21" r="1.06"/><circle cx="332.31" cy="44.34" r="1.06"/><circle cx="333.26" cy="39.15" r="1.06"/><circle cx="334.13" cy="34.07" r="1.06"/><circle cx="334.93" cy="29.17" r="1.06"/><circle cx="335.72" cy="24.05" r="1.06"/><circle cx="336.52" cy="18.7" r="1.06"/></g>
</g>
<line x1="117.3" y1="121.9" x2="132.2" y2="148.75" stroke="#111" stroke-width="1.2"/>
<line x1="281.8" y1="121.9" x2="295.9" y2="148.75" stroke="#111" stroke-width="1.2"/>
<line x1="42.3" y1="28.5" x2="370.4" y2="28.5" stroke="#161616" stroke-width="0.9"/>
<line x1="42.8" y1="28.5" x2="42.8" y2="356.2" stroke="#161616" stroke-width="0.9"/>
<line x1="206.1" y1="28.5" x2="206.1" y2="356.2" stroke="#161616" stroke-width="0.9"/>
<line x1="369.9" y1="28.5" x2="369.9" y2="192.6" stroke="#161616" stroke-width="0.9"/>
<line x1="42.3" y1="192.1" x2="370.4" y2="192.1" stroke="#161616" stroke-width="0.9"/>
<line x1="42.3" y1="355.7" x2="206.6" y2="355.7" stroke="#161616" stroke-width="0.9"/>
<line x1="60.94" y1="28.5" x2="60.94" y2="30.3" stroke="#161616" stroke-width="0.7"/>
<line x1="60.94" y1="192.1" x2="60.94" y2="190.3" stroke="#161616" stroke-width="0.7"/>
<line x1="79.09" y1="28.5" x2="79.09" y2="31.9" stroke="#161616" stroke-width="0.7"/>
<line x1="79.09" y1="192.1" x2="79.09" y2="188.7" stroke="#161616" stroke-width="0.7"/>
<line x1="97.23" y1="28.5" x2="97.23" y2="30.3" stroke="#161616" stroke-width="0.7"/>
<line x1="97.23" y1="192.1" x2="97.23" y2="190.3" stroke="#161616" stroke-width="0.7"/>
<line x1="115.38" y1="28.5" x2="115.38" y2="31.9" stroke="#161616" stroke-width="0.7"/>
<line x1="115.38" y1="192.1" x2="115.38" y2="188.7" stroke="#161616" stroke-width="0.7"/>
<line x1="133.52" y1="28.5" x2="133.52" y2="30.3" stroke="#161616" stroke-width="0.7"/>
<line x1="133.52" y1="192.1" x2="133.52" y2="190.3" stroke="#161616" stroke-width="0.7"/>
<line x1="151.67" y1="28.5" x2="151.67" y2="31.9" stroke="#161616" stroke-width="0.7"/>
<line x1="151.67" y1="192.1" x2="151.67" y2="188.7" stroke="#161616" stroke-width="0.7"/>
<line x1="169.81" y1="28.5" x2="169.81" y2="30.3" stroke="#161616" stroke-width="0.7"/>
<line x1="169.81" y1="192.1" x2="169.81" y2="190.3" stroke="#161616" stroke-width="0.7"/>
<line x1="187.96" y1="28.5" x2="187.96" y2="31.9" stroke="#161616" stroke-width="0.7"/>
<line x1="187.96" y1="192.1" x2="187.96" y2="188.7" stroke="#161616" stroke-width="0.7"/>
<line x1="224.24" y1="28.5" x2="224.24" y2="30.3" stroke="#161616" stroke-width="0.7"/>
<line x1="224.24" y1="192.1" x2="224.24" y2="190.3" stroke="#161616" stroke-width="0.7"/>
<line x1="242.39" y1="28.5" x2="242.39" y2="31.9" stroke="#161616" stroke-width="0.7"/>
<line x1="242.39" y1="192.1" x2="242.39" y2="188.7" stroke="#161616" stroke-width="0.7"/>
<line x1="260.53" y1="28.5" x2="260.53" y2="30.3" stroke="#161616" stroke-width="0.7"/>
<line x1="260.53" y1="192.1" x2="260.53" y2="190.3" stroke="#161616" stroke-width="0.7"/>
<line x1="278.68" y1="28.5" x2="278.68" y2="31.9" stroke="#161616" stroke-width="0.7"/>
<line x1="278.68" y1="192.1" x2="278.68" y2="188.7" stroke="#161616" stroke-width="0.7"/>
<line x1="296.82" y1="28.5" x2="296.82" y2="30.3" stroke="#161616" stroke-width="0.7"/>
<line x1="296.82" y1="192.1" x2="296.82" y2="190.3" stroke="#161616" stroke-width="0.7"/>
<line x1="314.97" y1="28.5" x2="314.97" y2="31.9" stroke="#161616" stroke-width="0.7"/>
<line x1="314.97" y1="192.1" x2="314.97" y2="188.7" stroke="#161616" stroke-width="0.7"/>
<line x1="333.11" y1="28.5" x2="333.11" y2="30.3" stroke="#161616" stroke-width="0.7"/>
<line x1="333.11" y1="192.1" x2="333.11" y2="190.3" stroke="#161616" stroke-width="0.7"/>
<line x1="351.26" y1="28.5" x2="351.26" y2="31.9" stroke="#161616" stroke-width="0.7"/>
<line x1="351.26" y1="192.1" x2="351.26" y2="188.7" stroke="#161616" stroke-width="0.7"/>
<line x1="42.8" y1="171.65" x2="44.6" y2="171.65" stroke="#161616" stroke-width="0.7"/>
<line x1="204.3" y1="171.65" x2="207.9" y2="171.65" stroke="#161616" stroke-width="0.7"/>
<line x1="368.1" y1="171.65" x2="369.9" y2="171.65" stroke="#161616" stroke-width="0.7"/>
<line x1="42.8" y1="151.2" x2="46.2" y2="151.2" stroke="#161616" stroke-width="0.7"/>
<line x1="202.7" y1="151.2" x2="209.5" y2="151.2" stroke="#161616" stroke-width="0.7"/>
<line x1="366.5" y1="151.2" x2="369.9" y2="151.2" stroke="#161616" stroke-width="0.7"/>
<line x1="42.8" y1="130.75" x2="44.6" y2="130.75" stroke="#161616" stroke-width="0.7"/>
<line x1="204.3" y1="130.75" x2="207.9" y2="130.75" stroke="#161616" stroke-width="0.7"/>
<line x1="368.1" y1="130.75" x2="369.9" y2="130.75" stroke="#161616" stroke-width="0.7"/>
<line x1="42.8" y1="110.3" x2="46.2" y2="110.3" stroke="#161616" stroke-width="0.7"/>
<line x1="202.7" y1="110.3" x2="209.5" y2="110.3" stroke="#161616" stroke-width="0.7"/>
<line x1="366.5" y1="110.3" x2="369.9" y2="110.3" stroke="#161616" stroke-width="0.7"/>
<line x1="42.8" y1="89.85" x2="44.6" y2="89.85" stroke="#161616" stroke-width="0.7"/>
<line x1="204.3" y1="89.85" x2="207.9" y2="89.85" stroke="#161616" stroke-width="0.7"/>
<line x1="368.1" y1="89.85" x2="369.9" y2="89.85" stroke="#161616" stroke-width="0.7"/>
<line x1="42.8" y1="69.4" x2="46.2" y2="69.4" stroke="#161616" stroke-width="0.7"/>
<line x1="202.7" y1="69.4" x2="209.5" y2="69.4" stroke="#161616" stroke-width="0.7"/>
<line x1="366.5" y1="69.4" x2="369.9" y2="69.4" stroke="#161616" stroke-width="0.7"/>
<line x1="42.8" y1="48.95" x2="44.6" y2="48.95" stroke="#161616" stroke-width="0.7"/>
<line x1="204.3" y1="48.95" x2="207.9" y2="48.95" stroke="#161616" stroke-width="0.7"/>
<line x1="368.1" y1="48.95" x2="369.9" y2="48.95" stroke="#161616" stroke-width="0.7"/>
<line x1="53.01" y1="355.7" x2="53.01" y2="352.3" stroke="#161616" stroke-width="0.7"/>
<line x1="53.01" y1="192.1" x2="53.01" y2="195.5" stroke="#161616" stroke-width="0.7"/>
<line x1="63.21" y1="355.7" x2="63.21" y2="353.9" stroke="#161616" stroke-width="0.7"/>
<line x1="63.21" y1="192.1" x2="63.21" y2="193.9" stroke="#161616" stroke-width="0.7"/>
<line x1="73.42" y1="355.7" x2="73.42" y2="352.3" stroke="#161616" stroke-width="0.7"/>
<line x1="73.42" y1="192.1" x2="73.42" y2="195.5" stroke="#161616" stroke-width="0.7"/>
<line x1="83.62" y1="355.7" x2="83.62" y2="353.9" stroke="#161616" stroke-width="0.7"/>
<line x1="83.62" y1="192.1" x2="83.62" y2="193.9" stroke="#161616" stroke-width="0.7"/>
<line x1="93.83" y1="355.7" x2="93.83" y2="352.3" stroke="#161616" stroke-width="0.7"/>
<line x1="93.83" y1="192.1" x2="93.83" y2="195.5" stroke="#161616" stroke-width="0.7"/>
<line x1="104.04" y1="355.7" x2="104.04" y2="353.9" stroke="#161616" stroke-width="0.7"/>
<line x1="104.04" y1="192.1" x2="104.04" y2="193.9" stroke="#161616" stroke-width="0.7"/>
<line x1="114.24" y1="355.7" x2="114.24" y2="352.3" stroke="#161616" stroke-width="0.7"/>
<line x1="114.24" y1="192.1" x2="114.24" y2="195.5" stroke="#161616" stroke-width="0.7"/>
<line x1="124.45" y1="355.7" x2="124.45" y2="353.9" stroke="#161616" stroke-width="0.7"/>
<line x1="124.45" y1="192.1" x2="124.45" y2="193.9" stroke="#161616" stroke-width="0.7"/>
<line x1="134.66" y1="355.7" x2="134.66" y2="352.3" stroke="#161616" stroke-width="0.7"/>
<line x1="134.66" y1="192.1" x2="134.66" y2="195.5" stroke="#161616" stroke-width="0.7"/>
<line x1="144.86" y1="355.7" x2="144.86" y2="353.9" stroke="#161616" stroke-width="0.7"/>
<line x1="144.86" y1="192.1" x2="144.86" y2="193.9" stroke="#161616" stroke-width="0.7"/>
<line x1="155.07" y1="355.7" x2="155.07" y2="352.3" stroke="#161616" stroke-width="0.7"/>
<line x1="155.07" y1="192.1" x2="155.07" y2="195.5" stroke="#161616" stroke-width="0.7"/>
<line x1="165.28" y1="355.7" x2="165.28" y2="353.9" stroke="#161616" stroke-width="0.7"/>
<line x1="165.28" y1="192.1" x2="165.28" y2="193.9" stroke="#161616" stroke-width="0.7"/>
<line x1="175.48" y1="355.7" x2="175.48" y2="352.3" stroke="#161616" stroke-width="0.7"/>
<line x1="175.48" y1="192.1" x2="175.48" y2="195.5" stroke="#161616" stroke-width="0.7"/>
<line x1="185.69" y1="355.7" x2="185.69" y2="353.9" stroke="#161616" stroke-width="0.7"/>
<line x1="185.69" y1="192.1" x2="185.69" y2="193.9" stroke="#161616" stroke-width="0.7"/>
<line x1="195.89" y1="355.7" x2="195.89" y2="352.3" stroke="#161616" stroke-width="0.7"/>
<line x1="195.89" y1="192.1" x2="195.89" y2="195.5" stroke="#161616" stroke-width="0.7"/>
<line x1="42.8" y1="339.34" x2="44.6" y2="339.34" stroke="#161616" stroke-width="0.7"/>
<line x1="204.3" y1="339.34" x2="206.1" y2="339.34" stroke="#161616" stroke-width="0.7"/>
<line x1="42.8" y1="322.98" x2="46.2" y2="322.98" stroke="#161616" stroke-width="0.7"/>
<line x1="202.7" y1="322.98" x2="206.1" y2="322.98" stroke="#161616" stroke-width="0.7"/>
<line x1="42.8" y1="306.62" x2="44.6" y2="306.62" stroke="#161616" stroke-width="0.7"/>
<line x1="204.3" y1="306.62" x2="206.1" y2="306.62" stroke="#161616" stroke-width="0.7"/>
<line x1="42.8" y1="290.26" x2="46.2" y2="290.26" stroke="#161616" stroke-width="0.7"/>
<line x1="202.7" y1="290.26" x2="206.1" y2="290.26" stroke="#161616" stroke-width="0.7"/>
<line x1="42.8" y1="273.9" x2="44.6" y2="273.9" stroke="#161616" stroke-width="0.7"/>
<line x1="204.3" y1="273.9" x2="206.1" y2="273.9" stroke="#161616" stroke-width="0.7"/>
<line x1="42.8" y1="257.54" x2="46.2" y2="257.54" stroke="#161616" stroke-width="0.7"/>
<line x1="202.7" y1="257.54" x2="206.1" y2="257.54" stroke="#161616" stroke-width="0.7"/>
<line x1="42.8" y1="241.18" x2="44.6" y2="241.18" stroke="#161616" stroke-width="0.7"/>
<line x1="204.3" y1="241.18" x2="206.1" y2="241.18" stroke="#161616" stroke-width="0.7"/>
<line x1="42.8" y1="224.82" x2="46.2" y2="224.82" stroke="#161616" stroke-width="0.7"/>
<line x1="202.7" y1="224.82" x2="206.1" y2="224.82" stroke="#161616" stroke-width="0.7"/>
<line x1="42.8" y1="208.46" x2="44.6" y2="208.46" stroke="#161616" stroke-width="0.7"/>
<line x1="204.3" y1="208.46" x2="206.1" y2="208.46" stroke="#161616" stroke-width="0.7"/>
<polyline fill="none" stroke="#111" stroke-width="0.8" points="53.01,240.85 73.42,232.84 93.83,238.07 114.24,246.74 134.66,255.58 155.07,262.61 175.48,266.87 195.89,272.59"/>
<circle cx="53.01" cy="240.85" r="1.1" fill="#000"/>
<circle cx="73.42" cy="232.84" r="1.1" fill="#000"/>
<circle cx="93.83" cy="238.07" r="1.1" fill="#000"/>
<circle cx="114.24" cy="246.74" r="1.1" fill="#000"/>
<circle cx="134.66" cy="255.58" r="1.1" fill="#000"/>
<circle cx="155.07" cy="262.61" r="1.1" fill="#000"/>
<circle cx="175.48" cy="266.87" r="1.1" fill="#000"/>
<circle cx="195.89" cy="272.59" r="1.1" fill="#000"/>
<g font-family="'Liberation Serif', serif">
<text x="42.4" y="23.8" font-size="8.4" text-anchor="middle" fill="#4c4c4c" >10<tspan font-size="7.800000000000001" dy="-3.1" dx="0.4">−</tspan><tspan font-size="6.2">7</tspan></text>
<text x="78.69" y="23.8" font-size="8.4" text-anchor="middle" fill="#4c4c4c" >10<tspan font-size="7.800000000000001" dy="-3.1" dx="0.4">−</tspan><tspan font-size="6.2">5</tspan></text>
<text x="114.98" y="23.8" font-size="8.4" text-anchor="middle" fill="#4c4c4c" >10<tspan font-size="7.800000000000001" dy="-3.1" dx="0.4">−</tspan><tspan font-size="6.2">3</tspan></text>
<text x="151.27" y="23.8" font-size="8.4" text-anchor="middle" fill="#4c4c4c" >10<tspan font-size="7.800000000000001" dy="-3.1" dx="0.4">−</tspan><tspan font-size="6.2">1</tspan></text>
<text x="187.96" y="23.8" font-size="8.4" text-anchor="middle" fill="#4c4c4c" >10<tspan font-size="6.2" dy="-3.1" dx="0.4">1</tspan></text>
<text x="241.99" y="23.8" font-size="8.4" text-anchor="middle" fill="#4c4c4c" >10<tspan font-size="7.800000000000001" dy="-3.1" dx="0.4">−</tspan><tspan font-size="6.2">5</tspan></text>
<text x="278.28" y="23.8" font-size="8.4" text-anchor="middle" fill="#4c4c4c" >10<tspan font-size="7.800000000000001" dy="-3.1" dx="0.4">−</tspan><tspan font-size="6.2">3</tspan></text>
<text x="314.57" y="23.8" font-size="8.4" text-anchor="middle" fill="#4c4c4c" >10<tspan font-size="7.800000000000001" dy="-3.1" dx="0.4">−</tspan><tspan font-size="6.2">1</tspan></text>
<text x="351.26" y="23.8" font-size="8.4" text-anchor="middle" fill="#4c4c4c" >10<tspan font-size="6.2" dy="-3.1" dx="0.4">1</tspan></text>
<text x="37" y="72.8" font-size="8.4" text-anchor="end" fill="#4c4c4c" >10<tspan font-size="6.2" dy="-3.1" dx="0.4">3</tspan></text>
<text x="374.8" y="72.8" font-size="8.4" text-anchor="start" fill="#4c4c4c" >10<tspan font-size="6.2" dy="-3.1" dx="0.4">3</tspan></text>
<text x="37" y="113.7" font-size="8.4" text-anchor="end" fill="#4c4c4c" >10<tspan font-size="6.2" dy="-3.1" dx="0.4">1</tspan></text>
<text x="374.8" y="113.7" font-size="8.4" text-anchor="start" fill="#4c4c4c" >10<tspan font-size="6.2" dy="-3.1" dx="0.4">1</tspan></text>
<text x="37" y="154.6" font-size="8.4" text-anchor="end" fill="#4c4c4c" >10<tspan font-size="7.800000000000001" dy="-3.1" dx="0.4">−</tspan><tspan font-size="6.2">1</tspan></text>
<text x="374.8" y="154.6" font-size="8.4" text-anchor="start" fill="#4c4c4c" >10<tspan font-size="7.800000000000001" dy="-3.1" dx="0.4">−</tspan><tspan font-size="6.2">1</tspan></text>
<text x="37" y="195.5" font-size="8.4" text-anchor="end" fill="#4c4c4c" >10<tspan font-size="7.800000000000001" dy="-3.1" dx="0.4">−</tspan><tspan font-size="6.2">3</tspan></text>
<text x="374.8" y="195.5" font-size="8.4" text-anchor="start" fill="#4c4c4c" >10<tspan font-size="7.800000000000001" dy="-3.1" dx="0.4">−</tspan><tspan font-size="6.2">3</tspan></text>
<text x="37.4" y="358.6" font-size="8.4" text-anchor="end" fill="#4c4c4c" >0.0</text>
<text x="37.4" y="325.88" font-size="8.4" text-anchor="end" fill="#4c4c4c" >0.2</text>
<text x="37.4" y="293.16" font-size="8.4" text-anchor="end" fill="#4c4c4c" >0.4</text>
<text x="37.4" y="260.44" font-size="8.4" text-anchor="end" fill="#4c4c4c" >0.6</text>
<text x="37.4" y="227.72" font-size="8.4" text-anchor="end" fill="#4c4c4c" >0.8</text>
<text x="53.01" y="366.5" font-size="8.4" text-anchor="middle" fill="#4c4c4c" >3</text>
<text x="73.42" y="366.5" font-size="8.4" text-anchor="middle" fill="#4c4c4c" >4</text>
<text x="93.83" y="366.5" font-size="8.4" text-anchor="middle" fill="#4c4c4c" >5</text>
<text x="114.24" y="366.5" font-size="8.4" text-anchor="middle" fill="#4c4c4c" >6</text>
<text x="134.66" y="366.5" font-size="8.4" text-anchor="middle" fill="#4c4c4c" >7</text>
<text x="155.07" y="366.5" font-size="8.4" text-anchor="middle" fill="#4c4c4c" >8</text>
<text x="175.48" y="366.5" font-size="8.4" text-anchor="middle" fill="#4c4c4c" >9</text>
<text x="195.89" y="366.5" font-size="8.4" text-anchor="middle" fill="#4c4c4c" >10</text>
<text x="124" y="12.1" font-size="10.6" text-anchor="middle" fill="#4c4c4c" textLength="31.4" lengthAdjust="spacing"><tspan font-style="italic">r</tspan>/<tspan font-style="italic">σ</tspan> − 1</text>
<text x="287.6" y="12.1" font-size="10.6" text-anchor="middle" fill="#4c4c4c" textLength="31.4" lengthAdjust="spacing"><tspan font-style="italic">r</tspan>/<tspan font-style="italic">σ</tspan> − 1</text>
<text x="0" y="0" font-size="10.2" text-anchor="middle" fill="#4c4c4c" transform="translate(14.4,104.4) rotate(-90)"><tspan font-style="italic">Z</tspan>(<tspan font-style="italic">r</tspan>) − <tspan font-style="italic">Z</tspan>(<tspan font-style="italic">σ</tspan> + <tspan font-style="italic">σ</tspan>10<tspan font-size="8" dy="-5.6" dx="0.3">−</tspan><tspan font-size="6.6">7</tspan><tspan dy="5.6">)</tspan></text>
<text x="0" y="0" font-size="10.2" text-anchor="middle" fill="#4c4c4c" transform="translate(403.2,104.4) rotate(-90)"><tspan font-style="italic">Z</tspan>(<tspan font-style="italic">r</tspan>) − <tspan font-style="italic">Z</tspan>(<tspan font-style="italic">σ</tspan> + <tspan font-style="italic">σ</tspan>10<tspan font-size="8" dy="-5.6" dx="0.3">−</tspan><tspan font-size="6.6">7</tspan><tspan dy="5.6">)</tspan></text>
<text x="0" y="0" font-size="10.5" text-anchor="middle" fill="#4c4c4c" transform="translate(21.8,273) rotate(-90)" textLength="43" lengthAdjust="spacing"><tspan font-style="italic">C</tspan>′/(<tspan font-style="italic">d</tspan>2<tspan font-style="italic" font-size="6.6" dy="-4.2">d</tspan><tspan dy="4.2" font-style="italic">φ</tspan>)</text>
<path d="M15.6,260.2 L14.1,258.2 L15.6,256.2" fill="none" stroke="#4c4c4c" stroke-width="0.6"/>
<text x="124.5" y="377.5" font-size="10.4" text-anchor="middle" fill="#4c4c4c" ><tspan font-style="italic">d</tspan></text>
<text x="62" y="46.3" font-size="10" text-anchor="middle" fill="#4c4c4c" >(e)</text>
<text x="225.5" y="46.3" font-size="10" text-anchor="middle" fill="#4c4c4c" >(f)</text>
<text x="62.5" y="210" font-size="10" text-anchor="middle" fill="#4c4c4c" >(g)</text>
<text x="132.8" y="155.4" font-size="9.5" text-anchor="start" fill="#4c4c4c" ><tspan font-style="italic">d</tspan>=3–10</text>
<text x="296.1" y="155" font-size="9.5" text-anchor="start" fill="#4c4c4c" ><tspan font-style="italic">d</tspan>=3–10</text>
<text x="157" y="128.4" font-size="6" text-anchor="start" fill="#5a5a5a" textLength="47.5" lengthAdjust="spacing">∼ (<tspan font-style="italic">r</tspan>/<tspan font-style="italic">σ</tspan> − 1)<tspan font-size="4.4" dy="-2.2">1−<tspan font-style="italic">α</tspan></tspan></text>
<text x="321" y="128" font-size="6" text-anchor="start" fill="#5a5a5a" textLength="46" lengthAdjust="spacing">∼ (<tspan font-style="italic">r</tspan>/<tspan font-style="italic">σ</tspan> − 1)<tspan font-size="4.4" dy="-2.2">1−<tspan font-style="italic">α</tspan></tspan></text>
</g>
</svg>
</body></html>
